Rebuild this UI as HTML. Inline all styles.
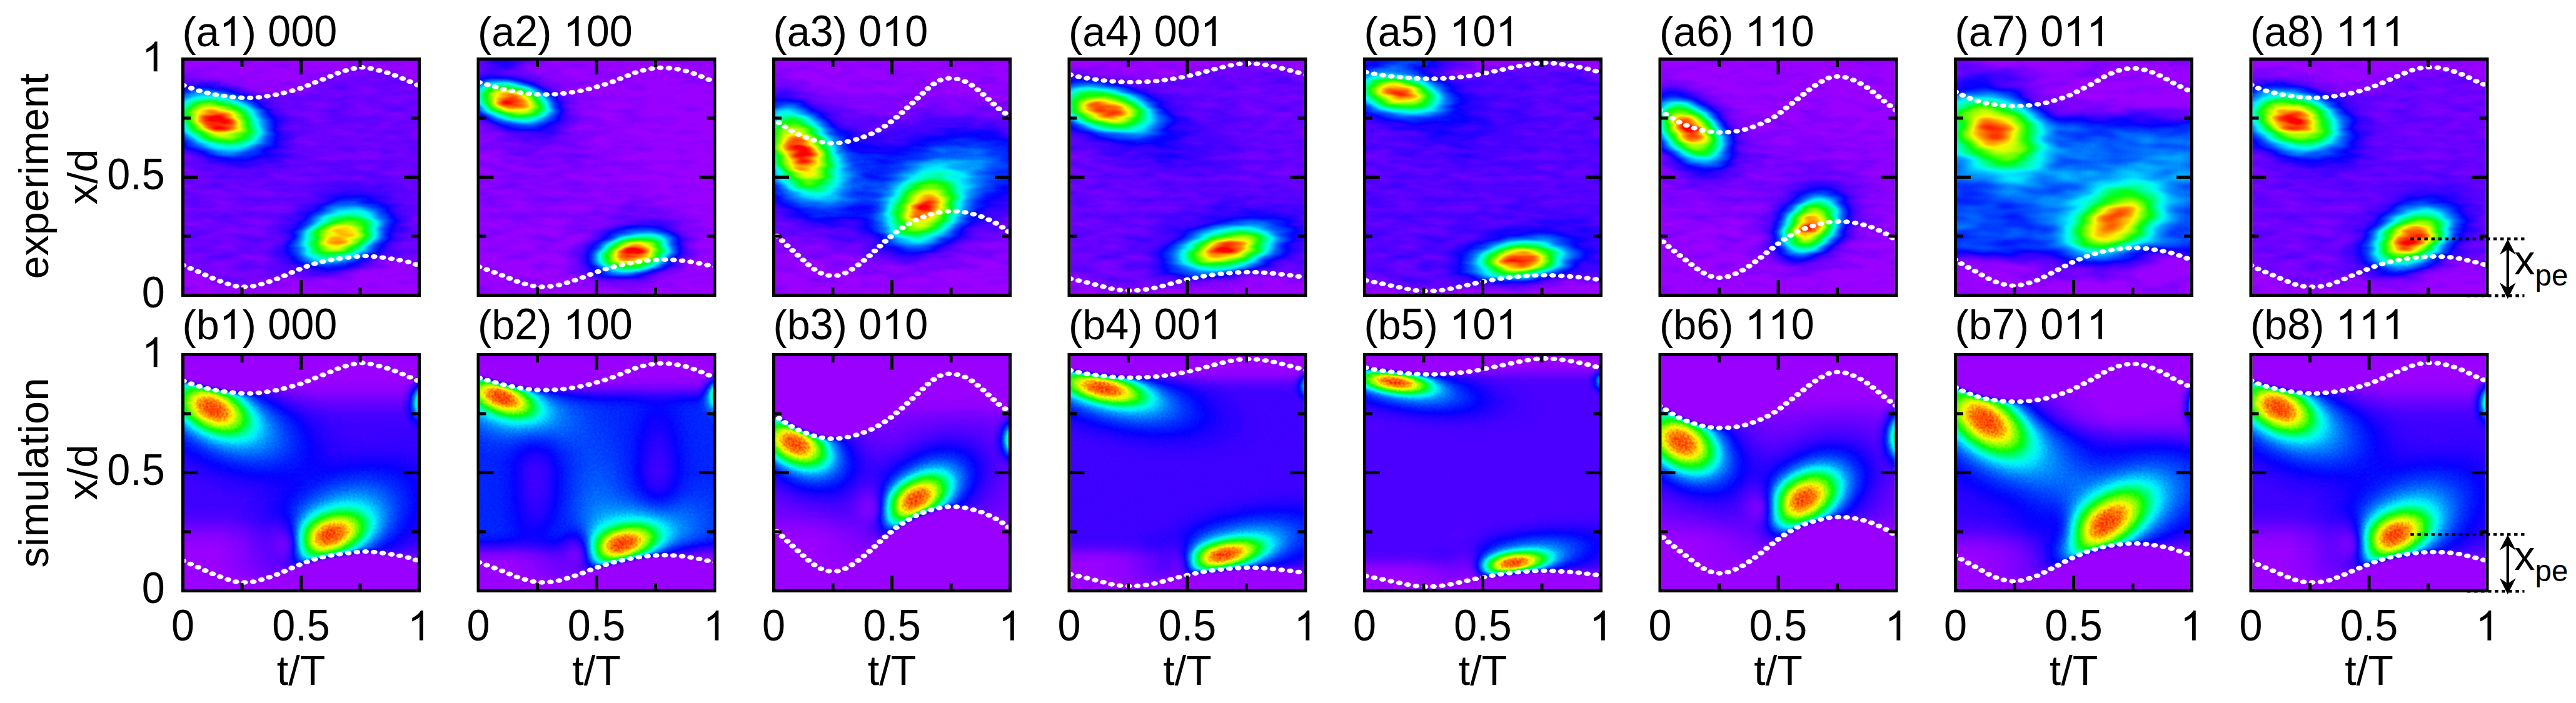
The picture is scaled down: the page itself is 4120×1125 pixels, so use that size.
<!DOCTYPE html>
<html><head><meta charset="utf-8"><title>figure</title><style>html,body{margin:0;padding:0;background:#fff;overflow:hidden}svg{display:block}text{font-family:"Liberation Sans",sans-serif;font-size:66.5px;fill:#000;font-kerning:none}.fr{fill:none;stroke:#000;stroke-width:5}.tk{fill:none;stroke:#000;stroke-width:5}.dot{fill:none;stroke:#fff;stroke-width:7.4;stroke-linecap:round;stroke-dasharray:0.01 9.6}.dl{fill:none;stroke:#000;stroke-width:4.6;stroke-dasharray:5.5 5.55}</style></head>
<body>
<svg width="4120" height="1125" viewBox="0 0 4120 1125">
<defs>
<clipPath id="inner"><rect x="5" y="5" width="373" height="373"/></clipPath>
<filter id="cma" filterUnits="userSpaceOnUse" x="0" y="0" width="383" height="383" color-interpolation-filters="sRGB"><feTurbulence type="fractalNoise" baseFrequency="0.022 0.085" numOctaves="2" seed="7" result="n"/><feColorMatrix in="n" type="matrix" values="1 0 0 0 0  1 0 0 0 0  1 0 0 0 0  0 0 0 0 1" result="n1"/><feComposite in="SourceGraphic" in2="n1" operator="arithmetic" k1="0.22" k2="0.89" k3="0.06" k4="-0.03" result="m"/><feComponentTransfer in="m"><feFuncR type="table" tableValues="0.6 0.41 0.22 0.02 0 0 0 0 0 0 0 0 0 0 0.08 0.28 0.47 0.66 0.85 1 1 1 1 1 1"/><feFuncG type="table" tableValues="0 0 0 0 0.17 0.36 0.55 0.74 0.93 1 1 1 1 1 1 1 1 1 1 0.96 0.77 0.58 0.38 0.19 0"/><feFuncB type="table" tableValues="1 1 1 1 1 1 1 1 1 0.88 0.68 0.49 0.3 0.11 0 0 0 0 0 0 0 0 0 0 0"/></feComponentTransfer></filter>
<filter id="cmb" filterUnits="userSpaceOnUse" x="0" y="0" width="383" height="383" color-interpolation-filters="sRGB"><feTurbulence type="fractalNoise" baseFrequency="0.28" numOctaves="1" seed="3" result="n"/><feColorMatrix in="n" type="matrix" values="1 0 0 0 0  1 0 0 0 0  1 0 0 0 0  0 0 0 0 1" result="n1"/><feComposite in="SourceGraphic" in2="n1" operator="arithmetic" k1="0.18" k2="0.91" k3="0" k4="0" result="m"/><feComponentTransfer in="m"><feFuncR type="table" tableValues="0.6 0.41 0.22 0.02 0 0 0 0 0 0 0 0 0 0 0.08 0.28 0.47 0.66 0.85 1 1 1 1 1 1"/><feFuncG type="table" tableValues="0 0 0 0 0.17 0.36 0.55 0.74 0.93 1 1 1 1 1 1 1 1 1 1 0.96 0.77 0.58 0.38 0.19 0"/><feFuncB type="table" tableValues="1 1 1 1 1 1 1 1 1 0.88 0.68 0.49 0.3 0.11 0 0 0 0 0 0 0 0 0 0 0"/></feComponentTransfer></filter>
<filter id="cmc" filterUnits="userSpaceOnUse" x="0" y="0" width="383" height="383" color-interpolation-filters="sRGB"><feTurbulence type="fractalNoise" baseFrequency="0.016 0.05" numOctaves="2" seed="11" result="n"/><feColorMatrix in="n" type="matrix" values="1 0 0 0 0  1 0 0 0 0  1 0 0 0 0  0 0 0 0 1" result="n1"/><feComposite in="SourceGraphic" in2="n1" operator="arithmetic" k1="0.2" k2="0.9" k3="0.1" k4="-0.05" result="m"/><feComponentTransfer in="m"><feFuncR type="table" tableValues="0.6 0.41 0.22 0.02 0 0 0 0 0 0 0 0 0 0 0.08 0.28 0.47 0.66 0.85 1 1 1 1 1 1"/><feFuncG type="table" tableValues="0 0 0 0 0.17 0.36 0.55 0.74 0.93 1 1 1 1 1 1 1 1 1 1 0.96 0.77 0.58 0.38 0.19 0"/><feFuncB type="table" tableValues="1 1 1 1 1 1 1 1 1 0.88 0.68 0.49 0.3 0.11 0 0 0 0 0 0 0 0 0 0 0"/></feComponentTransfer></filter>
<filter id="cmn" filterUnits="userSpaceOnUse" x="0" y="0" width="383" height="383" color-interpolation-filters="sRGB"><feComponentTransfer><feFuncR type="table" tableValues="0.6 0.41 0.22 0.02 0 0 0 0 0 0 0 0 0 0 0.08 0.28 0.47 0.66 0.85 1 1 1 1 1 1"/><feFuncG type="table" tableValues="0 0 0 0 0.17 0.36 0.55 0.74 0.93 1 1 1 1 1 1 1 1 1 1 0.96 0.77 0.58 0.38 0.19 0"/><feFuncB type="table" tableValues="1 1 1 1 1 1 1 1 1 0.88 0.68 0.49 0.3 0.11 0 0 0 0 0 0 0 0 0 0 0"/></feComponentTransfer></filter>
<filter id="b3" filterUnits="userSpaceOnUse" x="-80" y="-80" width="543" height="543" color-interpolation-filters="sRGB"><feGaussianBlur stdDeviation="3"/></filter>
<filter id="b8" filterUnits="userSpaceOnUse" x="-80" y="-80" width="543" height="543" color-interpolation-filters="sRGB"><feGaussianBlur stdDeviation="8"/></filter>
<filter id="b9" filterUnits="userSpaceOnUse" x="-80" y="-80" width="543" height="543" color-interpolation-filters="sRGB"><feGaussianBlur stdDeviation="9"/></filter>
<filter id="b10" filterUnits="userSpaceOnUse" x="-80" y="-80" width="543" height="543" color-interpolation-filters="sRGB"><feGaussianBlur stdDeviation="10"/></filter>
<filter id="b12" filterUnits="userSpaceOnUse" x="-80" y="-80" width="543" height="543" color-interpolation-filters="sRGB"><feGaussianBlur stdDeviation="12"/></filter>
<filter id="b14" filterUnits="userSpaceOnUse" x="-80" y="-80" width="543" height="543" color-interpolation-filters="sRGB"><feGaussianBlur stdDeviation="14"/></filter>
<filter id="b16" filterUnits="userSpaceOnUse" x="-80" y="-80" width="543" height="543" color-interpolation-filters="sRGB"><feGaussianBlur stdDeviation="16"/></filter>
<filter id="b18" filterUnits="userSpaceOnUse" x="-80" y="-80" width="543" height="543" color-interpolation-filters="sRGB"><feGaussianBlur stdDeviation="18"/></filter>
<radialGradient id="g10_20"><stop offset="0" stop-color="#fff" stop-opacity="0.098"/><stop offset="0.04" stop-color="#fff" stop-opacity="0.097"/><stop offset="0.08" stop-color="#fff" stop-opacity="0.095"/><stop offset="0.12" stop-color="#fff" stop-opacity="0.091"/><stop offset="0.17" stop-color="#fff" stop-opacity="0.086"/><stop offset="0.21" stop-color="#fff" stop-opacity="0.081"/><stop offset="0.25" stop-color="#fff" stop-opacity="0.074"/><stop offset="0.29" stop-color="#fff" stop-opacity="0.067"/><stop offset="0.33" stop-color="#fff" stop-opacity="0.059"/><stop offset="0.38" stop-color="#fff" stop-opacity="0.052"/><stop offset="0.42" stop-color="#fff" stop-opacity="0.045"/><stop offset="0.46" stop-color="#fff" stop-opacity="0.038"/><stop offset="0.5" stop-color="#fff" stop-opacity="0.032"/><stop offset="0.54" stop-color="#fff" stop-opacity="0.026"/><stop offset="0.58" stop-color="#fff" stop-opacity="0.021"/><stop offset="0.62" stop-color="#fff" stop-opacity="0.017"/><stop offset="0.67" stop-color="#fff" stop-opacity="0.013"/><stop offset="0.71" stop-color="#fff" stop-opacity="0.01"/><stop offset="0.75" stop-color="#fff" stop-opacity="0.008"/><stop offset="0.79" stop-color="#fff" stop-opacity="0.006"/><stop offset="0.83" stop-color="#fff" stop-opacity="0.004"/><stop offset="0.88" stop-color="#fff" stop-opacity="0.003"/><stop offset="0.92" stop-color="#fff" stop-opacity="0.002"/><stop offset="0.96" stop-color="#fff" stop-opacity="0.002"/><stop offset="1" stop-color="#fff" stop-opacity="0"/></radialGradient>
<radialGradient id="g102_22"><stop offset="0" stop-color="#fff" stop-opacity="1"/><stop offset="0.04" stop-color="#fff" stop-opacity="1"/><stop offset="0.08" stop-color="#fff" stop-opacity="0.996"/><stop offset="0.12" stop-color="#fff" stop-opacity="0.963"/><stop offset="0.17" stop-color="#fff" stop-opacity="0.915"/><stop offset="0.21" stop-color="#fff" stop-opacity="0.854"/><stop offset="0.25" stop-color="#fff" stop-opacity="0.782"/><stop offset="0.29" stop-color="#fff" stop-opacity="0.703"/><stop offset="0.33" stop-color="#fff" stop-opacity="0.619"/><stop offset="0.38" stop-color="#fff" stop-opacity="0.534"/><stop offset="0.42" stop-color="#fff" stop-opacity="0.451"/><stop offset="0.46" stop-color="#fff" stop-opacity="0.372"/><stop offset="0.5" stop-color="#fff" stop-opacity="0.301"/><stop offset="0.54" stop-color="#fff" stop-opacity="0.238"/><stop offset="0.58" stop-color="#fff" stop-opacity="0.184"/><stop offset="0.62" stop-color="#fff" stop-opacity="0.139"/><stop offset="0.67" stop-color="#fff" stop-opacity="0.103"/><stop offset="0.71" stop-color="#fff" stop-opacity="0.074"/><stop offset="0.75" stop-color="#fff" stop-opacity="0.052"/><stop offset="0.79" stop-color="#fff" stop-opacity="0.036"/><stop offset="0.83" stop-color="#fff" stop-opacity="0.024"/><stop offset="0.88" stop-color="#fff" stop-opacity="0.016"/><stop offset="0.92" stop-color="#fff" stop-opacity="0.01"/><stop offset="0.96" stop-color="#fff" stop-opacity="0.006"/><stop offset="1" stop-color="#fff" stop-opacity="0"/></radialGradient>
<radialGradient id="g87_22"><stop offset="0" stop-color="#fff" stop-opacity="0.87"/><stop offset="0.04" stop-color="#fff" stop-opacity="0.866"/><stop offset="0.08" stop-color="#fff" stop-opacity="0.85"/><stop offset="0.12" stop-color="#fff" stop-opacity="0.821"/><stop offset="0.17" stop-color="#fff" stop-opacity="0.78"/><stop offset="0.21" stop-color="#fff" stop-opacity="0.728"/><stop offset="0.25" stop-color="#fff" stop-opacity="0.667"/><stop offset="0.29" stop-color="#fff" stop-opacity="0.599"/><stop offset="0.33" stop-color="#fff" stop-opacity="0.528"/><stop offset="0.38" stop-color="#fff" stop-opacity="0.455"/><stop offset="0.42" stop-color="#fff" stop-opacity="0.384"/><stop offset="0.46" stop-color="#fff" stop-opacity="0.318"/><stop offset="0.5" stop-color="#fff" stop-opacity="0.257"/><stop offset="0.54" stop-color="#fff" stop-opacity="0.203"/><stop offset="0.58" stop-color="#fff" stop-opacity="0.157"/><stop offset="0.62" stop-color="#fff" stop-opacity="0.119"/><stop offset="0.67" stop-color="#fff" stop-opacity="0.087"/><stop offset="0.71" stop-color="#fff" stop-opacity="0.063"/><stop offset="0.75" stop-color="#fff" stop-opacity="0.044"/><stop offset="0.79" stop-color="#fff" stop-opacity="0.03"/><stop offset="0.83" stop-color="#fff" stop-opacity="0.02"/><stop offset="0.88" stop-color="#fff" stop-opacity="0.013"/><stop offset="0.92" stop-color="#fff" stop-opacity="0.008"/><stop offset="0.96" stop-color="#fff" stop-opacity="0.005"/><stop offset="1" stop-color="#fff" stop-opacity="0"/></radialGradient>
<radialGradient id="g2_20"><stop offset="0" stop-color="#fff" stop-opacity="0.022"/><stop offset="0.04" stop-color="#fff" stop-opacity="0.022"/><stop offset="0.08" stop-color="#fff" stop-opacity="0.021"/><stop offset="0.12" stop-color="#fff" stop-opacity="0.021"/><stop offset="0.17" stop-color="#fff" stop-opacity="0.019"/><stop offset="0.21" stop-color="#fff" stop-opacity="0.018"/><stop offset="0.25" stop-color="#fff" stop-opacity="0.017"/><stop offset="0.29" stop-color="#fff" stop-opacity="0.015"/><stop offset="0.33" stop-color="#fff" stop-opacity="0.013"/><stop offset="0.38" stop-color="#fff" stop-opacity="0.012"/><stop offset="0.42" stop-color="#fff" stop-opacity="0.01"/><stop offset="0.46" stop-color="#fff" stop-opacity="0.009"/><stop offset="0.5" stop-color="#fff" stop-opacity="0.007"/><stop offset="0.54" stop-color="#fff" stop-opacity="0.006"/><stop offset="0.58" stop-color="#fff" stop-opacity="0.005"/><stop offset="0.62" stop-color="#fff" stop-opacity="0.004"/><stop offset="0.67" stop-color="#fff" stop-opacity="0.003"/><stop offset="0.71" stop-color="#fff" stop-opacity="0.002"/><stop offset="0.75" stop-color="#fff" stop-opacity="0.002"/><stop offset="0.79" stop-color="#fff" stop-opacity="0.001"/><stop offset="0.83" stop-color="#fff" stop-opacity="0.001"/><stop offset="0.88" stop-color="#fff" stop-opacity="0.001"/><stop offset="0.92" stop-color="#fff" stop-opacity="0.001"/><stop offset="0.96" stop-color="#fff" stop-opacity="0"/><stop offset="1" stop-color="#fff" stop-opacity="0"/></radialGradient>
<radialGradient id="g11_20"><stop offset="0" stop-color="#fff" stop-opacity="0.112"/><stop offset="0.04" stop-color="#fff" stop-opacity="0.111"/><stop offset="0.08" stop-color="#fff" stop-opacity="0.109"/><stop offset="0.12" stop-color="#fff" stop-opacity="0.104"/><stop offset="0.17" stop-color="#fff" stop-opacity="0.099"/><stop offset="0.21" stop-color="#fff" stop-opacity="0.092"/><stop offset="0.25" stop-color="#fff" stop-opacity="0.085"/><stop offset="0.29" stop-color="#fff" stop-opacity="0.076"/><stop offset="0.33" stop-color="#fff" stop-opacity="0.068"/><stop offset="0.38" stop-color="#fff" stop-opacity="0.059"/><stop offset="0.42" stop-color="#fff" stop-opacity="0.051"/><stop offset="0.46" stop-color="#fff" stop-opacity="0.044"/><stop offset="0.5" stop-color="#fff" stop-opacity="0.036"/><stop offset="0.54" stop-color="#fff" stop-opacity="0.03"/><stop offset="0.58" stop-color="#fff" stop-opacity="0.024"/><stop offset="0.62" stop-color="#fff" stop-opacity="0.019"/><stop offset="0.67" stop-color="#fff" stop-opacity="0.015"/><stop offset="0.71" stop-color="#fff" stop-opacity="0.012"/><stop offset="0.75" stop-color="#fff" stop-opacity="0.009"/><stop offset="0.79" stop-color="#fff" stop-opacity="0.007"/><stop offset="0.83" stop-color="#fff" stop-opacity="0.005"/><stop offset="0.88" stop-color="#fff" stop-opacity="0.004"/><stop offset="0.92" stop-color="#fff" stop-opacity="0.003"/><stop offset="0.96" stop-color="#fff" stop-opacity="0.002"/><stop offset="1" stop-color="#fff" stop-opacity="0"/></radialGradient>
<radialGradient id="g13_20"><stop offset="0" stop-color="#fff" stop-opacity="0.133"/><stop offset="0.04" stop-color="#fff" stop-opacity="0.132"/><stop offset="0.08" stop-color="#fff" stop-opacity="0.129"/><stop offset="0.12" stop-color="#fff" stop-opacity="0.124"/><stop offset="0.17" stop-color="#fff" stop-opacity="0.117"/><stop offset="0.21" stop-color="#fff" stop-opacity="0.109"/><stop offset="0.25" stop-color="#fff" stop-opacity="0.1"/><stop offset="0.29" stop-color="#fff" stop-opacity="0.091"/><stop offset="0.33" stop-color="#fff" stop-opacity="0.081"/><stop offset="0.38" stop-color="#fff" stop-opacity="0.071"/><stop offset="0.42" stop-color="#fff" stop-opacity="0.061"/><stop offset="0.46" stop-color="#fff" stop-opacity="0.052"/><stop offset="0.5" stop-color="#fff" stop-opacity="0.043"/><stop offset="0.54" stop-color="#fff" stop-opacity="0.036"/><stop offset="0.58" stop-color="#fff" stop-opacity="0.029"/><stop offset="0.62" stop-color="#fff" stop-opacity="0.023"/><stop offset="0.67" stop-color="#fff" stop-opacity="0.018"/><stop offset="0.71" stop-color="#fff" stop-opacity="0.014"/><stop offset="0.75" stop-color="#fff" stop-opacity="0.011"/><stop offset="0.79" stop-color="#fff" stop-opacity="0.008"/><stop offset="0.83" stop-color="#fff" stop-opacity="0.006"/><stop offset="0.88" stop-color="#fff" stop-opacity="0.004"/><stop offset="0.92" stop-color="#fff" stop-opacity="0.003"/><stop offset="0.96" stop-color="#fff" stop-opacity="0.002"/><stop offset="1" stop-color="#fff" stop-opacity="0"/></radialGradient>
<radialGradient id="g100_22"><stop offset="0" stop-color="#fff" stop-opacity="1"/><stop offset="0.04" stop-color="#fff" stop-opacity="0.995"/><stop offset="0.08" stop-color="#fff" stop-opacity="0.977"/><stop offset="0.12" stop-color="#fff" stop-opacity="0.944"/><stop offset="0.17" stop-color="#fff" stop-opacity="0.897"/><stop offset="0.21" stop-color="#fff" stop-opacity="0.837"/><stop offset="0.25" stop-color="#fff" stop-opacity="0.767"/><stop offset="0.29" stop-color="#fff" stop-opacity="0.689"/><stop offset="0.33" stop-color="#fff" stop-opacity="0.607"/><stop offset="0.38" stop-color="#fff" stop-opacity="0.523"/><stop offset="0.42" stop-color="#fff" stop-opacity="0.442"/><stop offset="0.46" stop-color="#fff" stop-opacity="0.365"/><stop offset="0.5" stop-color="#fff" stop-opacity="0.295"/><stop offset="0.54" stop-color="#fff" stop-opacity="0.233"/><stop offset="0.58" stop-color="#fff" stop-opacity="0.18"/><stop offset="0.62" stop-color="#fff" stop-opacity="0.136"/><stop offset="0.67" stop-color="#fff" stop-opacity="0.101"/><stop offset="0.71" stop-color="#fff" stop-opacity="0.072"/><stop offset="0.75" stop-color="#fff" stop-opacity="0.051"/><stop offset="0.79" stop-color="#fff" stop-opacity="0.035"/><stop offset="0.83" stop-color="#fff" stop-opacity="0.023"/><stop offset="0.88" stop-color="#fff" stop-opacity="0.015"/><stop offset="0.92" stop-color="#fff" stop-opacity="0.01"/><stop offset="0.96" stop-color="#fff" stop-opacity="0.006"/><stop offset="1" stop-color="#fff" stop-opacity="0"/></radialGradient>
<radialGradient id="g92_22"><stop offset="0" stop-color="#fff" stop-opacity="0.92"/><stop offset="0.04" stop-color="#fff" stop-opacity="0.915"/><stop offset="0.08" stop-color="#fff" stop-opacity="0.898"/><stop offset="0.12" stop-color="#fff" stop-opacity="0.868"/><stop offset="0.17" stop-color="#fff" stop-opacity="0.825"/><stop offset="0.21" stop-color="#fff" stop-opacity="0.77"/><stop offset="0.25" stop-color="#fff" stop-opacity="0.705"/><stop offset="0.29" stop-color="#fff" stop-opacity="0.634"/><stop offset="0.33" stop-color="#fff" stop-opacity="0.558"/><stop offset="0.38" stop-color="#fff" stop-opacity="0.481"/><stop offset="0.42" stop-color="#fff" stop-opacity="0.406"/><stop offset="0.46" stop-color="#fff" stop-opacity="0.336"/><stop offset="0.5" stop-color="#fff" stop-opacity="0.272"/><stop offset="0.54" stop-color="#fff" stop-opacity="0.215"/><stop offset="0.58" stop-color="#fff" stop-opacity="0.166"/><stop offset="0.62" stop-color="#fff" stop-opacity="0.125"/><stop offset="0.67" stop-color="#fff" stop-opacity="0.092"/><stop offset="0.71" stop-color="#fff" stop-opacity="0.067"/><stop offset="0.75" stop-color="#fff" stop-opacity="0.047"/><stop offset="0.79" stop-color="#fff" stop-opacity="0.032"/><stop offset="0.83" stop-color="#fff" stop-opacity="0.022"/><stop offset="0.88" stop-color="#fff" stop-opacity="0.014"/><stop offset="0.92" stop-color="#fff" stop-opacity="0.009"/><stop offset="0.96" stop-color="#fff" stop-opacity="0.006"/><stop offset="1" stop-color="#fff" stop-opacity="0"/></radialGradient>
<radialGradient id="g6_20"><stop offset="0" stop-color="#fff" stop-opacity="0.06"/><stop offset="0.04" stop-color="#fff" stop-opacity="0.06"/><stop offset="0.08" stop-color="#fff" stop-opacity="0.058"/><stop offset="0.12" stop-color="#fff" stop-opacity="0.056"/><stop offset="0.17" stop-color="#fff" stop-opacity="0.053"/><stop offset="0.21" stop-color="#fff" stop-opacity="0.049"/><stop offset="0.25" stop-color="#fff" stop-opacity="0.045"/><stop offset="0.29" stop-color="#fff" stop-opacity="0.041"/><stop offset="0.33" stop-color="#fff" stop-opacity="0.036"/><stop offset="0.38" stop-color="#fff" stop-opacity="0.032"/><stop offset="0.42" stop-color="#fff" stop-opacity="0.027"/><stop offset="0.46" stop-color="#fff" stop-opacity="0.023"/><stop offset="0.5" stop-color="#fff" stop-opacity="0.019"/><stop offset="0.54" stop-color="#fff" stop-opacity="0.016"/><stop offset="0.58" stop-color="#fff" stop-opacity="0.013"/><stop offset="0.62" stop-color="#fff" stop-opacity="0.01"/><stop offset="0.67" stop-color="#fff" stop-opacity="0.008"/><stop offset="0.71" stop-color="#fff" stop-opacity="0.006"/><stop offset="0.75" stop-color="#fff" stop-opacity="0.005"/><stop offset="0.79" stop-color="#fff" stop-opacity="0.004"/><stop offset="0.83" stop-color="#fff" stop-opacity="0.003"/><stop offset="0.88" stop-color="#fff" stop-opacity="0.002"/><stop offset="0.92" stop-color="#fff" stop-opacity="0.001"/><stop offset="0.96" stop-color="#fff" stop-opacity="0.001"/><stop offset="1" stop-color="#fff" stop-opacity="0"/></radialGradient>
<radialGradient id="g7_20"><stop offset="0" stop-color="#fff" stop-opacity="0.068"/><stop offset="0.04" stop-color="#fff" stop-opacity="0.067"/><stop offset="0.08" stop-color="#fff" stop-opacity="0.066"/><stop offset="0.12" stop-color="#fff" stop-opacity="0.063"/><stop offset="0.17" stop-color="#fff" stop-opacity="0.06"/><stop offset="0.21" stop-color="#fff" stop-opacity="0.056"/><stop offset="0.25" stop-color="#fff" stop-opacity="0.051"/><stop offset="0.29" stop-color="#fff" stop-opacity="0.046"/><stop offset="0.33" stop-color="#fff" stop-opacity="0.041"/><stop offset="0.38" stop-color="#fff" stop-opacity="0.036"/><stop offset="0.42" stop-color="#fff" stop-opacity="0.031"/><stop offset="0.46" stop-color="#fff" stop-opacity="0.026"/><stop offset="0.5" stop-color="#fff" stop-opacity="0.022"/><stop offset="0.54" stop-color="#fff" stop-opacity="0.018"/><stop offset="0.58" stop-color="#fff" stop-opacity="0.015"/><stop offset="0.62" stop-color="#fff" stop-opacity="0.012"/><stop offset="0.67" stop-color="#fff" stop-opacity="0.009"/><stop offset="0.71" stop-color="#fff" stop-opacity="0.007"/><stop offset="0.75" stop-color="#fff" stop-opacity="0.005"/><stop offset="0.79" stop-color="#fff" stop-opacity="0.004"/><stop offset="0.83" stop-color="#fff" stop-opacity="0.003"/><stop offset="0.88" stop-color="#fff" stop-opacity="0.002"/><stop offset="0.92" stop-color="#fff" stop-opacity="0.002"/><stop offset="0.96" stop-color="#fff" stop-opacity="0.001"/><stop offset="1" stop-color="#fff" stop-opacity="0"/></radialGradient>
<radialGradient id="g98_22"><stop offset="0" stop-color="#fff" stop-opacity="0.98"/><stop offset="0.04" stop-color="#fff" stop-opacity="0.975"/><stop offset="0.08" stop-color="#fff" stop-opacity="0.957"/><stop offset="0.12" stop-color="#fff" stop-opacity="0.925"/><stop offset="0.17" stop-color="#fff" stop-opacity="0.879"/><stop offset="0.21" stop-color="#fff" stop-opacity="0.82"/><stop offset="0.25" stop-color="#fff" stop-opacity="0.751"/><stop offset="0.29" stop-color="#fff" stop-opacity="0.675"/><stop offset="0.33" stop-color="#fff" stop-opacity="0.594"/><stop offset="0.38" stop-color="#fff" stop-opacity="0.513"/><stop offset="0.42" stop-color="#fff" stop-opacity="0.433"/><stop offset="0.46" stop-color="#fff" stop-opacity="0.358"/><stop offset="0.5" stop-color="#fff" stop-opacity="0.289"/><stop offset="0.54" stop-color="#fff" stop-opacity="0.229"/><stop offset="0.58" stop-color="#fff" stop-opacity="0.177"/><stop offset="0.62" stop-color="#fff" stop-opacity="0.134"/><stop offset="0.67" stop-color="#fff" stop-opacity="0.099"/><stop offset="0.71" stop-color="#fff" stop-opacity="0.071"/><stop offset="0.75" stop-color="#fff" stop-opacity="0.05"/><stop offset="0.79" stop-color="#fff" stop-opacity="0.034"/><stop offset="0.83" stop-color="#fff" stop-opacity="0.023"/><stop offset="0.88" stop-color="#fff" stop-opacity="0.015"/><stop offset="0.92" stop-color="#fff" stop-opacity="0.01"/><stop offset="0.96" stop-color="#fff" stop-opacity="0.006"/><stop offset="1" stop-color="#fff" stop-opacity="0"/></radialGradient>
<radialGradient id="g16_20"><stop offset="0" stop-color="#fff" stop-opacity="0.165"/><stop offset="0.04" stop-color="#fff" stop-opacity="0.164"/><stop offset="0.08" stop-color="#fff" stop-opacity="0.16"/><stop offset="0.12" stop-color="#fff" stop-opacity="0.154"/><stop offset="0.17" stop-color="#fff" stop-opacity="0.146"/><stop offset="0.21" stop-color="#fff" stop-opacity="0.136"/><stop offset="0.25" stop-color="#fff" stop-opacity="0.125"/><stop offset="0.29" stop-color="#fff" stop-opacity="0.113"/><stop offset="0.33" stop-color="#fff" stop-opacity="0.1"/><stop offset="0.38" stop-color="#fff" stop-opacity="0.088"/><stop offset="0.42" stop-color="#fff" stop-opacity="0.076"/><stop offset="0.46" stop-color="#fff" stop-opacity="0.064"/><stop offset="0.5" stop-color="#fff" stop-opacity="0.054"/><stop offset="0.54" stop-color="#fff" stop-opacity="0.044"/><stop offset="0.58" stop-color="#fff" stop-opacity="0.036"/><stop offset="0.62" stop-color="#fff" stop-opacity="0.028"/><stop offset="0.67" stop-color="#fff" stop-opacity="0.022"/><stop offset="0.71" stop-color="#fff" stop-opacity="0.017"/><stop offset="0.75" stop-color="#fff" stop-opacity="0.013"/><stop offset="0.79" stop-color="#fff" stop-opacity="0.01"/><stop offset="0.83" stop-color="#fff" stop-opacity="0.007"/><stop offset="0.88" stop-color="#fff" stop-opacity="0.005"/><stop offset="0.92" stop-color="#fff" stop-opacity="0.004"/><stop offset="0.96" stop-color="#fff" stop-opacity="0.003"/><stop offset="1" stop-color="#fff" stop-opacity="0"/></radialGradient>
<radialGradient id="g95_22"><stop offset="0" stop-color="#fff" stop-opacity="0.95"/><stop offset="0.04" stop-color="#fff" stop-opacity="0.945"/><stop offset="0.08" stop-color="#fff" stop-opacity="0.928"/><stop offset="0.12" stop-color="#fff" stop-opacity="0.897"/><stop offset="0.17" stop-color="#fff" stop-opacity="0.852"/><stop offset="0.21" stop-color="#fff" stop-opacity="0.795"/><stop offset="0.25" stop-color="#fff" stop-opacity="0.728"/><stop offset="0.29" stop-color="#fff" stop-opacity="0.654"/><stop offset="0.33" stop-color="#fff" stop-opacity="0.576"/><stop offset="0.38" stop-color="#fff" stop-opacity="0.497"/><stop offset="0.42" stop-color="#fff" stop-opacity="0.42"/><stop offset="0.46" stop-color="#fff" stop-opacity="0.347"/><stop offset="0.5" stop-color="#fff" stop-opacity="0.28"/><stop offset="0.54" stop-color="#fff" stop-opacity="0.222"/><stop offset="0.58" stop-color="#fff" stop-opacity="0.171"/><stop offset="0.62" stop-color="#fff" stop-opacity="0.129"/><stop offset="0.67" stop-color="#fff" stop-opacity="0.095"/><stop offset="0.71" stop-color="#fff" stop-opacity="0.069"/><stop offset="0.75" stop-color="#fff" stop-opacity="0.048"/><stop offset="0.79" stop-color="#fff" stop-opacity="0.033"/><stop offset="0.83" stop-color="#fff" stop-opacity="0.022"/><stop offset="0.88" stop-color="#fff" stop-opacity="0.015"/><stop offset="0.92" stop-color="#fff" stop-opacity="0.009"/><stop offset="0.96" stop-color="#fff" stop-opacity="0.006"/><stop offset="1" stop-color="#fff" stop-opacity="0"/></radialGradient>
<radialGradient id="g3_20"><stop offset="0" stop-color="#fff" stop-opacity="0.026"/><stop offset="0.04" stop-color="#fff" stop-opacity="0.026"/><stop offset="0.08" stop-color="#fff" stop-opacity="0.025"/><stop offset="0.12" stop-color="#fff" stop-opacity="0.024"/><stop offset="0.17" stop-color="#fff" stop-opacity="0.023"/><stop offset="0.21" stop-color="#fff" stop-opacity="0.021"/><stop offset="0.25" stop-color="#fff" stop-opacity="0.02"/><stop offset="0.29" stop-color="#fff" stop-opacity="0.018"/><stop offset="0.33" stop-color="#fff" stop-opacity="0.016"/><stop offset="0.38" stop-color="#fff" stop-opacity="0.014"/><stop offset="0.42" stop-color="#fff" stop-opacity="0.012"/><stop offset="0.46" stop-color="#fff" stop-opacity="0.01"/><stop offset="0.5" stop-color="#fff" stop-opacity="0.008"/><stop offset="0.54" stop-color="#fff" stop-opacity="0.007"/><stop offset="0.58" stop-color="#fff" stop-opacity="0.006"/><stop offset="0.62" stop-color="#fff" stop-opacity="0.004"/><stop offset="0.67" stop-color="#fff" stop-opacity="0.004"/><stop offset="0.71" stop-color="#fff" stop-opacity="0.003"/><stop offset="0.75" stop-color="#fff" stop-opacity="0.002"/><stop offset="0.79" stop-color="#fff" stop-opacity="0.002"/><stop offset="0.83" stop-color="#fff" stop-opacity="0.001"/><stop offset="0.88" stop-color="#fff" stop-opacity="0.001"/><stop offset="0.92" stop-color="#fff" stop-opacity="0.001"/><stop offset="0.96" stop-color="#fff" stop-opacity="0"/><stop offset="1" stop-color="#fff" stop-opacity="0"/></radialGradient>
<radialGradient id="g9_20"><stop offset="0" stop-color="#fff" stop-opacity="0.088"/><stop offset="0.04" stop-color="#fff" stop-opacity="0.087"/><stop offset="0.08" stop-color="#fff" stop-opacity="0.085"/><stop offset="0.12" stop-color="#fff" stop-opacity="0.082"/><stop offset="0.17" stop-color="#fff" stop-opacity="0.078"/><stop offset="0.21" stop-color="#fff" stop-opacity="0.072"/><stop offset="0.25" stop-color="#fff" stop-opacity="0.066"/><stop offset="0.29" stop-color="#fff" stop-opacity="0.06"/><stop offset="0.33" stop-color="#fff" stop-opacity="0.053"/><stop offset="0.38" stop-color="#fff" stop-opacity="0.047"/><stop offset="0.42" stop-color="#fff" stop-opacity="0.04"/><stop offset="0.46" stop-color="#fff" stop-opacity="0.034"/><stop offset="0.5" stop-color="#fff" stop-opacity="0.029"/><stop offset="0.54" stop-color="#fff" stop-opacity="0.024"/><stop offset="0.58" stop-color="#fff" stop-opacity="0.019"/><stop offset="0.62" stop-color="#fff" stop-opacity="0.015"/><stop offset="0.67" stop-color="#fff" stop-opacity="0.012"/><stop offset="0.71" stop-color="#fff" stop-opacity="0.009"/><stop offset="0.75" stop-color="#fff" stop-opacity="0.007"/><stop offset="0.79" stop-color="#fff" stop-opacity="0.005"/><stop offset="0.83" stop-color="#fff" stop-opacity="0.004"/><stop offset="0.88" stop-color="#fff" stop-opacity="0.003"/><stop offset="0.92" stop-color="#fff" stop-opacity="0.002"/><stop offset="0.96" stop-color="#fff" stop-opacity="0.001"/><stop offset="1" stop-color="#fff" stop-opacity="0"/></radialGradient>
<radialGradient id="g93_22"><stop offset="0" stop-color="#fff" stop-opacity="0.93"/><stop offset="0.04" stop-color="#fff" stop-opacity="0.925"/><stop offset="0.08" stop-color="#fff" stop-opacity="0.908"/><stop offset="0.12" stop-color="#fff" stop-opacity="0.878"/><stop offset="0.17" stop-color="#fff" stop-opacity="0.834"/><stop offset="0.21" stop-color="#fff" stop-opacity="0.779"/><stop offset="0.25" stop-color="#fff" stop-opacity="0.713"/><stop offset="0.29" stop-color="#fff" stop-opacity="0.641"/><stop offset="0.33" stop-color="#fff" stop-opacity="0.564"/><stop offset="0.38" stop-color="#fff" stop-opacity="0.487"/><stop offset="0.42" stop-color="#fff" stop-opacity="0.411"/><stop offset="0.46" stop-color="#fff" stop-opacity="0.34"/><stop offset="0.5" stop-color="#fff" stop-opacity="0.275"/><stop offset="0.54" stop-color="#fff" stop-opacity="0.217"/><stop offset="0.58" stop-color="#fff" stop-opacity="0.168"/><stop offset="0.62" stop-color="#fff" stop-opacity="0.127"/><stop offset="0.67" stop-color="#fff" stop-opacity="0.093"/><stop offset="0.71" stop-color="#fff" stop-opacity="0.067"/><stop offset="0.75" stop-color="#fff" stop-opacity="0.047"/><stop offset="0.79" stop-color="#fff" stop-opacity="0.033"/><stop offset="0.83" stop-color="#fff" stop-opacity="0.022"/><stop offset="0.88" stop-color="#fff" stop-opacity="0.014"/><stop offset="0.92" stop-color="#fff" stop-opacity="0.009"/><stop offset="0.96" stop-color="#fff" stop-opacity="0.006"/><stop offset="1" stop-color="#fff" stop-opacity="0"/></radialGradient>
<radialGradient id="g8_20"><stop offset="0" stop-color="#fff" stop-opacity="0.075"/><stop offset="0.04" stop-color="#fff" stop-opacity="0.074"/><stop offset="0.08" stop-color="#fff" stop-opacity="0.073"/><stop offset="0.12" stop-color="#fff" stop-opacity="0.07"/><stop offset="0.17" stop-color="#fff" stop-opacity="0.066"/><stop offset="0.21" stop-color="#fff" stop-opacity="0.062"/><stop offset="0.25" stop-color="#fff" stop-opacity="0.057"/><stop offset="0.29" stop-color="#fff" stop-opacity="0.051"/><stop offset="0.33" stop-color="#fff" stop-opacity="0.045"/><stop offset="0.38" stop-color="#fff" stop-opacity="0.04"/><stop offset="0.42" stop-color="#fff" stop-opacity="0.034"/><stop offset="0.46" stop-color="#fff" stop-opacity="0.029"/><stop offset="0.5" stop-color="#fff" stop-opacity="0.024"/><stop offset="0.54" stop-color="#fff" stop-opacity="0.02"/><stop offset="0.58" stop-color="#fff" stop-opacity="0.016"/><stop offset="0.62" stop-color="#fff" stop-opacity="0.013"/><stop offset="0.67" stop-color="#fff" stop-opacity="0.01"/><stop offset="0.71" stop-color="#fff" stop-opacity="0.008"/><stop offset="0.75" stop-color="#fff" stop-opacity="0.006"/><stop offset="0.79" stop-color="#fff" stop-opacity="0.004"/><stop offset="0.83" stop-color="#fff" stop-opacity="0.003"/><stop offset="0.88" stop-color="#fff" stop-opacity="0.002"/><stop offset="0.92" stop-color="#fff" stop-opacity="0.002"/><stop offset="0.96" stop-color="#fff" stop-opacity="0.001"/><stop offset="1" stop-color="#fff" stop-opacity="0"/></radialGradient>
<radialGradient id="g26_20"><stop offset="0" stop-color="#fff" stop-opacity="0.26"/><stop offset="0.04" stop-color="#fff" stop-opacity="0.258"/><stop offset="0.08" stop-color="#fff" stop-opacity="0.252"/><stop offset="0.12" stop-color="#fff" stop-opacity="0.242"/><stop offset="0.17" stop-color="#fff" stop-opacity="0.229"/><stop offset="0.21" stop-color="#fff" stop-opacity="0.214"/><stop offset="0.25" stop-color="#fff" stop-opacity="0.196"/><stop offset="0.29" stop-color="#fff" stop-opacity="0.177"/><stop offset="0.33" stop-color="#fff" stop-opacity="0.158"/><stop offset="0.38" stop-color="#fff" stop-opacity="0.138"/><stop offset="0.42" stop-color="#fff" stop-opacity="0.119"/><stop offset="0.46" stop-color="#fff" stop-opacity="0.101"/><stop offset="0.5" stop-color="#fff" stop-opacity="0.084"/><stop offset="0.54" stop-color="#fff" stop-opacity="0.069"/><stop offset="0.58" stop-color="#fff" stop-opacity="0.056"/><stop offset="0.62" stop-color="#fff" stop-opacity="0.045"/><stop offset="0.67" stop-color="#fff" stop-opacity="0.035"/><stop offset="0.71" stop-color="#fff" stop-opacity="0.027"/><stop offset="0.75" stop-color="#fff" stop-opacity="0.021"/><stop offset="0.79" stop-color="#fff" stop-opacity="0.015"/><stop offset="0.83" stop-color="#fff" stop-opacity="0.011"/><stop offset="0.88" stop-color="#fff" stop-opacity="0.008"/><stop offset="0.92" stop-color="#fff" stop-opacity="0.006"/><stop offset="0.96" stop-color="#fff" stop-opacity="0.004"/><stop offset="1" stop-color="#fff" stop-opacity="0"/></radialGradient>
<radialGradient id="g91_26"><stop offset="0" stop-color="#fff" stop-opacity="0.91"/><stop offset="0.04" stop-color="#fff" stop-opacity="0.908"/><stop offset="0.08" stop-color="#fff" stop-opacity="0.898"/><stop offset="0.12" stop-color="#fff" stop-opacity="0.875"/><stop offset="0.17" stop-color="#fff" stop-opacity="0.838"/><stop offset="0.21" stop-color="#fff" stop-opacity="0.785"/><stop offset="0.25" stop-color="#fff" stop-opacity="0.718"/><stop offset="0.29" stop-color="#fff" stop-opacity="0.639"/><stop offset="0.33" stop-color="#fff" stop-opacity="0.552"/><stop offset="0.38" stop-color="#fff" stop-opacity="0.461"/><stop offset="0.42" stop-color="#fff" stop-opacity="0.373"/><stop offset="0.46" stop-color="#fff" stop-opacity="0.29"/><stop offset="0.5" stop-color="#fff" stop-opacity="0.217"/><stop offset="0.54" stop-color="#fff" stop-opacity="0.155"/><stop offset="0.58" stop-color="#fff" stop-opacity="0.107"/><stop offset="0.62" stop-color="#fff" stop-opacity="0.07"/><stop offset="0.67" stop-color="#fff" stop-opacity="0.044"/><stop offset="0.71" stop-color="#fff" stop-opacity="0.026"/><stop offset="0.75" stop-color="#fff" stop-opacity="0.015"/><stop offset="0.79" stop-color="#fff" stop-opacity="0.008"/><stop offset="0.83" stop-color="#fff" stop-opacity="0.004"/><stop offset="0.88" stop-color="#fff" stop-opacity="0.002"/><stop offset="0.92" stop-color="#fff" stop-opacity="0.001"/><stop offset="0.96" stop-color="#fff" stop-opacity="0"/><stop offset="1" stop-color="#fff" stop-opacity="0"/></radialGradient>
<radialGradient id="g70_20"><stop offset="0" stop-color="#fff" stop-opacity="0.7"/><stop offset="0.04" stop-color="#fff" stop-opacity="0.695"/><stop offset="0.08" stop-color="#fff" stop-opacity="0.678"/><stop offset="0.12" stop-color="#fff" stop-opacity="0.652"/><stop offset="0.17" stop-color="#fff" stop-opacity="0.618"/><stop offset="0.21" stop-color="#fff" stop-opacity="0.576"/><stop offset="0.25" stop-color="#fff" stop-opacity="0.528"/><stop offset="0.29" stop-color="#fff" stop-opacity="0.477"/><stop offset="0.33" stop-color="#fff" stop-opacity="0.425"/><stop offset="0.38" stop-color="#fff" stop-opacity="0.372"/><stop offset="0.42" stop-color="#fff" stop-opacity="0.32"/><stop offset="0.46" stop-color="#fff" stop-opacity="0.272"/><stop offset="0.5" stop-color="#fff" stop-opacity="0.227"/><stop offset="0.54" stop-color="#fff" stop-opacity="0.187"/><stop offset="0.58" stop-color="#fff" stop-opacity="0.151"/><stop offset="0.62" stop-color="#fff" stop-opacity="0.121"/><stop offset="0.67" stop-color="#fff" stop-opacity="0.095"/><stop offset="0.71" stop-color="#fff" stop-opacity="0.073"/><stop offset="0.75" stop-color="#fff" stop-opacity="0.056"/><stop offset="0.79" stop-color="#fff" stop-opacity="0.042"/><stop offset="0.83" stop-color="#fff" stop-opacity="0.031"/><stop offset="0.88" stop-color="#fff" stop-opacity="0.022"/><stop offset="0.92" stop-color="#fff" stop-opacity="0.016"/><stop offset="0.96" stop-color="#fff" stop-opacity="0.011"/><stop offset="1" stop-color="#fff" stop-opacity="0"/></radialGradient>
<radialGradient id="k85_20"><stop offset="0" stop-color="#000" stop-opacity="0.85"/><stop offset="0.04" stop-color="#000" stop-opacity="0.843"/><stop offset="0.08" stop-color="#000" stop-opacity="0.824"/><stop offset="0.12" stop-color="#000" stop-opacity="0.792"/><stop offset="0.17" stop-color="#000" stop-opacity="0.75"/><stop offset="0.21" stop-color="#000" stop-opacity="0.699"/><stop offset="0.25" stop-color="#000" stop-opacity="0.642"/><stop offset="0.29" stop-color="#000" stop-opacity="0.58"/><stop offset="0.33" stop-color="#000" stop-opacity="0.516"/><stop offset="0.38" stop-color="#000" stop-opacity="0.451"/><stop offset="0.42" stop-color="#000" stop-opacity="0.389"/><stop offset="0.46" stop-color="#000" stop-opacity="0.33"/><stop offset="0.5" stop-color="#000" stop-opacity="0.276"/><stop offset="0.54" stop-color="#000" stop-opacity="0.227"/><stop offset="0.58" stop-color="#000" stop-opacity="0.184"/><stop offset="0.62" stop-color="#000" stop-opacity="0.147"/><stop offset="0.67" stop-color="#000" stop-opacity="0.115"/><stop offset="0.71" stop-color="#000" stop-opacity="0.089"/><stop offset="0.75" stop-color="#000" stop-opacity="0.068"/><stop offset="0.79" stop-color="#000" stop-opacity="0.051"/><stop offset="0.83" stop-color="#000" stop-opacity="0.037"/><stop offset="0.88" stop-color="#000" stop-opacity="0.027"/><stop offset="0.92" stop-color="#000" stop-opacity="0.019"/><stop offset="0.96" stop-color="#000" stop-opacity="0.014"/><stop offset="1" stop-color="#000" stop-opacity="0"/></radialGradient>
<radialGradient id="k52_20"><stop offset="0" stop-color="#000" stop-opacity="0.52"/><stop offset="0.04" stop-color="#000" stop-opacity="0.516"/><stop offset="0.08" stop-color="#000" stop-opacity="0.504"/><stop offset="0.12" stop-color="#000" stop-opacity="0.485"/><stop offset="0.17" stop-color="#000" stop-opacity="0.459"/><stop offset="0.21" stop-color="#000" stop-opacity="0.428"/><stop offset="0.25" stop-color="#000" stop-opacity="0.393"/><stop offset="0.29" stop-color="#000" stop-opacity="0.355"/><stop offset="0.33" stop-color="#000" stop-opacity="0.315"/><stop offset="0.38" stop-color="#000" stop-opacity="0.276"/><stop offset="0.42" stop-color="#000" stop-opacity="0.238"/><stop offset="0.46" stop-color="#000" stop-opacity="0.202"/><stop offset="0.5" stop-color="#000" stop-opacity="0.169"/><stop offset="0.54" stop-color="#000" stop-opacity="0.139"/><stop offset="0.58" stop-color="#000" stop-opacity="0.112"/><stop offset="0.62" stop-color="#000" stop-opacity="0.09"/><stop offset="0.67" stop-color="#000" stop-opacity="0.07"/><stop offset="0.71" stop-color="#000" stop-opacity="0.054"/><stop offset="0.75" stop-color="#000" stop-opacity="0.041"/><stop offset="0.79" stop-color="#000" stop-opacity="0.031"/><stop offset="0.83" stop-color="#000" stop-opacity="0.023"/><stop offset="0.88" stop-color="#000" stop-opacity="0.017"/><stop offset="0.92" stop-color="#000" stop-opacity="0.012"/><stop offset="0.96" stop-color="#000" stop-opacity="0.008"/><stop offset="1" stop-color="#000" stop-opacity="0"/></radialGradient>
<radialGradient id="g30_20"><stop offset="0" stop-color="#fff" stop-opacity="0.299"/><stop offset="0.04" stop-color="#fff" stop-opacity="0.297"/><stop offset="0.08" stop-color="#fff" stop-opacity="0.29"/><stop offset="0.12" stop-color="#fff" stop-opacity="0.279"/><stop offset="0.17" stop-color="#fff" stop-opacity="0.264"/><stop offset="0.21" stop-color="#fff" stop-opacity="0.246"/><stop offset="0.25" stop-color="#fff" stop-opacity="0.226"/><stop offset="0.29" stop-color="#fff" stop-opacity="0.204"/><stop offset="0.33" stop-color="#fff" stop-opacity="0.181"/><stop offset="0.38" stop-color="#fff" stop-opacity="0.159"/><stop offset="0.42" stop-color="#fff" stop-opacity="0.137"/><stop offset="0.46" stop-color="#fff" stop-opacity="0.116"/><stop offset="0.5" stop-color="#fff" stop-opacity="0.097"/><stop offset="0.54" stop-color="#fff" stop-opacity="0.08"/><stop offset="0.58" stop-color="#fff" stop-opacity="0.065"/><stop offset="0.62" stop-color="#fff" stop-opacity="0.052"/><stop offset="0.67" stop-color="#fff" stop-opacity="0.04"/><stop offset="0.71" stop-color="#fff" stop-opacity="0.031"/><stop offset="0.75" stop-color="#fff" stop-opacity="0.024"/><stop offset="0.79" stop-color="#fff" stop-opacity="0.018"/><stop offset="0.83" stop-color="#fff" stop-opacity="0.013"/><stop offset="0.88" stop-color="#fff" stop-opacity="0.01"/><stop offset="0.92" stop-color="#fff" stop-opacity="0.007"/><stop offset="0.96" stop-color="#fff" stop-opacity="0.005"/><stop offset="1" stop-color="#fff" stop-opacity="0"/></radialGradient>
<radialGradient id="g20_20"><stop offset="0" stop-color="#fff" stop-opacity="0.195"/><stop offset="0.04" stop-color="#fff" stop-opacity="0.193"/><stop offset="0.08" stop-color="#fff" stop-opacity="0.189"/><stop offset="0.12" stop-color="#fff" stop-opacity="0.182"/><stop offset="0.17" stop-color="#fff" stop-opacity="0.172"/><stop offset="0.21" stop-color="#fff" stop-opacity="0.16"/><stop offset="0.25" stop-color="#fff" stop-opacity="0.147"/><stop offset="0.29" stop-color="#fff" stop-opacity="0.133"/><stop offset="0.33" stop-color="#fff" stop-opacity="0.118"/><stop offset="0.38" stop-color="#fff" stop-opacity="0.104"/><stop offset="0.42" stop-color="#fff" stop-opacity="0.089"/><stop offset="0.46" stop-color="#fff" stop-opacity="0.076"/><stop offset="0.5" stop-color="#fff" stop-opacity="0.063"/><stop offset="0.54" stop-color="#fff" stop-opacity="0.052"/><stop offset="0.58" stop-color="#fff" stop-opacity="0.042"/><stop offset="0.62" stop-color="#fff" stop-opacity="0.034"/><stop offset="0.67" stop-color="#fff" stop-opacity="0.026"/><stop offset="0.71" stop-color="#fff" stop-opacity="0.02"/><stop offset="0.75" stop-color="#fff" stop-opacity="0.016"/><stop offset="0.79" stop-color="#fff" stop-opacity="0.012"/><stop offset="0.83" stop-color="#fff" stop-opacity="0.009"/><stop offset="0.88" stop-color="#fff" stop-opacity="0.006"/><stop offset="0.92" stop-color="#fff" stop-opacity="0.004"/><stop offset="0.96" stop-color="#fff" stop-opacity="0.003"/><stop offset="1" stop-color="#fff" stop-opacity="0"/></radialGradient>
<radialGradient id="g23_20"><stop offset="0" stop-color="#fff" stop-opacity="0.234"/><stop offset="0.04" stop-color="#fff" stop-opacity="0.232"/><stop offset="0.08" stop-color="#fff" stop-opacity="0.227"/><stop offset="0.12" stop-color="#fff" stop-opacity="0.218"/><stop offset="0.17" stop-color="#fff" stop-opacity="0.207"/><stop offset="0.21" stop-color="#fff" stop-opacity="0.192"/><stop offset="0.25" stop-color="#fff" stop-opacity="0.177"/><stop offset="0.29" stop-color="#fff" stop-opacity="0.16"/><stop offset="0.33" stop-color="#fff" stop-opacity="0.142"/><stop offset="0.38" stop-color="#fff" stop-opacity="0.124"/><stop offset="0.42" stop-color="#fff" stop-opacity="0.107"/><stop offset="0.46" stop-color="#fff" stop-opacity="0.091"/><stop offset="0.5" stop-color="#fff" stop-opacity="0.076"/><stop offset="0.54" stop-color="#fff" stop-opacity="0.062"/><stop offset="0.58" stop-color="#fff" stop-opacity="0.051"/><stop offset="0.62" stop-color="#fff" stop-opacity="0.04"/><stop offset="0.67" stop-color="#fff" stop-opacity="0.032"/><stop offset="0.71" stop-color="#fff" stop-opacity="0.024"/><stop offset="0.75" stop-color="#fff" stop-opacity="0.019"/><stop offset="0.79" stop-color="#fff" stop-opacity="0.014"/><stop offset="0.83" stop-color="#fff" stop-opacity="0.01"/><stop offset="0.88" stop-color="#fff" stop-opacity="0.007"/><stop offset="0.92" stop-color="#fff" stop-opacity="0.005"/><stop offset="0.96" stop-color="#fff" stop-opacity="0.004"/><stop offset="1" stop-color="#fff" stop-opacity="0"/></radialGradient>
<radialGradient id="g50_20"><stop offset="0" stop-color="#fff" stop-opacity="0.5"/><stop offset="0.04" stop-color="#fff" stop-opacity="0.496"/><stop offset="0.08" stop-color="#fff" stop-opacity="0.485"/><stop offset="0.12" stop-color="#fff" stop-opacity="0.466"/><stop offset="0.17" stop-color="#fff" stop-opacity="0.441"/><stop offset="0.21" stop-color="#fff" stop-opacity="0.411"/><stop offset="0.25" stop-color="#fff" stop-opacity="0.377"/><stop offset="0.29" stop-color="#fff" stop-opacity="0.341"/><stop offset="0.33" stop-color="#fff" stop-opacity="0.303"/><stop offset="0.38" stop-color="#fff" stop-opacity="0.266"/><stop offset="0.42" stop-color="#fff" stop-opacity="0.229"/><stop offset="0.46" stop-color="#fff" stop-opacity="0.194"/><stop offset="0.5" stop-color="#fff" stop-opacity="0.162"/><stop offset="0.54" stop-color="#fff" stop-opacity="0.134"/><stop offset="0.58" stop-color="#fff" stop-opacity="0.108"/><stop offset="0.62" stop-color="#fff" stop-opacity="0.086"/><stop offset="0.67" stop-color="#fff" stop-opacity="0.068"/><stop offset="0.71" stop-color="#fff" stop-opacity="0.052"/><stop offset="0.75" stop-color="#fff" stop-opacity="0.04"/><stop offset="0.79" stop-color="#fff" stop-opacity="0.03"/><stop offset="0.83" stop-color="#fff" stop-opacity="0.022"/><stop offset="0.88" stop-color="#fff" stop-opacity="0.016"/><stop offset="0.92" stop-color="#fff" stop-opacity="0.011"/><stop offset="0.96" stop-color="#fff" stop-opacity="0.008"/><stop offset="1" stop-color="#fff" stop-opacity="0"/></radialGradient>
<radialGradient id="g25_20"><stop offset="0" stop-color="#fff" stop-opacity="0.247"/><stop offset="0.04" stop-color="#fff" stop-opacity="0.245"/><stop offset="0.08" stop-color="#fff" stop-opacity="0.239"/><stop offset="0.12" stop-color="#fff" stop-opacity="0.23"/><stop offset="0.17" stop-color="#fff" stop-opacity="0.218"/><stop offset="0.21" stop-color="#fff" stop-opacity="0.203"/><stop offset="0.25" stop-color="#fff" stop-opacity="0.186"/><stop offset="0.29" stop-color="#fff" stop-opacity="0.168"/><stop offset="0.33" stop-color="#fff" stop-opacity="0.15"/><stop offset="0.38" stop-color="#fff" stop-opacity="0.131"/><stop offset="0.42" stop-color="#fff" stop-opacity="0.113"/><stop offset="0.46" stop-color="#fff" stop-opacity="0.096"/><stop offset="0.5" stop-color="#fff" stop-opacity="0.08"/><stop offset="0.54" stop-color="#fff" stop-opacity="0.066"/><stop offset="0.58" stop-color="#fff" stop-opacity="0.053"/><stop offset="0.62" stop-color="#fff" stop-opacity="0.043"/><stop offset="0.67" stop-color="#fff" stop-opacity="0.033"/><stop offset="0.71" stop-color="#fff" stop-opacity="0.026"/><stop offset="0.75" stop-color="#fff" stop-opacity="0.02"/><stop offset="0.79" stop-color="#fff" stop-opacity="0.015"/><stop offset="0.83" stop-color="#fff" stop-opacity="0.011"/><stop offset="0.88" stop-color="#fff" stop-opacity="0.008"/><stop offset="0.92" stop-color="#fff" stop-opacity="0.006"/><stop offset="0.96" stop-color="#fff" stop-opacity="0.004"/><stop offset="1" stop-color="#fff" stop-opacity="0"/></radialGradient>
<radialGradient id="k50_20"><stop offset="0" stop-color="#000" stop-opacity="0.5"/><stop offset="0.04" stop-color="#000" stop-opacity="0.496"/><stop offset="0.08" stop-color="#000" stop-opacity="0.485"/><stop offset="0.12" stop-color="#000" stop-opacity="0.466"/><stop offset="0.17" stop-color="#000" stop-opacity="0.441"/><stop offset="0.21" stop-color="#000" stop-opacity="0.411"/><stop offset="0.25" stop-color="#000" stop-opacity="0.377"/><stop offset="0.29" stop-color="#000" stop-opacity="0.341"/><stop offset="0.33" stop-color="#000" stop-opacity="0.303"/><stop offset="0.38" stop-color="#000" stop-opacity="0.266"/><stop offset="0.42" stop-color="#000" stop-opacity="0.229"/><stop offset="0.46" stop-color="#000" stop-opacity="0.194"/><stop offset="0.5" stop-color="#000" stop-opacity="0.162"/><stop offset="0.54" stop-color="#000" stop-opacity="0.134"/><stop offset="0.58" stop-color="#000" stop-opacity="0.108"/><stop offset="0.62" stop-color="#000" stop-opacity="0.086"/><stop offset="0.67" stop-color="#000" stop-opacity="0.068"/><stop offset="0.71" stop-color="#000" stop-opacity="0.052"/><stop offset="0.75" stop-color="#000" stop-opacity="0.04"/><stop offset="0.79" stop-color="#000" stop-opacity="0.03"/><stop offset="0.83" stop-color="#000" stop-opacity="0.022"/><stop offset="0.88" stop-color="#000" stop-opacity="0.016"/><stop offset="0.92" stop-color="#000" stop-opacity="0.011"/><stop offset="0.96" stop-color="#000" stop-opacity="0.008"/><stop offset="1" stop-color="#000" stop-opacity="0"/></radialGradient>
</defs>
<g transform="translate(290 92)">
<g clip-path="url(#inner)"><g filter="url(#cma)">
<rect x="0" y="0" width="383" height="383" fill="#000"/>
<path d="M-8.84 40.43C-6.54 41.22 -1.09 43.1 4.94 45.17C10.97 47.24 19.79 50.63 27.35 52.87C34.92 55.11 42.68 57.06 50.34 58.62C58 60.18 65.57 61.28 73.33 62.24C81.09 63.2 89.71 64.01 96.89 64.36C104.07 64.72 110.3 64.7 116.43 64.36C122.56 64.03 127.92 63.15 133.67 62.37C139.42 61.58 145.16 60.78 150.91 59.65C156.66 58.52 161.4 57.34 168.15 55.57C174.9 53.8 184.72 51.28 191.43 49.03C198.13 46.79 201.72 44.78 208.38 42.11C215.04 39.44 223.7 36.11 231.37 33.01C239.03 29.92 246.69 26.19 254.35 23.56C262.02 20.93 271.11 18.53 277.34 17.25C283.57 15.98 286.44 15.62 291.71 15.89C296.97 16.16 301.76 17.18 308.95 18.89C316.13 20.61 326.67 23.45 334.81 26.18C342.95 28.91 350.61 32.3 357.8 35.27C364.98 38.24 372.23 41.55 377.91 44.02C383.58 46.49 389.52 49.07 391.84 50.08L391.84 337.22C389.52 336.39 382.15 333.74 377.91 332.22C373.67 330.7 372.88 329.72 366.42 328.1C359.95 326.48 348.7 324.09 339.12 322.51C329.54 320.93 316.47 319.44 308.95 318.62C301.43 317.8 299.03 317.56 294.01 317.58C288.98 317.61 286.1 318.02 278.78 318.77C271.45 319.53 259.38 320.71 250.04 322.14C240.7 323.57 231.13 325.28 222.75 327.35C214.36 329.43 207.42 331.81 199.76 334.58C192.1 337.35 184.67 340.65 176.77 343.97C168.87 347.3 160.49 351.42 152.35 354.53C144.21 357.65 134.39 360.75 127.92 362.68C121.46 364.61 118.35 365.4 113.56 366.11C108.77 366.82 103.98 367.03 99.19 366.93C94.4 366.84 89.37 366.45 84.82 365.54C80.27 364.63 77.88 363.61 71.89 361.49C65.91 359.37 56.33 355.92 48.9 352.82C41.48 349.73 34.68 346.18 27.35 342.94C20.03 339.7 10.97 335.95 4.94 333.37C-1.09 330.8 -6.54 328.47 -8.84 327.49Z" fill="#fff" fill-opacity="0.038" filter="url(#b10)"/>
<ellipse cx="85.66" cy="119.68" rx="147.42" ry="102.06" transform="rotate(15 85.66 119.68)" fill="url(#g10_20)"/>
<ellipse cx="267.1" cy="263.32" rx="147.42" ry="113.4" transform="rotate(-15 267.1 263.32)" fill="url(#g10_20)"/>
<ellipse cx="58.82" cy="101.91" rx="129.28" ry="78.25" transform="rotate(15 58.82 101.91)" fill="url(#g102_22)"/>
<ellipse cx="253.11" cy="286.76" rx="123.61" ry="74.84" transform="rotate(-20 253.11 286.76)" fill="url(#g87_22)"/>
</g>
<g transform="scale(1.45 1)">
<path d="M-6.1 40.43C-4.51 41.22 -0.75 43.1 3.41 45.17C7.57 47.24 13.65 50.63 18.86 52.87C24.08 55.11 29.43 57.06 34.72 58.62C40 60.18 45.22 61.28 50.57 62.24C55.92 63.2 61.87 64.01 66.82 64.36C71.78 64.72 76.07 64.7 80.3 64.36C84.52 64.03 88.22 63.15 92.19 62.37C96.15 61.58 100.11 60.78 104.08 59.65C108.04 58.52 111.31 57.34 115.97 55.57C120.62 53.8 127.39 51.28 132.02 49.03C136.64 46.79 139.12 44.78 143.71 42.11C148.3 39.44 154.28 36.11 159.56 33.01C164.85 29.92 170.13 26.19 175.42 23.56C180.7 20.93 186.98 18.53 191.27 17.25C195.56 15.98 197.54 15.62 201.18 15.89C204.81 16.16 208.11 17.18 213.07 18.89C218.02 20.61 225.29 23.45 230.9 26.18C236.52 28.91 241.8 32.3 246.76 35.27C251.71 38.24 256.71 41.55 260.63 44.02C264.54 46.49 268.63 49.07 270.23 50.08" class="dot"/>
<path d="M-6.1 327.49C-4.51 328.47 -0.75 330.8 3.41 333.37C7.57 335.95 13.81 339.7 18.86 342.94C23.92 346.18 28.61 349.73 33.73 352.82C38.85 355.92 45.45 359.37 49.58 361.49C53.71 363.61 55.36 364.63 58.5 365.54C61.64 366.45 65.1 366.84 68.41 366.93C71.71 367.03 75.01 366.82 78.31 366.11C81.62 365.4 83.76 364.61 88.22 362.68C92.68 360.75 99.45 357.65 105.07 354.53C110.68 351.42 116.46 347.3 121.91 343.97C127.36 340.65 132.48 337.35 137.76 334.58C143.05 331.81 147.84 329.43 153.62 327.35C159.4 325.28 166 323.57 172.44 322.14C178.88 320.71 187.21 319.53 192.26 318.77C197.31 318.02 199.29 317.61 202.76 317.58C206.23 317.56 207.88 317.8 213.07 318.62C218.25 319.44 227.27 320.93 233.87 322.51C240.48 324.09 248.24 326.48 252.7 328.1C257.16 329.72 257.7 330.7 260.63 332.22C263.55 333.74 268.63 336.39 270.23 337.22" class="dot"/>
</g>
</g>
<rect x="2.5" y="2.5" width="378" height="378" class="fr"/>
<path d="M97 2.5v12.5M97 380.5v-12.5M2.5 286h12.5M380.5 286h-12.5M191.5 2.5v24.5M191.5 380.5v-24.5M2.5 191.5h24.5M380.5 191.5h-24.5M286 2.5v12.5M286 380.5v-12.5M2.5 97h12.5M380.5 97h-12.5" class="tk"/>
</g>
<text x="291.6" y="73.7" text-anchor="start">(a</text>
<path transform="translate(350.72 73.7) scale(0.03247 -0.03247)" d="M763 0L583 0L583 1147Q518 1085 412.5 1023Q307 961 223 930L223 1104Q374 1175 487 1276Q600 1377 647 1472L763 1472Z"/>
<text x="387.69" y="73.7" text-anchor="start">)</text>
<text transform="translate(428.32 73.7) scale(1 1.06)">000</text>
<g transform="translate(762.5 92)">
<g clip-path="url(#inner)"><g filter="url(#cma)">
<rect x="0" y="0" width="383" height="383" fill="#000"/>
<ellipse cx="97" cy="172.6" rx="340.2" ry="283.5" transform="rotate(0 97 172.6)" fill="url(#g2_20)"/>
<ellipse cx="40.3" cy="6.28" rx="79.38" ry="28.35" transform="rotate(0 40.3 6.28)" fill="url(#g11_20)"/>
<ellipse cx="78.1" cy="89.44" rx="124.74" ry="90.72" transform="rotate(15 78.1 89.44)" fill="url(#g10_20)"/>
<ellipse cx="259.54" cy="297.34" rx="136.08" ry="102.06" transform="rotate(-10 259.54 297.34)" fill="url(#g10_20)"/>
<ellipse cx="55.99" cy="70.54" rx="114.53" ry="55.57" transform="rotate(12 55.99 70.54)" fill="url(#g102_22)"/>
<ellipse cx="250.09" cy="313.22" rx="112.27" ry="55.57" transform="rotate(-10 250.09 313.22)" fill="url(#g102_22)"/>
</g>
<g transform="scale(1.45 1)">
<path d="M-6.1 36.25C-4.45 36.92 0.69 39.03 3.75 40.28C6.81 41.54 9.37 42.59 12.27 43.78C15.18 44.97 18.22 46.25 21.19 47.42C24.16 48.6 26.97 49.77 30.11 50.83C33.25 51.89 36.71 52.85 40.02 53.79C43.32 54.73 46.62 55.75 49.93 56.49C53.23 57.24 56.53 57.82 59.83 58.26C63.14 58.7 66.27 58.98 69.74 59.12C73.21 59.26 77.17 59.26 80.64 59.12C84.11 58.98 87.25 58.67 90.55 58.26C93.85 57.84 97.15 57.25 100.46 56.62C103.76 55.99 107.06 55.33 110.37 54.48C113.67 53.62 117.14 52.53 120.27 51.49C123.41 50.45 126.22 49.41 129.19 48.24C132.16 47.08 135.14 45.83 138.11 44.51C141.08 43.18 144.22 41.72 147.03 40.28C149.83 38.85 152.31 37.41 154.95 35.89C157.6 34.36 160.24 32.69 162.88 31.13C165.52 29.57 168.16 28.01 170.81 26.54C173.45 25.07 175.76 23.58 178.73 22.31C181.71 21.04 185.34 19.83 188.64 18.91C191.94 17.98 195.25 17.16 198.55 16.78C201.85 16.4 205.16 16.44 208.46 16.65C211.76 16.86 215.06 17.37 218.37 18.04C221.67 18.71 225.14 19.59 228.27 20.67C231.41 21.75 234.38 23.16 237.19 24.52C240 25.89 242.48 27.36 245.12 28.88C247.76 30.4 250.4 32.07 253.05 33.63C255.69 35.2 258.11 36.6 260.97 38.27C263.84 39.95 268.69 42.79 270.23 43.7" class="dot"/>
<path d="M-6.1 330.69C-4.45 331.52 0.69 334.12 3.75 335.67C6.81 337.22 9.53 338.54 12.27 339.98C15.02 341.42 17.56 342.84 20.2 344.29C22.84 345.74 25.49 347.16 28.13 348.69C30.77 350.21 33.41 351.88 36.05 353.44C38.7 355 41.17 356.57 43.98 358.04C46.79 359.51 49.93 361.01 52.9 362.26C55.87 363.51 58.68 364.76 61.82 365.54C64.95 366.32 68.42 366.83 71.72 366.93C75.03 367.04 78.33 366.7 81.63 366.16C84.93 365.61 88.4 364.67 91.54 363.66C94.68 362.65 97.65 361.32 100.46 360.09C103.26 358.87 105.74 357.62 108.38 356.32C111.03 355.01 113.67 353.69 116.31 352.25C118.95 350.81 121.43 349.25 124.24 347.7C127.04 346.14 130.18 344.45 133.15 342.94C136.13 341.43 139.1 339.98 142.07 338.63C145.04 337.28 147.85 336.05 150.99 334.85C154.13 333.65 157.6 332.49 160.9 331.45C164.2 330.4 167.5 329.43 170.81 328.57C174.11 327.71 177.41 326.94 180.71 326.27C184.02 325.61 187.32 325.02 190.62 324.59C193.93 324.16 197.06 323.87 200.53 323.69C204 323.5 207.96 323.38 211.43 323.49C214.9 323.59 218.04 323.89 221.34 324.31C224.64 324.72 227.94 325.32 231.25 325.99C234.55 326.65 237.85 327.43 241.16 328.29C244.46 329.14 247.76 330.12 251.06 331.12C254.37 332.11 257.78 333.23 260.97 334.23C264.17 335.24 268.69 336.66 270.23 337.15" class="dot"/>
</g>
</g>
<rect x="2.5" y="2.5" width="378" height="378" class="fr"/>
<path d="M97 2.5v12.5M97 380.5v-12.5M2.5 286h12.5M380.5 286h-12.5M191.5 2.5v24.5M191.5 380.5v-24.5M2.5 191.5h24.5M380.5 191.5h-24.5M286 2.5v12.5M286 380.5v-12.5M2.5 97h12.5M380.5 97h-12.5" class="tk"/>
</g>
<text x="764.1" y="73.7" text-anchor="start">(a</text>
<text transform="translate(823.22 73.7) scale(1 1.06)">2</text>
<text x="860.19" y="73.7" text-anchor="start">)</text>
<path transform="translate(900.82 73.7) scale(0.03247 -0.03247)" d="M763 0L583 0L583 1147Q518 1085 412.5 1023Q307 961 223 930L223 1104Q374 1175 487 1276Q600 1377 647 1472L763 1472Z"/><text transform="translate(937.8 73.7) scale(1 1.06)">00</text>
<g transform="translate(1235 92)">
<g clip-path="url(#inner)"><g filter="url(#cma)">
<rect x="0" y="0" width="383" height="383" fill="#000"/>
<ellipse cx="191.5" cy="191.5" rx="680.4" ry="192.78" transform="rotate(0 191.5 191.5)" fill="url(#g11_20)"/>
<ellipse cx="335.14" cy="165.04" rx="170.1" ry="102.06" transform="rotate(0 335.14 165.04)" fill="url(#g11_20)"/>
<ellipse cx="78.1" cy="183.94" rx="181.44" ry="136.08" transform="rotate(40 78.1 183.94)" fill="url(#g13_20)"/>
<ellipse cx="259.54" cy="214.18" rx="192.78" ry="147.42" transform="rotate(-30 259.54 214.18)" fill="url(#g13_20)"/>
<ellipse cx="44.46" cy="151.05" rx="139.48" ry="91.85" transform="rotate(58 44.46 151.05)" fill="url(#g100_22)"/>
<ellipse cx="242.91" cy="242.53" rx="122.47" ry="90.72" transform="rotate(-40 242.91 242.53)" fill="url(#g92_22)"/>
</g>
<g transform="scale(1.45 1)">
<path d="M-6.1 90.57C-4.2 92.48 2 98.75 5.29 102.06C8.57 105.38 10.9 107.87 13.61 110.47C16.32 113.07 18.89 115.47 21.54 117.65C24.18 119.83 26.66 121.69 29.46 123.53C32.27 125.36 35.41 127.1 38.38 128.66C41.35 130.21 44.33 131.7 47.3 132.88C50.27 134.06 53.08 135.06 56.22 135.75C59.35 136.45 62.82 136.98 66.12 137.06C69.43 137.14 72.73 136.82 76.03 136.24C79.33 135.66 82.8 134.59 85.94 133.58C89.08 132.57 92.12 131.39 94.86 130.18C97.6 128.97 99.81 127.75 102.39 126.31C104.96 124.88 107.87 123.22 110.31 121.56C112.76 119.9 114.84 118.18 117.05 116.34C119.26 114.51 121.41 112.61 123.59 110.55C125.77 108.49 128.05 106.26 130.13 103.99C132.21 101.71 134.09 99.28 136.08 96.89C138.06 94.5 140.04 92.12 142.02 89.62C144 87.12 145.98 84.52 147.97 81.91C149.95 79.29 151.96 76.58 153.91 73.95C155.86 71.31 157.71 68.75 159.66 66.1C161.61 63.45 163.62 60.76 165.6 58.06C167.58 55.36 169.47 52.49 171.55 49.9C173.63 47.3 175.84 44.72 178.09 42.47C180.33 40.22 182.31 37.94 185.02 36.41C187.73 34.87 191.2 33.6 194.34 33.26C197.47 32.92 200.84 33.52 203.85 34.35C206.85 35.18 209.73 36.64 212.37 38.24C215.01 39.84 217.42 41.83 219.7 43.95C221.98 46.07 223.96 48.55 226.04 50.96C228.12 53.37 230.2 55.9 232.19 58.43C234.17 60.96 235.98 63.56 237.93 66.15C239.88 68.73 241.9 71.33 243.88 73.95C245.86 76.56 247.74 79.38 249.82 81.82C251.9 84.26 254.61 86.78 256.36 88.57C258.11 90.37 258.01 90.24 260.33 92.58C262.64 94.92 268.58 100.93 270.23 102.6" class="dot"/>
<path d="M-6.1 270.19C-4.46 272.39 1.24 280.07 3.7 283.37C6.16 286.68 6.84 287.57 8.66 290.04C10.47 292.51 12.62 295.51 14.6 298.19C16.58 300.87 18.56 303.45 20.55 306.12C22.53 308.79 24.41 311.46 26.49 314.21C28.57 316.95 30.95 319.9 33.03 322.61C35.11 325.32 36.93 327.92 38.97 330.45C41.02 332.99 43.1 335.54 45.32 337.8C47.53 340.05 49.87 342.26 52.25 343.99C54.63 345.72 56.68 347.28 59.58 348.17C62.49 349.06 66.55 349.63 69.69 349.3C72.83 348.98 75.7 347.69 78.41 346.24C81.12 344.8 83.46 342.72 85.94 340.63C88.42 338.53 90.96 336.04 93.27 333.66C95.58 331.28 97.63 328.88 99.81 326.35C101.99 323.81 104.27 321.09 106.35 318.47C108.43 315.85 110.31 313.27 112.3 310.63C114.28 307.99 116.26 305.27 118.24 302.63C120.22 299.98 122.2 297.27 124.19 294.75C126.17 292.23 128.08 289.99 130.13 287.51C132.18 285.04 134.36 282.26 136.47 279.9C138.59 277.54 140.6 275.47 142.81 273.36C145.03 271.25 147.34 269.28 149.75 267.24C152.16 265.2 154.7 263.01 157.28 261.13C159.86 259.25 162.56 257.5 165.21 255.96C167.85 254.42 170.39 253.11 173.13 251.9C175.87 250.68 178.62 249.62 181.65 248.69C184.69 247.76 188.09 246.81 191.36 246.32C194.63 245.84 197.97 245.61 201.27 245.79C204.58 245.97 207.88 246.62 211.18 247.38C214.48 248.15 218.02 249.27 221.09 250.37C224.16 251.47 226.87 252.6 229.61 253.99C232.35 255.38 234.96 257.05 237.54 258.71C240.11 260.36 242.66 262.06 245.07 263.92C247.48 265.78 249.62 267.65 252 269.88C254.38 272.12 256.3 274.25 259.33 277.34C262.37 280.43 268.42 286.58 270.23 288.42" class="dot"/>
</g>
</g>
<rect x="2.5" y="2.5" width="378" height="378" class="fr"/>
<path d="M97 2.5v12.5M97 380.5v-12.5M2.5 286h12.5M380.5 286h-12.5M191.5 2.5v24.5M191.5 380.5v-24.5M2.5 191.5h24.5M380.5 191.5h-24.5M286 2.5v12.5M286 380.5v-12.5M2.5 97h12.5M380.5 97h-12.5" class="tk"/>
</g>
<text x="1236.6" y="73.7" text-anchor="start">(a</text>
<text transform="translate(1295.72 73.7) scale(1 1.06)">3</text>
<text x="1332.69" y="73.7" text-anchor="start">)</text>
<text transform="translate(1373.32 73.7) scale(1 1.06)">0</text><path transform="translate(1410.3 73.7) scale(0.03247 -0.03247)" d="M763 0L583 0L583 1147Q518 1085 412.5 1023Q307 961 223 930L223 1104Q374 1175 487 1276Q600 1377 647 1472L763 1472Z"/><text transform="translate(1447.27 73.7) scale(1 1.06)">0</text>
<g transform="translate(1707.5 92)">
<g clip-path="url(#inner)"><g filter="url(#cma)">
<rect x="0" y="0" width="383" height="383" fill="#000"/>
<path d="M-8.84 24.48C-6.39 25.06 1.26 26.85 5.87 27.93C10.47 29.01 14.49 30.06 18.8 30.96C23.11 31.86 27.18 32.61 31.73 33.35C36.28 34.08 41.31 34.73 46.09 35.36C50.88 35.98 55.43 36.56 60.46 37.08C65.49 37.6 71 38.11 76.27 38.47C81.53 38.84 86.8 39.15 92.07 39.29C97.34 39.44 102.6 39.42 107.87 39.34C113.14 39.25 118.41 39.05 123.68 38.8C128.94 38.56 134.45 38.29 139.48 37.86C144.51 37.43 149.06 36.83 153.85 36.22C158.64 35.61 163.66 34.93 168.21 34.21C172.76 33.49 176.83 32.74 181.14 31.91C185.45 31.07 189.53 30.23 194.07 29.19C198.62 28.16 203.89 26.85 208.44 25.72C212.99 24.58 217.06 23.53 221.37 22.38C225.68 21.23 229.99 19.96 234.3 18.82C238.61 17.69 242.92 16.62 247.23 15.57C251.54 14.53 255.61 13.42 260.16 12.54C264.71 11.67 269.74 10.83 274.53 10.33C279.32 9.82 283.96 9.52 288.9 9.51C293.83 9.5 299.19 9.84 304.13 10.29C309.06 10.74 313.85 11.46 318.49 12.21C323.14 12.96 327.59 13.85 332 14.8C336.4 15.74 340.62 16.81 344.93 17.87C349.24 18.93 353.31 19.96 357.86 21.16C362.41 22.36 366.56 23.52 372.23 25.06C377.89 26.59 388.57 29.49 391.84 30.37L391.84 353.86C388.57 353.37 377.89 351.75 372.23 350.9C366.56 350.04 362.65 349.36 357.86 348.73C353.07 348.1 348.38 347.65 343.49 347.12C338.61 346.59 333.58 345.99 328.55 345.53C323.52 345.06 318.4 344.66 313.32 344.33C308.24 344.01 303.22 343.69 298.09 343.56C292.97 343.43 287.7 343.43 282.58 343.56C277.45 343.69 272.42 344.01 267.35 344.33C262.27 344.66 257.15 345.05 252.12 345.53C247.09 346 242.16 346.59 237.18 347.21C232.2 347.82 226.93 348.49 222.23 349.22C217.54 349.94 213.47 350.7 209.02 351.56C204.56 352.42 200.01 353.39 195.51 354.39C191.01 355.39 186.41 356.46 182.01 357.55C177.6 358.65 173.29 359.81 169.08 360.96C164.86 362.1 160.93 363.27 156.72 364.4C152.51 365.54 148.34 366.74 143.79 367.77C139.24 368.79 134.21 369.8 129.42 370.55C124.63 371.3 119.85 371.89 115.06 372.28C110.27 372.66 105.72 372.87 100.69 372.85C95.66 372.84 89.91 372.67 84.89 372.19C79.86 371.71 75.07 370.89 70.52 369.98C65.97 369.07 61.9 367.83 57.59 366.75C53.28 365.67 48.97 364.59 44.66 363.5C40.35 362.4 36.04 361.23 31.73 360.18C27.42 359.13 23.11 358.19 18.8 357.22C14.49 356.25 10.47 355.37 5.87 354.35C1.26 353.32 -6.39 351.62 -8.84 351.08Z" fill="#fff" fill-opacity="0.044" filter="url(#b8)"/>
<ellipse cx="134.8" cy="123.46" rx="249.48" ry="113.4" transform="rotate(15 134.8 123.46)" fill="url(#g6_20)"/>
<ellipse cx="286" cy="278.44" rx="272.16" ry="102.06" transform="rotate(-5 286 278.44)" fill="url(#g7_20)"/>
<ellipse cx="61.85" cy="83.39" rx="141.75" ry="63.5" transform="rotate(12 61.85 83.39)" fill="url(#g98_22)"/>
<ellipse cx="253.11" cy="307.17" rx="145.15" ry="61.24" transform="rotate(-12 253.11 307.17)" fill="url(#g98_22)"/>
</g>
<g transform="scale(1.45 1)">
<path d="M-6.1 24.48C-4.41 25.06 0.87 26.85 4.05 27.93C7.22 29.01 9.99 30.06 12.96 30.96C15.94 31.86 18.74 32.61 21.88 33.35C25.02 34.08 28.49 34.73 31.79 35.36C35.09 35.98 38.23 36.56 41.7 37.08C45.17 37.6 48.96 38.11 52.6 38.47C56.23 38.84 59.86 39.15 63.5 39.29C67.13 39.44 70.76 39.42 74.39 39.34C78.03 39.25 81.66 39.05 85.29 38.8C88.93 38.56 92.73 38.29 96.19 37.86C99.66 37.43 102.8 36.83 106.1 36.22C109.4 35.61 112.87 34.93 116.01 34.21C119.15 33.49 121.95 32.74 124.93 31.91C127.9 31.07 130.71 30.23 133.84 29.19C136.98 28.16 140.62 26.85 143.75 25.72C146.89 24.58 149.7 23.53 152.67 22.38C155.64 21.23 158.62 19.96 161.59 18.82C164.56 17.69 167.53 16.62 170.51 15.57C173.48 14.53 176.29 13.42 179.42 12.54C182.56 11.67 186.03 10.83 189.33 10.33C192.63 9.82 195.84 9.52 199.24 9.51C202.64 9.5 206.34 9.84 209.74 10.29C213.14 10.74 216.45 11.46 219.65 12.21C222.85 12.96 225.93 13.85 228.96 14.8C232 15.74 234.91 16.81 237.88 17.87C240.85 18.93 243.66 19.96 246.8 21.16C249.94 22.36 252.8 23.52 256.71 25.06C260.61 26.59 267.98 29.49 270.23 30.37" class="dot"/>
<path d="M-6.1 351.08C-4.41 351.62 0.87 353.32 4.05 354.35C7.22 355.37 9.99 356.25 12.96 357.22C15.94 358.19 18.91 359.13 21.88 360.18C24.85 361.23 27.83 362.4 30.8 363.5C33.77 364.59 36.74 365.67 39.72 366.75C42.69 367.83 45.5 369.07 48.63 369.98C51.77 370.89 55.07 371.71 58.54 372.19C62.01 372.67 65.97 372.84 69.44 372.85C72.91 372.87 76.05 372.66 79.35 372.28C82.65 371.89 85.95 371.3 89.26 370.55C92.56 369.8 96.03 368.79 99.17 367.77C102.3 366.74 105.18 365.54 108.08 364.4C110.99 363.27 113.7 362.1 116.6 360.96C119.51 359.81 122.48 358.65 125.52 357.55C128.56 356.46 131.73 355.39 134.84 354.39C137.94 353.39 141.08 352.42 144.15 351.56C147.22 350.7 150.03 349.94 153.26 349.22C156.5 348.49 160.13 347.82 163.57 347.21C167 346.59 170.41 346 173.87 345.53C177.34 345.05 180.88 344.66 184.38 344.33C187.88 344.01 191.35 343.69 194.88 343.56C198.41 343.43 202.05 343.43 205.58 343.56C209.11 343.69 212.58 344.01 216.08 344.33C219.58 344.66 223.12 345.06 226.59 345.53C230.05 345.99 233.52 346.59 236.89 347.12C240.26 347.65 243.5 348.1 246.8 348.73C250.1 349.36 252.8 350.04 256.71 350.9C260.61 351.75 267.98 353.37 270.23 353.86" class="dot"/>
</g>
</g>
<rect x="2.5" y="2.5" width="378" height="378" class="fr"/>
<path d="M97 2.5v12.5M97 380.5v-12.5M2.5 286h12.5M380.5 286h-12.5M191.5 2.5v24.5M191.5 380.5v-24.5M2.5 191.5h24.5M380.5 191.5h-24.5M286 2.5v12.5M286 380.5v-12.5M2.5 97h12.5M380.5 97h-12.5" class="tk"/>
</g>
<text x="1709.1" y="73.7" text-anchor="start">(a</text>
<text transform="translate(1768.22 73.7) scale(1 1.06)">4</text>
<text x="1805.19" y="73.7" text-anchor="start">)</text>
<text transform="translate(1845.82 73.7) scale(1 1.06)">00</text><path transform="translate(1919.77 73.7) scale(0.03247 -0.03247)" d="M763 0L583 0L583 1147Q518 1085 412.5 1023Q307 961 223 930L223 1104Q374 1175 487 1276Q600 1377 647 1472L763 1472Z"/>
<g transform="translate(2180 92)">
<g clip-path="url(#inner)"><g filter="url(#cma)">
<rect x="0" y="0" width="383" height="383" fill="#000"/>
<path d="M-8.84 20.86C-6.31 21.37 1.92 23.02 6.37 23.91C10.82 24.8 13.55 25.45 17.86 26.2C22.17 26.96 27.44 27.75 32.23 28.42C37.02 29.08 41.81 29.65 46.59 30.18C51.38 30.72 56.17 31.19 60.96 31.62C65.75 32.05 70.54 32.44 75.33 32.77C80.12 33.11 84.76 33.41 89.7 33.63C94.63 33.86 99.9 34.08 104.92 34.12C109.95 34.16 114.74 34.05 119.87 33.88C124.99 33.7 130.64 33.39 135.67 33.06C140.7 32.72 145.1 32.34 150.04 31.87C154.97 31.39 160.24 30.81 165.27 30.18C170.29 29.56 175.56 28.9 180.21 28.13C184.85 27.36 188.59 26.47 193.14 25.54C197.69 24.61 202.86 23.51 207.5 22.56C212.15 21.6 216.46 20.75 221.01 19.8C225.56 18.84 230.35 17.75 234.8 16.81C239.26 15.87 243.28 15 247.73 14.14C252.19 13.27 256.74 12.38 261.52 11.64C266.31 10.89 271.58 10.16 276.47 9.67C281.35 9.18 286.19 8.75 290.83 8.69C295.48 8.64 299.69 8.98 304.34 9.34C308.98 9.69 313.77 10.2 318.71 10.82C323.64 11.44 329 12.23 333.93 13.07C338.87 13.91 343.75 14.9 348.3 15.86C352.85 16.82 356.92 17.77 361.23 18.82C365.54 19.87 369.06 20.86 374.16 22.18C379.26 23.51 388.89 26.01 391.84 26.78L391.84 357.3C388.65 356.91 378.55 355.65 372.73 354.92C366.91 354.2 361.95 353.56 356.92 352.95C351.89 352.35 347.44 351.75 342.55 351.27C337.67 350.79 332.64 350.43 327.61 350.08C322.58 349.73 317.41 349.45 312.38 349.17C307.36 348.9 302.61 348.56 297.44 348.44C292.27 348.32 286.62 348.31 281.35 348.44C276.08 348.57 270.96 348.9 265.83 349.22C260.71 349.54 255.54 349.94 250.61 350.37C245.67 350.8 241.03 351.27 236.24 351.8C231.45 352.34 226.52 352.91 221.87 353.57C217.23 354.23 212.92 355.02 208.37 355.78C203.82 356.55 199.03 357.31 194.57 358.17C190.12 359.02 185.81 360.01 181.64 360.91C177.48 361.82 173.79 362.66 169.58 363.59C165.36 364.51 160.81 365.47 156.36 366.46C151.9 367.44 147.4 368.57 142.85 369.49C138.3 370.41 133.75 371.33 129.06 371.99C124.37 372.65 119.34 373.14 114.69 373.43C110.05 373.71 106.07 373.82 101.19 373.71C96.3 373.61 90.27 373.32 85.39 372.81C80.5 372.3 76.43 371.47 71.88 370.64C67.33 369.81 62.64 368.8 58.09 367.85C53.54 366.91 49.04 365.93 44.58 364.98C40.13 364.03 35.72 363.05 31.37 362.15C27.01 361.25 22.6 360.38 18.44 359.56C14.27 358.74 10.91 358.1 6.37 357.22C1.82 356.34 -6.31 354.76 -8.84 354.27Z" fill="#fff" fill-opacity="0.060" filter="url(#b8)"/>
<ellipse cx="66.76" cy="8.17" rx="158.76" ry="34.02" transform="rotate(0 66.76 8.17)" fill="url(#g16_20)"/>
<ellipse cx="115.9" cy="85.66" rx="204.12" ry="102.06" transform="rotate(15 115.9 85.66)" fill="url(#g7_20)"/>
<ellipse cx="286" cy="304.9" rx="226.8" ry="90.72" transform="rotate(-5 286 304.9)" fill="url(#g7_20)"/>
<ellipse cx="57.5" cy="57.5" rx="123.61" ry="57.83" transform="rotate(8 57.5 57.5)" fill="url(#g95_22)"/>
<ellipse cx="250.09" cy="324.18" rx="129.28" ry="54.43" transform="rotate(-5 250.09 324.18)" fill="url(#g102_22)"/>
</g>
<g transform="scale(1.45 1)">
<path d="M-6.1 20.86C-4.35 21.37 1.32 23.02 4.39 23.91C7.46 24.8 9.35 25.45 12.32 26.2C15.29 26.96 18.92 27.75 22.23 28.42C25.53 29.08 28.83 29.65 32.13 30.18C35.44 30.72 38.74 31.19 42.04 31.62C45.35 32.05 48.65 32.44 51.95 32.77C55.25 33.11 58.46 33.41 61.86 33.63C65.26 33.86 68.89 34.08 72.36 34.12C75.83 34.16 79.13 34.05 82.67 33.88C86.2 33.7 90.1 33.39 93.57 33.06C97.03 32.72 100.07 32.34 103.47 31.87C106.88 31.39 110.51 30.81 113.98 30.18C117.44 29.56 121.08 28.9 124.28 28.13C127.48 27.36 130.06 26.47 133.2 25.54C136.34 24.61 139.9 23.51 143.11 22.56C146.31 21.6 149.28 20.75 152.42 19.8C155.56 18.84 158.86 17.75 161.93 16.81C165 15.87 167.78 15 170.85 14.14C173.92 13.27 177.06 12.38 180.36 11.64C183.66 10.89 187.3 10.16 190.67 9.67C194.04 9.18 197.37 8.75 200.57 8.69C203.78 8.64 206.68 8.98 209.89 9.34C213.09 9.69 216.4 10.2 219.8 10.82C223.2 11.44 226.9 12.23 230.3 13.07C233.7 13.91 237.07 14.9 240.21 15.86C243.35 16.82 246.15 17.77 249.13 18.82C252.1 19.87 254.52 20.86 258.04 22.18C261.56 23.51 268.2 26.01 270.23 26.78" class="dot"/>
<path d="M-6.1 354.27C-4.35 354.76 1.26 356.34 4.39 357.22C7.53 358.1 9.84 358.74 12.71 359.56C15.59 360.38 18.63 361.25 21.63 362.15C24.64 363.05 27.68 364.03 30.75 364.98C33.82 365.93 36.92 366.91 40.06 367.85C43.2 368.8 46.44 369.81 49.57 370.64C52.71 371.47 55.52 372.3 58.89 372.81C62.26 373.32 66.42 373.61 69.79 373.71C73.15 373.82 75.9 373.71 79.1 373.43C82.3 373.14 85.77 372.65 89.01 371.99C92.24 371.33 95.38 370.41 98.52 369.49C101.66 368.57 104.76 367.44 107.83 366.46C110.9 365.47 114.04 364.51 116.95 363.59C119.86 362.66 122.4 361.82 125.27 360.91C128.15 360.01 131.12 359.02 134.19 358.17C137.26 357.31 140.56 356.55 143.7 355.78C146.84 355.02 149.81 354.23 153.02 353.57C156.22 352.91 159.62 352.34 162.92 351.8C166.23 351.27 169.43 350.8 172.83 350.37C176.23 349.94 179.8 349.54 183.33 349.22C186.87 348.9 190.4 348.57 194.04 348.44C197.67 348.31 201.57 348.32 205.13 348.44C208.7 348.56 211.97 348.9 215.44 349.17C218.91 349.45 222.47 349.73 225.94 350.08C229.41 350.43 232.88 350.79 236.24 351.27C239.61 351.75 242.69 352.35 246.15 352.95C249.62 353.56 253.04 354.2 257.05 354.92C261.07 355.65 268.04 356.91 270.23 357.3" class="dot"/>
</g>
</g>
<rect x="2.5" y="2.5" width="378" height="378" class="fr"/>
<path d="M97 2.5v12.5M97 380.5v-12.5M2.5 286h12.5M380.5 286h-12.5M191.5 2.5v24.5M191.5 380.5v-24.5M2.5 191.5h24.5M380.5 191.5h-24.5M286 2.5v12.5M286 380.5v-12.5M2.5 97h12.5M380.5 97h-12.5" class="tk"/>
</g>
<text x="2181.6" y="73.7" text-anchor="start">(a</text>
<text transform="translate(2240.72 73.7) scale(1 1.06)">5</text>
<text x="2277.69" y="73.7" text-anchor="start">)</text>
<path transform="translate(2318.32 73.7) scale(0.03247 -0.03247)" d="M763 0L583 0L583 1147Q518 1085 412.5 1023Q307 961 223 930L223 1104Q374 1175 487 1276Q600 1377 647 1472L763 1472Z"/><text transform="translate(2355.3 73.7) scale(1 1.06)">0</text><path transform="translate(2392.27 73.7) scale(0.03247 -0.03247)" d="M763 0L583 0L583 1147Q518 1085 412.5 1023Q307 961 223 930L223 1104Q374 1175 487 1276Q600 1377 647 1472L763 1472Z"/>
<g transform="translate(2652.5 92)">
<g clip-path="url(#inner)"><g filter="url(#cma)">
<rect x="0" y="0" width="383" height="383" fill="#000"/>
<ellipse cx="153.7" cy="191.5" rx="510.3" ry="204.12" transform="rotate(0 153.7 191.5)" fill="url(#g3_20)"/>
<ellipse cx="62.98" cy="138.58" rx="124.74" ry="102.06" transform="rotate(35 62.98 138.58)" fill="url(#g10_20)"/>
<ellipse cx="251.98" cy="255.76" rx="136.08" ry="113.4" transform="rotate(-35 251.98 255.76)" fill="url(#g10_20)"/>
<ellipse cx="49.75" cy="115.9" rx="113.4" ry="72.58" transform="rotate(38 49.75 115.9)" fill="url(#g100_22)"/>
<ellipse cx="242.53" cy="269.75" rx="97.52" ry="70.31" transform="rotate(-40 242.53 269.75)" fill="url(#g95_22)"/>
</g>
<g transform="scale(1.45 1)">
<path d="M-6.1 78.03C-4.57 79.4 0.45 83.91 3.06 86.26C5.68 88.61 7.36 90.1 9.6 92.13C11.85 94.17 14.23 96.47 16.54 98.44C18.85 100.41 21.06 102.25 23.47 103.94C25.89 105.64 28.36 107.13 31 108.63C33.65 110.13 36.36 111.59 39.33 112.94C42.3 114.29 45.6 115.72 48.84 116.75C52.08 117.77 55.38 118.56 58.75 119.09C62.12 119.61 65.62 119.9 69.05 119.91C72.49 119.91 75.99 119.6 79.36 119.13C82.73 118.67 86.09 117.98 89.27 117.12C92.44 116.26 95.47 115.19 98.38 113.96C101.29 112.73 103.93 111.26 106.7 109.73C109.48 108.21 112.32 106.59 115.03 104.81C117.73 103.03 120.38 101.1 122.95 99.06C125.53 97.01 128.17 94.77 130.48 92.54C132.8 90.3 134.78 87.98 136.82 85.64C138.87 83.3 140.69 80.9 142.77 78.5C144.85 76.11 147.16 73.72 149.31 71.27C151.46 68.82 153.44 66.33 155.65 63.8C157.86 61.27 160.34 58.66 162.59 56.09C164.83 53.52 166.71 50.88 169.13 48.37C171.54 45.86 174.51 43.29 177.05 41.03C179.6 38.78 181.84 36.53 184.38 34.84C186.93 33.15 189.31 31.55 192.31 30.87C195.32 30.2 199.18 30.23 202.42 30.79C205.65 31.35 208.79 32.75 211.73 34.22C214.67 35.69 217.35 37.63 220.05 39.59C222.76 41.56 225.57 43.84 227.98 46.03C230.39 48.22 232.44 50.43 234.52 52.73C236.6 55.03 238.48 57.44 240.47 59.82C242.45 62.2 244.36 64.61 246.41 67.01C248.46 69.4 250.6 71.8 252.75 74.19C254.9 76.59 256.38 78.17 259.29 81.37C262.21 84.57 268.41 91.39 270.23 93.4" class="dot"/>
<path d="M-6.1 279.33C-4.57 281.44 0.61 288.6 3.06 291.99C5.51 295.38 6.63 297.18 8.61 299.67C10.59 302.16 12.87 304.53 14.95 306.94C17.03 309.34 19.02 311.72 21.1 314.12C23.18 316.51 25.29 318.89 27.44 321.3C29.58 323.72 31.73 326.1 33.98 328.62C36.22 331.13 38.53 333.92 40.91 336.4C43.29 338.88 45.77 341.38 48.24 343.5C50.72 345.62 53.03 347.66 55.78 349.12C58.52 350.58 61.72 351.85 64.69 352.26C67.67 352.67 70.74 352.31 73.61 351.57C76.48 350.84 79.22 349.34 81.93 347.85C84.64 346.37 87.28 344.59 89.86 342.68C92.44 340.77 95.01 338.61 97.39 336.4C99.77 334.19 101.91 331.73 104.13 329.43C106.34 327.14 108.59 324.97 110.67 322.65C112.75 320.34 114.56 317.94 116.61 315.56C118.66 313.18 120.87 310.75 122.95 308.37C125.03 305.99 127.02 303.59 129.1 301.28C131.18 298.96 133.22 296.77 135.44 294.49C137.65 292.22 140.06 289.75 142.37 287.61C144.69 285.47 146.83 283.58 149.31 281.65C151.79 279.72 154.36 277.77 157.24 276.03C160.11 274.3 163.58 272.64 166.55 271.23C169.52 269.83 172.16 268.72 175.07 267.61C177.98 266.5 180.85 265.4 183.99 264.58C187.13 263.76 190.53 263.03 193.9 262.7C197.27 262.37 200.83 262.39 204.2 262.61C207.57 262.84 210.87 263.35 214.11 264.05C217.35 264.75 220.55 265.75 223.62 266.79C226.69 267.84 229.73 268.98 232.54 270.33C235.35 271.68 237.82 273.23 240.47 274.88C243.11 276.54 245.92 278.42 248.39 280.26C250.87 282.09 253.35 284.06 255.33 285.87C257.31 287.69 257.8 288.5 260.28 291.13C262.77 293.77 268.58 299.94 270.23 301.7" class="dot"/>
</g>
</g>
<rect x="2.5" y="2.5" width="378" height="378" class="fr"/>
<path d="M97 2.5v12.5M97 380.5v-12.5M2.5 286h12.5M380.5 286h-12.5M191.5 2.5v24.5M191.5 380.5v-24.5M2.5 191.5h24.5M380.5 191.5h-24.5M286 2.5v12.5M286 380.5v-12.5M2.5 97h12.5M380.5 97h-12.5" class="tk"/>
</g>
<text x="2654.1" y="73.7" text-anchor="start">(a</text>
<text transform="translate(2713.22 73.7) scale(1 1.06)">6</text>
<text x="2750.19" y="73.7" text-anchor="start">)</text>
<path transform="translate(2790.82 73.7) scale(0.03247 -0.03247)" d="M763 0L583 0L583 1147Q518 1085 412.5 1023Q307 961 223 930L223 1104Q374 1175 487 1276Q600 1377 647 1472L763 1472Z"/><path transform="translate(2827.8 73.7) scale(0.03247 -0.03247)" d="M763 0L583 0L583 1147Q518 1085 412.5 1023Q307 961 223 930L223 1104Q374 1175 487 1276Q600 1377 647 1472L763 1472Z"/><text transform="translate(2864.77 73.7) scale(1 1.06)">0</text>
<g transform="translate(3125 92)">
<g clip-path="url(#inner)"><g filter="url(#cmc)">
<rect x="0" y="0" width="383" height="383" fill="#000"/>
<path d="M-73.1 47.86L97 74.32L172.6 93.22L456.1 104.56L456.1 316.24L-73.1 316.24Z" fill="#fff" fill-opacity="0.187" filter="url(#b14)"/>
<ellipse cx="47.86" cy="28.96" rx="249.48" ry="56.7" transform="rotate(0 47.86 28.96)" fill="url(#g7_20)"/>
<path d="M-8.84 49.37C-6.54 50.49 0.92 54.13 4.94 56.09C8.96 58.05 11.79 59.56 15.29 61.13C18.78 62.7 22.23 64.12 25.92 65.53C29.61 66.93 33.2 68.29 37.41 69.55C41.63 70.81 46.51 72.11 51.2 73.11C55.9 74.11 60.69 74.86 65.57 75.54C70.46 76.22 75.53 76.8 80.51 77.18C85.49 77.55 90.52 77.75 95.45 77.8C100.39 77.84 105.18 77.75 110.11 77.47C115.04 77.19 120.17 76.68 125.05 76.12C129.93 75.55 134.87 74.88 139.42 74.06C143.97 73.24 148.18 72.27 152.35 71.19C156.51 70.11 160.44 68.81 164.42 67.58C168.39 66.35 172.46 65.13 176.2 63.8C179.93 62.48 183.28 61.21 186.83 59.65C190.37 58.1 193.77 56.35 197.46 54.48C201.15 52.61 205.12 50.42 208.95 48.42C212.78 46.41 216.71 44.48 220.45 42.45C224.18 40.42 228.11 38.13 231.37 36.23C234.62 34.33 236.78 32.76 239.99 31.05C243.19 29.33 246.93 27.59 250.62 25.96C254.3 24.33 257.99 22.59 262.11 21.29C266.23 19.99 270.87 18.84 275.33 18.17C279.78 17.51 284.19 17.07 288.83 17.28C293.48 17.5 298.75 18.49 303.2 19.48C307.65 20.47 311.49 21.78 315.56 23.22C319.63 24.65 323.7 26.29 327.62 28.1C331.55 29.91 335.29 31.99 339.12 34.09C342.95 36.2 346.64 38.6 350.61 40.73C354.59 42.86 358.9 44.87 362.97 46.85C367.04 48.84 370.22 50.33 375.04 52.64C379.85 54.95 389.04 59.36 391.84 60.7L391.84 -40 L-8.84 -40 Z" fill="#000" fill-opacity="0.5" filter="url(#b8)"/>
<path d="M-8.84 317.26C-6.54 318.65 1.06 323.26 4.94 325.61C8.82 327.96 11.07 329.44 14.42 331.36C17.78 333.28 21.46 335.18 25.06 337.11C28.65 339.04 32.38 340.94 35.97 342.94C39.57 344.94 43.01 347.12 46.61 349.13C50.2 351.15 53.79 353.25 57.52 355.04C61.26 356.83 65.04 358.49 69.02 359.88C72.99 361.27 76.92 362.48 81.37 363.37C85.83 364.26 91.19 365.15 95.74 365.19C100.29 365.24 104.36 364.47 108.67 363.66C112.98 362.85 117.05 361.72 121.6 360.32C126.15 358.92 131.8 356.98 135.97 355.25C140.14 353.52 143.06 351.76 146.6 349.95C150.14 348.14 153.74 346.2 157.23 344.38C160.73 342.56 164.08 340.86 167.58 339.03C171.07 337.2 174.62 335.26 178.21 333.41C181.8 331.57 185.3 329.73 189.13 327.95C192.96 326.18 197.27 324.44 201.19 322.78C205.12 321.13 208.71 319.46 212.69 318.03C216.66 316.59 221.07 315.37 225.04 314.16C229.02 312.96 232.37 311.8 236.54 310.8C240.7 309.8 245.4 308.94 250.04 308.17C254.69 307.4 259.38 306.71 264.41 306.16C269.44 305.61 274.95 305.07 280.21 304.85C285.48 304.63 290.84 304.63 296.02 304.85C301.19 305.08 306.31 305.62 311.25 306.2C316.18 306.79 320.87 307.6 325.61 308.37C330.35 309.15 335.19 309.86 339.69 310.84C344.19 311.82 348.41 312.98 352.62 314.25C356.84 315.51 361 317.01 364.98 318.43C368.95 319.84 372 321.06 376.47 322.74C380.95 324.42 389.28 327.54 391.84 328.5L391.84 423 L-8.84 423 Z" fill="#000" fill-opacity="0.5" filter="url(#b8)"/>
<ellipse cx="172.6" cy="191.5" rx="170.1" ry="90.72" transform="rotate(0 172.6 191.5)" fill="url(#g7_20)"/>
<ellipse cx="342.7" cy="172.6" rx="158.76" ry="90.72" transform="rotate(0 342.7 172.6)" fill="url(#g9_20)"/>
<ellipse cx="64.72" cy="119.3" rx="147.42" ry="106.6" transform="rotate(25 64.72 119.3)" fill="url(#g93_22)"/>
<ellipse cx="256.89" cy="261.05" rx="147.42" ry="94.12" transform="rotate(-27 256.89 261.05)" fill="url(#g93_22)"/>
</g>
<g transform="scale(1.45 1)">
<path d="M-6.1 49.37C-4.51 50.49 0.63 54.13 3.41 56.09C6.18 58.05 8.13 59.56 10.54 61.13C12.95 62.7 15.33 64.12 17.87 65.53C20.42 66.93 22.89 68.29 25.8 69.55C28.71 70.81 32.08 72.11 35.31 73.11C38.55 74.11 41.85 74.86 45.22 75.54C48.59 76.22 52.09 76.8 55.53 77.18C58.96 77.55 62.43 77.75 65.83 77.8C69.23 77.84 72.53 77.75 75.94 77.47C79.34 77.19 82.87 76.68 86.24 76.12C89.61 75.55 93.01 74.88 96.15 74.06C99.29 73.24 102.19 72.27 105.07 71.19C107.94 70.11 110.65 68.81 113.39 67.58C116.13 66.35 118.94 65.13 121.51 63.8C124.09 62.48 126.4 61.21 128.85 59.65C131.29 58.1 133.64 56.35 136.18 54.48C138.72 52.61 141.46 50.42 144.11 48.42C146.75 46.41 149.46 44.48 152.03 42.45C154.61 40.42 157.32 38.13 159.56 36.23C161.81 34.33 163.29 32.76 165.51 31.05C167.72 29.33 170.3 27.59 172.84 25.96C175.38 24.33 177.93 22.59 180.77 21.29C183.61 19.99 186.81 18.84 189.88 18.17C192.95 17.51 195.99 17.07 199.2 17.28C202.4 17.5 206.03 18.49 209.1 19.48C212.18 20.47 214.82 21.78 217.62 23.22C220.43 24.65 223.24 26.29 225.95 28.1C228.66 29.91 231.23 31.99 233.87 34.09C236.52 36.2 239.06 38.6 241.8 40.73C244.54 42.86 247.51 44.87 250.32 46.85C253.13 48.84 255.33 50.33 258.65 52.64C261.96 54.95 268.3 59.36 270.23 60.7" class="dot"/>
<path d="M-6.1 317.26C-4.51 318.65 0.73 323.26 3.41 325.61C6.08 327.96 7.64 329.44 9.95 331.36C12.26 333.28 14.8 335.18 17.28 337.11C19.76 339.04 22.33 340.94 24.81 342.94C27.29 344.94 29.66 347.12 32.14 349.13C34.62 351.15 37.1 353.25 39.67 355.04C42.25 356.83 44.86 358.49 47.6 359.88C50.34 361.27 53.05 362.48 56.12 363.37C59.19 364.26 62.89 365.15 66.03 365.19C69.17 365.24 71.97 364.47 74.95 363.66C77.92 362.85 80.73 361.72 83.86 360.32C87 358.92 90.9 356.98 93.77 355.25C96.64 353.52 98.66 351.76 101.1 349.95C103.55 348.14 106.02 346.2 108.44 344.38C110.85 342.56 113.16 340.86 115.57 339.03C117.98 337.2 120.42 335.26 122.9 333.41C125.38 331.57 127.79 329.73 130.43 327.95C133.07 326.18 136.05 324.44 138.76 322.78C141.46 321.13 143.94 319.46 146.68 318.03C149.42 316.59 152.46 315.37 155.2 314.16C157.94 312.96 160.26 311.8 163.13 310.8C166 309.8 169.24 308.94 172.44 308.17C175.65 307.4 178.88 306.71 182.35 306.16C185.82 305.61 189.62 305.07 193.25 304.85C196.88 304.63 200.58 304.63 204.15 304.85C207.72 305.08 211.25 305.62 214.65 306.2C218.05 306.79 221.29 307.6 224.56 308.37C227.83 309.15 231.17 309.86 234.27 310.84C237.38 311.82 240.28 312.98 243.19 314.25C246.09 315.51 248.97 317.01 251.71 318.43C254.45 319.84 256.55 321.06 259.64 322.74C262.72 324.42 268.47 327.54 270.23 328.5" class="dot"/>
</g>
</g>
<rect x="2.5" y="2.5" width="378" height="378" class="fr"/>
<path d="M97 380.5v-12.5M2.5 286h12.5M380.5 286h-12.5M191.5 380.5v-24.5M2.5 191.5h24.5M380.5 191.5h-24.5M286 380.5v-12.5M2.5 97h12.5M380.5 97h-12.5" class="tk"/>
</g>
<text x="3126.6" y="73.7" text-anchor="start">(a</text>
<text transform="translate(3185.72 73.7) scale(1 1.06)">7</text>
<text x="3222.69" y="73.7" text-anchor="start">)</text>
<text transform="translate(3263.32 73.7) scale(1 1.06)">0</text><path transform="translate(3300.3 73.7) scale(0.03247 -0.03247)" d="M763 0L583 0L583 1147Q518 1085 412.5 1023Q307 961 223 930L223 1104Q374 1175 487 1276Q600 1377 647 1472L763 1472Z"/><path transform="translate(3337.27 73.7) scale(0.03247 -0.03247)" d="M763 0L583 0L583 1147Q518 1085 412.5 1023Q307 961 223 930L223 1104Q374 1175 487 1276Q600 1377 647 1472L763 1472Z"/>
<g transform="translate(3597.5 92)">
<g clip-path="url(#inner)"><g filter="url(#cma)">
<rect x="0" y="0" width="383" height="383" fill="#000"/>
<path d="M-8.84 38.54C-6.63 39.55 0.5 42.8 4.44 44.59C8.38 46.39 11.15 47.88 14.79 49.31C18.43 50.74 22.11 51.96 26.28 53.17C30.45 54.38 35.38 55.53 39.78 56.58C44.19 57.62 48.17 58.59 52.71 59.45C57.26 60.31 62.29 61.08 67.08 61.75C71.87 62.42 76.42 63.01 81.45 63.47C86.48 63.94 92.46 64.37 97.25 64.54C102.04 64.71 105.54 64.72 110.18 64.49C114.83 64.27 120.1 63.73 125.12 63.19C130.15 62.64 135.52 61.94 140.35 61.22C145.19 60.5 149.6 59.74 154.15 58.88C158.7 58.01 163.34 57.05 167.65 56C171.96 54.96 175.84 53.81 180.01 52.6C184.17 51.39 188.58 50.15 192.65 48.73C196.72 47.31 200.6 45.62 204.43 44.06C208.26 42.5 211.95 40.97 215.64 39.38C219.32 37.78 222.82 36.16 226.56 34.49C230.29 32.83 234.22 31.07 238.05 29.41C241.88 27.75 245.71 26.08 249.54 24.52C253.37 22.97 256.82 21.35 261.04 20.06C265.25 18.77 270.04 17.52 274.83 16.78C279.62 16.04 284.79 15.65 289.77 15.63C294.75 15.62 300.16 16.06 304.71 16.69C309.26 17.33 312.85 18.35 317.07 19.44C321.28 20.53 325.78 21.78 330 23.22C334.21 24.65 338.28 26.31 342.35 28.06C346.42 29.8 350.49 31.81 354.42 33.68C358.35 35.54 362.08 37.53 365.92 39.25C369.75 40.97 373.09 42.23 377.41 44.02C381.73 45.81 389.43 49.01 391.84 50.01L391.84 335.69C388.24 334.73 376.08 331.49 370.23 329.92C364.37 328.36 361.17 327.42 356.72 326.32C352.27 325.22 348.05 324.26 343.5 323.31C338.95 322.37 334.31 321.35 329.42 320.66C324.54 319.96 319.13 319.49 314.19 319.13C309.26 318.78 304.71 318.6 299.83 318.52C294.94 318.43 289.91 318.41 284.89 318.6C279.86 318.79 274.59 319.2 269.66 319.67C264.72 320.13 259.98 320.72 255.29 321.39C250.6 322.06 246.29 322.83 241.5 323.69C236.71 324.55 231.2 325.51 226.56 326.56C221.91 327.61 217.7 328.75 213.63 329.97C209.55 331.18 206.11 332.4 202.13 333.83C198.16 335.26 193.85 336.94 189.78 338.54C185.71 340.15 181.78 341.8 177.71 343.47C173.64 345.15 169.42 346.88 165.35 348.6C161.28 350.32 157.35 352.07 153.28 353.82C149.21 355.56 145 357.47 140.93 359.06C136.86 360.64 133.17 362.15 128.86 363.33C124.55 364.5 119.86 365.51 115.07 366.11C110.28 366.72 105.25 367.02 100.13 366.98C95 366.93 89.02 366.54 84.32 365.83C79.63 365.12 75.94 363.99 71.97 362.71C67.99 361.43 64.26 359.67 60.47 358.13C56.69 356.58 52.95 355.03 49.27 353.44C45.58 351.85 42.08 350.21 38.35 348.6C34.61 346.99 30.69 345.36 26.85 343.76C23.02 342.16 19.1 340.67 15.36 338.99C11.63 337.31 8.48 335.63 4.44 333.66C0.41 331.69 -6.63 328.26 -8.84 327.18Z" fill="#fff" fill-opacity="0.041" filter="url(#b10)"/>
<ellipse cx="108.34" cy="123.46" rx="170.1" ry="124.74" transform="rotate(20 108.34 123.46)" fill="url(#g8_20)"/>
<ellipse cx="282.22" cy="263.32" rx="170.1" ry="124.74" transform="rotate(-20 282.22 263.32)" fill="url(#g8_20)"/>
<ellipse cx="70.01" cy="100.59" rx="136.08" ry="82.78" transform="rotate(15 70.01 100.59)" fill="url(#g100_22)"/>
<ellipse cx="258.22" cy="289.78" rx="121.34" ry="75.98" transform="rotate(-25 258.22 289.78)" fill="url(#g100_22)"/>
</g>
<g transform="scale(1.45 1)">
<path d="M-6.1 38.54C-4.57 39.55 0.35 42.8 3.06 44.59C5.78 46.39 7.69 47.88 10.2 49.31C12.71 50.74 15.25 51.96 18.12 53.17C21 54.38 24.4 55.53 27.44 56.58C30.48 57.62 33.22 58.59 36.36 59.45C39.49 60.31 42.96 61.08 46.26 61.75C49.57 62.42 52.7 63.01 56.17 63.47C59.64 63.94 63.77 64.37 67.07 64.54C70.37 64.71 72.78 64.72 75.99 64.49C79.19 64.27 82.82 63.73 86.29 63.19C89.76 62.64 93.46 61.94 96.8 61.22C100.13 60.5 103.17 59.74 106.31 58.88C109.45 58.01 112.65 57.05 115.62 56C118.59 54.96 121.27 53.81 124.14 52.6C127.02 51.39 130.05 50.15 132.86 48.73C135.67 47.31 138.34 45.62 140.99 44.06C143.63 42.5 146.17 40.97 148.71 39.38C151.26 37.78 153.67 36.16 156.25 34.49C158.82 32.83 161.53 31.07 164.17 29.41C166.81 27.75 169.46 26.08 172.1 24.52C174.74 22.97 177.12 21.35 180.03 20.06C182.93 18.77 186.23 17.52 189.54 16.78C192.84 16.04 196.41 15.65 199.84 15.63C203.28 15.62 207.01 16.06 210.15 16.69C213.28 17.33 215.76 18.35 218.67 19.44C221.57 20.53 224.68 21.78 227.58 23.22C230.49 24.65 233.3 26.31 236.11 28.06C238.91 29.8 241.72 31.81 244.43 33.68C247.14 35.54 249.71 37.53 252.36 39.25C255 40.97 257.3 42.23 260.28 44.02C263.26 45.81 268.58 49.01 270.23 50.01" class="dot"/>
<path d="M-6.1 327.18C-4.57 328.26 0.28 331.69 3.06 333.66C5.84 335.63 8.02 337.31 10.59 338.99C13.17 340.67 15.88 342.16 18.52 343.76C21.16 345.36 23.87 346.99 26.45 348.6C29.02 350.21 31.43 351.85 33.98 353.44C36.52 355.03 39.1 356.58 41.71 358.13C44.31 359.67 46.89 361.43 49.63 362.71C52.37 363.99 54.92 365.12 58.15 365.83C61.39 366.54 65.52 366.93 69.05 366.98C72.59 367.02 76.05 366.72 79.36 366.11C82.66 365.51 85.9 364.5 88.87 363.33C91.84 362.15 94.38 360.64 97.19 359.06C100 357.47 102.91 355.56 105.71 353.82C108.52 352.07 111.23 350.32 114.04 348.6C116.84 346.88 119.75 345.15 122.56 343.47C125.36 341.8 128.07 340.15 130.88 338.54C133.69 336.94 136.66 335.26 139.4 333.83C142.14 332.4 144.52 331.18 147.33 329.97C150.14 328.75 153.04 327.61 156.25 326.56C159.45 325.51 163.25 324.55 166.55 323.69C169.85 322.83 172.83 322.06 176.06 321.39C179.3 320.72 182.57 320.13 185.97 319.67C189.37 319.2 193 318.79 196.47 318.6C199.94 318.41 203.41 318.43 206.78 318.52C210.15 318.6 213.28 318.78 216.69 319.13C220.09 319.49 223.82 319.96 227.19 320.66C230.56 321.35 233.76 322.37 236.9 323.31C240.04 324.26 242.94 325.22 246.01 326.32C249.09 327.42 251.29 328.36 255.33 329.92C259.36 331.49 267.75 334.73 270.23 335.69" class="dot"/>
</g>
</g>
<rect x="2.5" y="2.5" width="378" height="378" class="fr"/>
<path d="M97 2.5v12.5M97 380.5v-12.5M2.5 286h12.5M380.5 286h-12.5M191.5 2.5v24.5M191.5 380.5v-24.5M2.5 191.5h24.5M380.5 191.5h-24.5M286 2.5v12.5M286 380.5v-12.5M2.5 97h12.5M380.5 97h-12.5" class="tk"/>
</g>
<text x="3599.1" y="73.7" text-anchor="start">(a</text>
<text transform="translate(3658.22 73.7) scale(1 1.06)">8</text>
<text x="3695.19" y="73.7" text-anchor="start">)</text>
<path transform="translate(3735.82 73.7) scale(0.03247 -0.03247)" d="M763 0L583 0L583 1147Q518 1085 412.5 1023Q307 961 223 930L223 1104Q374 1175 487 1276Q600 1377 647 1472L763 1472Z"/><path transform="translate(3772.8 73.7) scale(0.03247 -0.03247)" d="M763 0L583 0L583 1147Q518 1085 412.5 1023Q307 961 223 930L223 1104Q374 1175 487 1276Q600 1377 647 1472L763 1472Z"/><path transform="translate(3809.77 73.7) scale(0.03247 -0.03247)" d="M763 0L583 0L583 1147Q518 1085 412.5 1023Q307 961 223 930L223 1104Q374 1175 487 1276Q600 1377 647 1472L763 1472Z"/>
<text transform="translate(226.83 492.3) scale(1 1.06)">0</text>
<text transform="translate(171.37 303.3) scale(1 1.06)">0.5</text>
<path transform="translate(226.83 114.3) scale(0.03247 -0.03247)" d="M763 0L583 0L583 1147Q518 1085 412.5 1023Q307 961 223 930L223 1104Q374 1175 487 1276Q600 1377 647 1472L763 1472Z"/>
<text transform="translate(154.6 282.8) rotate(-90)" text-anchor="middle">x/d</text>
<text transform="translate(77 282) rotate(-90)" text-anchor="middle">experiment</text>
<path d="M3855.3 382.3H4037.5" class="dl"/>
<path d="M3946 473.3H4037.5" class="dl"/>
<path d="M4010.8 394.8V466.3" stroke="#000" stroke-width="4.2" fill="none"/>
<path d="M4010.8 382.8l13 25l-13 -8.5l-13 8.5z" fill="#000"/>
<path d="M4010.8 478.3l13 -26l-13 8.5l-13 -8.5z" fill="#000"/>
<text x="4021.3" y="439.3">x<tspan font-size="47.5" dy="18">pe</tspan></text>
<g transform="translate(290 565)">
<g clip-path="url(#inner)"><g filter="url(#cmb)">
<rect x="0" y="0" width="383" height="383" fill="#000"/>
<path d="M-73.1 78.1L456.1 78.1L456.1 323.8L286 323.8L172.6 278.44L-73.1 278.44Z" fill="#fff" fill-opacity="0.080" filter="url(#b18)"/>
<ellipse cx="115.9" cy="131.02" rx="226.8" ry="113.4" transform="rotate(25 115.9 131.02)" fill="url(#g9_20)"/>
<ellipse cx="267.1" cy="244.42" rx="226.8" ry="113.4" transform="rotate(-25 267.1 244.42)" fill="url(#g9_20)"/>
<ellipse cx="61.09" cy="98.13" rx="196.18" ry="121.34" transform="rotate(25 61.09 98.13)" fill="url(#g26_20)"/>
<ellipse cx="49.75" cy="88.68" rx="127.01" ry="74.84" transform="rotate(25 49.75 88.68)" fill="url(#g91_26)"/>
<ellipse cx="391.84" cy="78.1" rx="39.69" ry="51.03" transform="rotate(0 391.84 78.1)" fill="url(#g70_20)"/>
<ellipse cx="248.2" cy="282.22" rx="199.58" ry="117.94" transform="rotate(-20 248.2 282.22)" fill="url(#g26_20)"/>
<ellipse cx="236.86" cy="291.67" rx="129.28" ry="71.44" transform="rotate(-20 236.86 291.67)" fill="url(#g91_26)"/>
<ellipse cx="165.04" cy="306.79" rx="62.37" ry="85.05" transform="rotate(0 165.04 306.79)" fill="url(#k85_20)"/>
<path d="M-8.84 40.43C-6.54 41.22 -1.09 43.1 4.94 45.17C10.97 47.24 19.79 50.63 27.35 52.87C34.92 55.11 42.68 57.06 50.34 58.62C58 60.18 65.57 61.28 73.33 62.24C81.09 63.2 89.71 64.01 96.89 64.36C104.07 64.72 110.3 64.7 116.43 64.36C122.56 64.03 127.92 63.15 133.67 62.37C139.42 61.58 145.16 60.78 150.91 59.65C156.66 58.52 161.4 57.34 168.15 55.57C174.9 53.8 184.72 51.28 191.43 49.03C198.13 46.79 201.72 44.78 208.38 42.11C215.04 39.44 223.7 36.11 231.37 33.01C239.03 29.92 246.69 26.19 254.35 23.56C262.02 20.93 271.11 18.53 277.34 17.25C283.57 15.98 286.44 15.62 291.71 15.89C296.97 16.16 301.76 17.18 308.95 18.89C316.13 20.61 326.67 23.45 334.81 26.18C342.95 28.91 350.61 32.3 357.8 35.27C364.98 38.24 372.23 41.55 377.91 44.02C383.58 46.49 389.52 49.07 391.84 50.08L391.84 -40 L-8.84 -40 Z" fill="#000" fill-opacity="1" filter="url(#b3)"/>
<path d="M-8.84 327.49C-6.54 328.47 -1.09 330.8 4.94 333.37C10.97 335.95 20.03 339.7 27.35 342.94C34.68 346.18 41.48 349.73 48.9 352.82C56.33 355.92 65.91 359.37 71.89 361.49C77.88 363.61 80.27 364.63 84.82 365.54C89.37 366.45 94.4 366.84 99.19 366.93C103.98 367.03 108.77 366.82 113.56 366.11C118.35 365.4 121.46 364.61 127.92 362.68C134.39 360.75 144.21 357.65 152.35 354.53C160.49 351.42 168.87 347.3 176.77 343.97C184.67 340.65 192.1 337.35 199.76 334.58C207.42 331.81 214.36 329.43 222.75 327.35C231.13 325.28 240.7 323.57 250.04 322.14C259.38 320.71 271.45 319.53 278.78 318.77C286.1 318.02 288.98 317.61 294.01 317.58C299.03 317.56 301.43 317.8 308.95 318.62C316.47 319.44 329.54 320.93 339.12 322.51C348.7 324.09 359.95 326.48 366.42 328.1C372.88 329.72 373.67 330.7 377.91 332.22C382.15 333.74 389.52 336.39 391.84 337.22L391.84 423 L-8.84 423 Z" fill="#000" fill-opacity="1" filter="url(#b3)"/>
</g>
<g transform="scale(1.45 1)">
<path d="M-6.1 40.43C-4.51 41.22 -0.75 43.1 3.41 45.17C7.57 47.24 13.65 50.63 18.86 52.87C24.08 55.11 29.43 57.06 34.72 58.62C40 60.18 45.22 61.28 50.57 62.24C55.92 63.2 61.87 64.01 66.82 64.36C71.78 64.72 76.07 64.7 80.3 64.36C84.52 64.03 88.22 63.15 92.19 62.37C96.15 61.58 100.11 60.78 104.08 59.65C108.04 58.52 111.31 57.34 115.97 55.57C120.62 53.8 127.39 51.28 132.02 49.03C136.64 46.79 139.12 44.78 143.71 42.11C148.3 39.44 154.28 36.11 159.56 33.01C164.85 29.92 170.13 26.19 175.42 23.56C180.7 20.93 186.98 18.53 191.27 17.25C195.56 15.98 197.54 15.62 201.18 15.89C204.81 16.16 208.11 17.18 213.07 18.89C218.02 20.61 225.29 23.45 230.9 26.18C236.52 28.91 241.8 32.3 246.76 35.27C251.71 38.24 256.71 41.55 260.63 44.02C264.54 46.49 268.63 49.07 270.23 50.08" class="dot"/>
<path d="M-6.1 327.49C-4.51 328.47 -0.75 330.8 3.41 333.37C7.57 335.95 13.81 339.7 18.86 342.94C23.92 346.18 28.61 349.73 33.73 352.82C38.85 355.92 45.45 359.37 49.58 361.49C53.71 363.61 55.36 364.63 58.5 365.54C61.64 366.45 65.1 366.84 68.41 366.93C71.71 367.03 75.01 366.82 78.31 366.11C81.62 365.4 83.76 364.61 88.22 362.68C92.68 360.75 99.45 357.65 105.07 354.53C110.68 351.42 116.46 347.3 121.91 343.97C127.36 340.65 132.48 337.35 137.76 334.58C143.05 331.81 147.84 329.43 153.62 327.35C159.4 325.28 166 323.57 172.44 322.14C178.88 320.71 187.21 319.53 192.26 318.77C197.31 318.02 199.29 317.61 202.76 317.58C206.23 317.56 207.88 317.8 213.07 318.62C218.25 319.44 227.27 320.93 233.87 322.51C240.48 324.09 248.24 326.48 252.7 328.1C257.16 329.72 257.7 330.7 260.63 332.22C263.55 333.74 268.63 336.39 270.23 337.22" class="dot"/>
</g>
</g>
<rect x="2.5" y="2.5" width="378" height="378" class="fr"/>
<path d="M97 2.5v12.5M97 380.5v-12.5M2.5 286h12.5M380.5 286h-12.5M191.5 2.5v24.5M191.5 380.5v-24.5M2.5 191.5h24.5M380.5 191.5h-24.5M286 2.5v12.5M286 380.5v-12.5M2.5 97h12.5M380.5 97h-12.5" class="tk"/>
</g>
<text x="291.6" y="542.6" text-anchor="start">(b</text>
<path transform="translate(350.72 542.6) scale(0.03247 -0.03247)" d="M763 0L583 0L583 1147Q518 1085 412.5 1023Q307 961 223 930L223 1104Q374 1175 487 1276Q600 1377 647 1472L763 1472Z"/>
<text x="387.69" y="542.6" text-anchor="start">)</text>
<text transform="translate(428.32 542.6) scale(1 1.06)">000</text>
<text transform="translate(274.01 1024.8) scale(1 1.06)">0</text>
<text transform="translate(435.28 1024.8) scale(1 1.06)">0.5</text>
<path transform="translate(652.01 1024.8) scale(0.03247 -0.03247)" d="M763 0L583 0L583 1147Q518 1085 412.5 1023Q307 961 223 930L223 1104Q374 1175 487 1276Q600 1377 647 1472L763 1472Z"/>
<text x="481.5" y="1096" text-anchor="middle">t/T</text>
<g transform="translate(762.5 565)">
<g clip-path="url(#inner)"><g filter="url(#cmb)">
<rect x="0" y="0" width="383" height="383" fill="#000"/>
<path d="M-73.1 64.87L456.1 64.87L456.1 310.57L-73.1 310.57Z" fill="#fff" fill-opacity="0.161" filter="url(#b12)"/>
<ellipse cx="95.11" cy="202.84" rx="81.65" ry="226.8" transform="rotate(0 95.11 202.84)" fill="url(#k52_20)"/>
<ellipse cx="289.78" cy="195.28" rx="74.84" ry="226.8" transform="rotate(0 289.78 195.28)" fill="url(#k52_20)"/>
<ellipse cx="191.5" cy="229.3" rx="90.72" ry="170.1" transform="rotate(0 191.5 229.3)" fill="url(#g6_20)"/>
<ellipse cx="50.13" cy="79.99" rx="181.44" ry="90.72" transform="rotate(20 50.13 79.99)" fill="url(#g30_20)"/>
<ellipse cx="38.79" cy="70.54" rx="117.94" ry="55.57" transform="rotate(20 38.79 70.54)" fill="url(#g91_26)"/>
<ellipse cx="391.84" cy="66.76" rx="39.69" ry="45.36" transform="rotate(0 391.84 66.76)" fill="url(#g70_20)"/>
<ellipse cx="242.53" cy="296.58" rx="190.51" ry="96.39" transform="rotate(-15 242.53 296.58)" fill="url(#g30_20)"/>
<ellipse cx="231.19" cy="306.03" rx="123.61" ry="58.97" transform="rotate(-15 231.19 306.03)" fill="url(#g91_26)"/>
<ellipse cx="159.37" cy="321.15" rx="62.37" ry="85.05" transform="rotate(0 159.37 321.15)" fill="url(#k85_20)"/>
<path d="M-8.84 36.25C-6.46 36.92 1 39.03 5.44 40.28C9.88 41.54 13.58 42.59 17.8 43.78C22.01 44.97 26.42 46.25 30.73 47.42C35.04 48.6 39.11 49.77 43.66 50.83C48.21 51.89 53.24 52.85 58.02 53.79C62.81 54.73 67.6 55.75 72.39 56.49C77.18 57.24 81.97 57.82 86.76 58.26C91.55 58.7 96.1 58.98 101.13 59.12C106.15 59.26 111.9 59.26 116.93 59.12C121.96 58.98 126.51 58.67 131.3 58.26C136.09 57.84 140.87 57.25 145.66 56.62C150.45 55.99 155.24 55.33 160.03 54.48C164.82 53.62 169.85 52.53 174.4 51.49C178.95 50.45 183.02 49.41 187.33 48.24C191.64 47.08 195.95 45.83 200.26 44.51C204.57 43.18 209.12 41.72 213.19 40.28C217.26 38.85 220.85 37.41 224.68 35.89C228.51 34.36 232.34 32.69 236.18 31.13C240.01 29.57 243.84 28.01 247.67 26.54C251.5 25.07 254.85 23.58 259.16 22.31C263.47 21.04 268.74 19.83 273.53 18.91C278.32 17.98 283.11 17.16 287.9 16.78C292.69 16.4 297.47 16.44 302.26 16.65C307.05 16.86 311.84 17.37 316.63 18.04C321.42 18.71 326.45 19.59 331 20.67C335.55 21.75 339.86 23.16 343.93 24.52C348 25.89 351.59 27.36 355.42 28.88C359.25 30.4 363.08 32.07 366.92 33.63C370.75 35.2 374.25 36.6 378.41 38.27C382.56 39.95 389.6 42.79 391.84 43.7L391.84 -40 L-8.84 -40 Z" fill="#000" fill-opacity="1" filter="url(#b3)"/>
<path d="M-8.84 330.69C-6.46 331.52 1 334.12 5.44 335.67C9.88 337.22 13.82 338.54 17.8 339.98C21.77 341.42 25.46 342.84 29.29 344.29C33.12 345.74 36.95 347.16 40.78 348.69C44.62 350.21 48.45 351.88 52.28 353.44C56.11 355 59.7 356.57 63.77 358.04C67.84 359.51 72.39 361.01 76.7 362.26C81.01 363.51 85.08 364.76 89.63 365.54C94.18 366.32 99.21 366.83 104 366.93C108.79 367.04 113.58 366.7 118.37 366.16C123.16 365.61 128.18 364.67 132.73 363.66C137.28 362.65 141.59 361.32 145.66 360.09C149.73 358.87 153.33 357.62 157.16 356.32C160.99 355.01 164.82 353.69 168.65 352.25C172.48 350.81 176.07 349.25 180.14 347.7C184.22 346.14 188.76 344.45 193.07 342.94C197.38 341.43 201.69 339.98 206 338.63C210.32 337.28 214.39 336.05 218.94 334.85C223.48 333.65 228.51 332.49 233.3 331.45C238.09 330.4 242.88 329.43 247.67 328.57C252.46 327.71 257.25 326.94 262.04 326.27C266.83 325.61 271.61 325.02 276.4 324.59C281.19 324.16 285.74 323.87 290.77 323.69C295.8 323.5 301.55 323.38 306.57 323.49C311.6 323.59 316.15 323.89 320.94 324.31C325.73 324.72 330.52 325.32 335.31 325.99C340.1 326.65 344.89 327.43 349.67 328.29C354.46 329.14 359.25 330.12 364.04 331.12C368.83 332.11 373.78 333.23 378.41 334.23C383.04 335.24 389.6 336.66 391.84 337.15L391.84 423 L-8.84 423 Z" fill="#000" fill-opacity="1" filter="url(#b3)"/>
</g>
<g transform="scale(1.45 1)">
<path d="M-6.1 36.25C-4.45 36.92 0.69 39.03 3.75 40.28C6.81 41.54 9.37 42.59 12.27 43.78C15.18 44.97 18.22 46.25 21.19 47.42C24.16 48.6 26.97 49.77 30.11 50.83C33.25 51.89 36.71 52.85 40.02 53.79C43.32 54.73 46.62 55.75 49.93 56.49C53.23 57.24 56.53 57.82 59.83 58.26C63.14 58.7 66.27 58.98 69.74 59.12C73.21 59.26 77.17 59.26 80.64 59.12C84.11 58.98 87.25 58.67 90.55 58.26C93.85 57.84 97.15 57.25 100.46 56.62C103.76 55.99 107.06 55.33 110.37 54.48C113.67 53.62 117.14 52.53 120.27 51.49C123.41 50.45 126.22 49.41 129.19 48.24C132.16 47.08 135.14 45.83 138.11 44.51C141.08 43.18 144.22 41.72 147.03 40.28C149.83 38.85 152.31 37.41 154.95 35.89C157.6 34.36 160.24 32.69 162.88 31.13C165.52 29.57 168.16 28.01 170.81 26.54C173.45 25.07 175.76 23.58 178.73 22.31C181.71 21.04 185.34 19.83 188.64 18.91C191.94 17.98 195.25 17.16 198.55 16.78C201.85 16.4 205.16 16.44 208.46 16.65C211.76 16.86 215.06 17.37 218.37 18.04C221.67 18.71 225.14 19.59 228.27 20.67C231.41 21.75 234.38 23.16 237.19 24.52C240 25.89 242.48 27.36 245.12 28.88C247.76 30.4 250.4 32.07 253.05 33.63C255.69 35.2 258.11 36.6 260.97 38.27C263.84 39.95 268.69 42.79 270.23 43.7" class="dot"/>
<path d="M-6.1 330.69C-4.45 331.52 0.69 334.12 3.75 335.67C6.81 337.22 9.53 338.54 12.27 339.98C15.02 341.42 17.56 342.84 20.2 344.29C22.84 345.74 25.49 347.16 28.13 348.69C30.77 350.21 33.41 351.88 36.05 353.44C38.7 355 41.17 356.57 43.98 358.04C46.79 359.51 49.93 361.01 52.9 362.26C55.87 363.51 58.68 364.76 61.82 365.54C64.95 366.32 68.42 366.83 71.72 366.93C75.03 367.04 78.33 366.7 81.63 366.16C84.93 365.61 88.4 364.67 91.54 363.66C94.68 362.65 97.65 361.32 100.46 360.09C103.26 358.87 105.74 357.62 108.38 356.32C111.03 355.01 113.67 353.69 116.31 352.25C118.95 350.81 121.43 349.25 124.24 347.7C127.04 346.14 130.18 344.45 133.15 342.94C136.13 341.43 139.1 339.98 142.07 338.63C145.04 337.28 147.85 336.05 150.99 334.85C154.13 333.65 157.6 332.49 160.9 331.45C164.2 330.4 167.5 329.43 170.81 328.57C174.11 327.71 177.41 326.94 180.71 326.27C184.02 325.61 187.32 325.02 190.62 324.59C193.93 324.16 197.06 323.87 200.53 323.69C204 323.5 207.96 323.38 211.43 323.49C214.9 323.59 218.04 323.89 221.34 324.31C224.64 324.72 227.94 325.32 231.25 325.99C234.55 326.65 237.85 327.43 241.16 328.29C244.46 329.14 247.76 330.12 251.06 331.12C254.37 332.11 257.78 333.23 260.97 334.23C264.17 335.24 268.69 336.66 270.23 337.15" class="dot"/>
</g>
</g>
<rect x="2.5" y="2.5" width="378" height="378" class="fr"/>
<path d="M97 2.5v12.5M97 380.5v-12.5M2.5 286h12.5M380.5 286h-12.5M191.5 2.5v24.5M191.5 380.5v-24.5M2.5 191.5h24.5M380.5 191.5h-24.5M286 2.5v12.5M286 380.5v-12.5M2.5 97h12.5M380.5 97h-12.5" class="tk"/>
</g>
<text x="764.1" y="542.6" text-anchor="start">(b</text>
<text transform="translate(823.22 542.6) scale(1 1.06)">2</text>
<text x="860.19" y="542.6" text-anchor="start">)</text>
<path transform="translate(900.82 542.6) scale(0.03247 -0.03247)" d="M763 0L583 0L583 1147Q518 1085 412.5 1023Q307 961 223 930L223 1104Q374 1175 487 1276Q600 1377 647 1472L763 1472Z"/><text transform="translate(937.8 542.6) scale(1 1.06)">00</text>
<text transform="translate(746.51 1024.8) scale(1 1.06)">0</text>
<text transform="translate(907.78 1024.8) scale(1 1.06)">0.5</text>
<path transform="translate(1124.51 1024.8) scale(0.03247 -0.03247)" d="M763 0L583 0L583 1147Q518 1085 412.5 1023Q307 961 223 930L223 1104Q374 1175 487 1276Q600 1377 647 1472L763 1472Z"/>
<text x="954" y="1096" text-anchor="middle">t/T</text>
<g transform="translate(1235 565)">
<g clip-path="url(#inner)"><g filter="url(#cmb)">
<rect x="0" y="0" width="383" height="383" fill="#000"/>
<path d="M-73.1 93.22L456.1 93.22L456.1 274.66L-73.1 274.66Z" fill="#fff" fill-opacity="0.030" filter="url(#b14)"/>
<ellipse cx="62.98" cy="172.6" rx="147.42" ry="113.4" transform="rotate(25 62.98 172.6)" fill="url(#g9_20)"/>
<ellipse cx="259.54" cy="199.06" rx="158.76" ry="113.4" transform="rotate(-25 259.54 199.06)" fill="url(#g9_20)"/>
<ellipse cx="47.48" cy="154.46" rx="178.04" ry="113.4" transform="rotate(25 47.48 154.46)" fill="url(#g20_20)"/>
<ellipse cx="36.14" cy="145.01" rx="115.67" ry="69.17" transform="rotate(25 36.14 145.01)" fill="url(#g91_26)"/>
<ellipse cx="391.84" cy="138.58" rx="39.69" ry="51.03" transform="rotate(0 391.84 138.58)" fill="url(#g70_20)"/>
<ellipse cx="239.88" cy="224.76" rx="190.51" ry="112.27" transform="rotate(-30 239.88 224.76)" fill="url(#g20_20)"/>
<ellipse cx="228.54" cy="234.21" rx="123.61" ry="68.04" transform="rotate(-30 228.54 234.21)" fill="url(#g91_26)"/>
<ellipse cx="156.72" cy="249.33" rx="62.37" ry="85.05" transform="rotate(0 156.72 249.33)" fill="url(#k85_20)"/>
<path d="M-8.84 90.57C-6.09 92.48 2.9 98.75 7.67 102.06C12.43 105.38 15.81 107.87 19.73 110.47C23.66 113.07 27.4 115.47 31.23 117.65C35.06 119.83 38.65 121.69 42.72 123.53C46.79 125.36 51.34 127.1 55.65 128.66C59.96 130.21 64.27 131.7 68.58 132.88C72.89 134.06 76.96 135.06 81.51 135.75C86.06 136.45 91.09 136.98 95.88 137.06C100.67 137.14 105.46 136.82 110.25 136.24C115.04 135.66 120.06 134.59 124.61 133.58C129.16 132.57 133.57 131.39 137.54 130.18C141.52 128.97 144.73 127.75 148.46 126.31C152.2 124.88 156.41 123.22 159.96 121.56C163.5 119.9 166.52 118.18 169.73 116.34C172.93 114.51 176.05 112.61 179.21 110.55C182.37 108.49 185.67 106.26 188.69 103.99C191.71 101.71 194.44 99.28 197.31 96.89C200.18 94.5 203.06 92.12 205.93 89.62C208.8 87.12 211.68 84.52 214.55 81.91C217.42 79.29 220.35 76.58 223.17 73.95C226 71.31 228.68 68.75 231.5 66.1C234.33 63.45 237.25 60.76 240.12 58.06C243 55.36 245.73 52.49 248.74 49.9C251.76 47.3 254.97 44.72 258.23 42.47C261.48 40.22 264.36 37.94 268.28 36.41C272.21 34.87 277.24 33.6 281.79 33.26C286.34 32.92 291.22 33.52 295.58 34.35C299.94 35.18 304.1 36.64 307.94 38.24C311.77 39.84 315.26 41.83 318.57 43.95C321.87 46.07 324.75 48.55 327.76 50.96C330.78 53.37 333.8 55.9 336.67 58.43C339.54 60.96 342.18 63.56 345 66.15C347.83 68.73 350.75 71.33 353.62 73.95C356.5 76.56 359.23 79.38 362.24 81.82C365.26 84.26 369.19 86.78 371.73 88.57C374.26 90.37 374.12 90.24 377.47 92.58C380.82 94.92 389.45 100.93 391.84 102.6L391.84 -40 L-8.84 -40 Z" fill="#000" fill-opacity="1" filter="url(#b3)"/>
<path d="M-8.84 270.19C-6.47 272.39 1.8 280.07 5.37 283.37C8.93 286.68 9.92 287.57 12.55 290.04C15.18 292.51 18.3 295.51 21.17 298.19C24.04 300.87 26.92 303.45 29.79 306.12C32.66 308.79 35.39 311.46 38.41 314.21C41.43 316.95 44.88 319.9 47.89 322.61C50.91 325.32 53.54 327.92 56.51 330.45C59.48 332.99 62.5 335.54 65.71 337.8C68.92 340.05 72.32 342.26 75.77 343.99C79.21 345.72 82.18 347.28 86.4 348.17C90.61 349.06 96.5 349.63 101.05 349.3C105.6 348.98 109.77 347.69 113.69 346.24C117.62 344.8 121.02 342.72 124.61 340.63C128.2 338.53 131.89 336.04 135.24 333.66C138.6 331.28 141.57 328.88 144.73 326.35C147.89 323.81 151.19 321.09 154.21 318.47C157.23 315.85 159.96 313.27 162.83 310.63C165.7 307.99 168.58 305.27 171.45 302.63C174.32 299.98 177.2 297.27 180.07 294.75C182.94 292.23 185.72 289.99 188.69 287.51C191.66 285.04 194.82 282.26 197.88 279.9C200.95 277.54 203.87 275.47 207.08 273.36C210.29 271.25 213.64 269.28 217.14 267.24C220.63 265.2 224.32 263.01 228.06 261.13C231.79 259.25 235.72 257.5 239.55 255.96C243.38 254.42 247.07 253.11 251.04 251.9C255.02 250.68 258.99 249.62 263.4 248.69C267.8 247.76 272.74 246.81 277.48 246.32C282.22 245.84 287.06 245.61 291.84 245.79C296.63 245.97 301.42 246.62 306.21 247.38C311 248.15 316.13 249.27 320.58 250.37C325.03 251.47 328.96 252.6 332.93 253.99C336.91 255.38 340.69 257.05 344.43 258.71C348.16 260.36 351.85 262.06 355.35 263.92C358.84 265.78 361.96 267.65 365.4 269.88C368.85 272.12 371.63 274.25 376.04 277.34C380.44 280.43 389.21 286.58 391.84 288.42L391.84 423 L-8.84 423 Z" fill="#000" fill-opacity="1" filter="url(#b3)"/>
</g>
<g transform="scale(1.45 1)">
<path d="M-6.1 90.57C-4.2 92.48 2 98.75 5.29 102.06C8.57 105.38 10.9 107.87 13.61 110.47C16.32 113.07 18.89 115.47 21.54 117.65C24.18 119.83 26.66 121.69 29.46 123.53C32.27 125.36 35.41 127.1 38.38 128.66C41.35 130.21 44.33 131.7 47.3 132.88C50.27 134.06 53.08 135.06 56.22 135.75C59.35 136.45 62.82 136.98 66.12 137.06C69.43 137.14 72.73 136.82 76.03 136.24C79.33 135.66 82.8 134.59 85.94 133.58C89.08 132.57 92.12 131.39 94.86 130.18C97.6 128.97 99.81 127.75 102.39 126.31C104.96 124.88 107.87 123.22 110.31 121.56C112.76 119.9 114.84 118.18 117.05 116.34C119.26 114.51 121.41 112.61 123.59 110.55C125.77 108.49 128.05 106.26 130.13 103.99C132.21 101.71 134.09 99.28 136.08 96.89C138.06 94.5 140.04 92.12 142.02 89.62C144 87.12 145.98 84.52 147.97 81.91C149.95 79.29 151.96 76.58 153.91 73.95C155.86 71.31 157.71 68.75 159.66 66.1C161.61 63.45 163.62 60.76 165.6 58.06C167.58 55.36 169.47 52.49 171.55 49.9C173.63 47.3 175.84 44.72 178.09 42.47C180.33 40.22 182.31 37.94 185.02 36.41C187.73 34.87 191.2 33.6 194.34 33.26C197.47 32.92 200.84 33.52 203.85 34.35C206.85 35.18 209.73 36.64 212.37 38.24C215.01 39.84 217.42 41.83 219.7 43.95C221.98 46.07 223.96 48.55 226.04 50.96C228.12 53.37 230.2 55.9 232.19 58.43C234.17 60.96 235.98 63.56 237.93 66.15C239.88 68.73 241.9 71.33 243.88 73.95C245.86 76.56 247.74 79.38 249.82 81.82C251.9 84.26 254.61 86.78 256.36 88.57C258.11 90.37 258.01 90.24 260.33 92.58C262.64 94.92 268.58 100.93 270.23 102.6" class="dot"/>
<path d="M-6.1 270.19C-4.46 272.39 1.24 280.07 3.7 283.37C6.16 286.68 6.84 287.57 8.66 290.04C10.47 292.51 12.62 295.51 14.6 298.19C16.58 300.87 18.56 303.45 20.55 306.12C22.53 308.79 24.41 311.46 26.49 314.21C28.57 316.95 30.95 319.9 33.03 322.61C35.11 325.32 36.93 327.92 38.97 330.45C41.02 332.99 43.1 335.54 45.32 337.8C47.53 340.05 49.87 342.26 52.25 343.99C54.63 345.72 56.68 347.28 59.58 348.17C62.49 349.06 66.55 349.63 69.69 349.3C72.83 348.98 75.7 347.69 78.41 346.24C81.12 344.8 83.46 342.72 85.94 340.63C88.42 338.53 90.96 336.04 93.27 333.66C95.58 331.28 97.63 328.88 99.81 326.35C101.99 323.81 104.27 321.09 106.35 318.47C108.43 315.85 110.31 313.27 112.3 310.63C114.28 307.99 116.26 305.27 118.24 302.63C120.22 299.98 122.2 297.27 124.19 294.75C126.17 292.23 128.08 289.99 130.13 287.51C132.18 285.04 134.36 282.26 136.47 279.9C138.59 277.54 140.6 275.47 142.81 273.36C145.03 271.25 147.34 269.28 149.75 267.24C152.16 265.2 154.7 263.01 157.28 261.13C159.86 259.25 162.56 257.5 165.21 255.96C167.85 254.42 170.39 253.11 173.13 251.9C175.87 250.68 178.62 249.62 181.65 248.69C184.69 247.76 188.09 246.81 191.36 246.32C194.63 245.84 197.97 245.61 201.27 245.79C204.58 245.97 207.88 246.62 211.18 247.38C214.48 248.15 218.02 249.27 221.09 250.37C224.16 251.47 226.87 252.6 229.61 253.99C232.35 255.38 234.96 257.05 237.54 258.71C240.11 260.36 242.66 262.06 245.07 263.92C247.48 265.78 249.62 267.65 252 269.88C254.38 272.12 256.3 274.25 259.33 277.34C262.37 280.43 268.42 286.58 270.23 288.42" class="dot"/>
</g>
</g>
<rect x="2.5" y="2.5" width="378" height="378" class="fr"/>
<path d="M97 2.5v12.5M97 380.5v-12.5M2.5 286h12.5M380.5 286h-12.5M191.5 2.5v24.5M191.5 380.5v-24.5M2.5 191.5h24.5M380.5 191.5h-24.5M286 2.5v12.5M286 380.5v-12.5M2.5 97h12.5M380.5 97h-12.5" class="tk"/>
</g>
<text x="1236.6" y="542.6" text-anchor="start">(b</text>
<text transform="translate(1295.72 542.6) scale(1 1.06)">3</text>
<text x="1332.69" y="542.6" text-anchor="start">)</text>
<text transform="translate(1373.32 542.6) scale(1 1.06)">0</text><path transform="translate(1410.3 542.6) scale(0.03247 -0.03247)" d="M763 0L583 0L583 1147Q518 1085 412.5 1023Q307 961 223 930L223 1104Q374 1175 487 1276Q600 1377 647 1472L763 1472Z"/><text transform="translate(1447.27 542.6) scale(1 1.06)">0</text>
<text transform="translate(1219.01 1024.8) scale(1 1.06)">0</text>
<text transform="translate(1380.28 1024.8) scale(1 1.06)">0.5</text>
<path transform="translate(1597.01 1024.8) scale(0.03247 -0.03247)" d="M763 0L583 0L583 1147Q518 1085 412.5 1023Q307 961 223 930L223 1104Q374 1175 487 1276Q600 1377 647 1472L763 1472Z"/>
<text x="1426.5" y="1096" text-anchor="middle">t/T</text>
<g transform="translate(1707.5 565)">
<g clip-path="url(#inner)"><g filter="url(#cmb)">
<rect x="0" y="0" width="383" height="383" fill="#000"/>
<path d="M-73.1 44.08L456.1 44.08L456.1 346.48L323.8 346.48L172.6 342.7L153.7 316.24L-73.1 316.24Z" fill="#fff" fill-opacity="0.077" filter="url(#b10)"/>
<ellipse cx="115.9" cy="85.66" rx="226.8" ry="90.72" transform="rotate(12 115.9 85.66)" fill="url(#g8_20)"/>
<ellipse cx="304.9" cy="297.34" rx="226.8" ry="90.72" transform="rotate(-12 304.9 297.34)" fill="url(#g8_20)"/>
<ellipse cx="67.52" cy="65.63" rx="224.53" ry="80.51" transform="rotate(12 67.52 65.63)" fill="url(#g23_20)"/>
<ellipse cx="56.18" cy="56.18" rx="146.29" ry="49.9" transform="rotate(12 56.18 56.18)" fill="url(#g91_26)"/>
<ellipse cx="391.84" cy="51.64" rx="34.02" ry="34.02" transform="rotate(0 391.84 51.64)" fill="url(#g50_20)"/>
<ellipse cx="259.92" cy="313.59" rx="210.92" ry="77.11" transform="rotate(-12 259.92 313.59)" fill="url(#g23_20)"/>
<ellipse cx="248.58" cy="323.04" rx="137.21" ry="47.63" transform="rotate(-12 248.58 323.04)" fill="url(#g91_26)"/>
<ellipse cx="176.76" cy="338.16" rx="62.37" ry="85.05" transform="rotate(0 176.76 338.16)" fill="url(#k85_20)"/>
<path d="M-8.84 24.48C-6.39 25.06 1.26 26.85 5.87 27.93C10.47 29.01 14.49 30.06 18.8 30.96C23.11 31.86 27.18 32.61 31.73 33.35C36.28 34.08 41.31 34.73 46.09 35.36C50.88 35.98 55.43 36.56 60.46 37.08C65.49 37.6 71 38.11 76.27 38.47C81.53 38.84 86.8 39.15 92.07 39.29C97.34 39.44 102.6 39.42 107.87 39.34C113.14 39.25 118.41 39.05 123.68 38.8C128.94 38.56 134.45 38.29 139.48 37.86C144.51 37.43 149.06 36.83 153.85 36.22C158.64 35.61 163.66 34.93 168.21 34.21C172.76 33.49 176.83 32.74 181.14 31.91C185.45 31.07 189.53 30.23 194.07 29.19C198.62 28.16 203.89 26.85 208.44 25.72C212.99 24.58 217.06 23.53 221.37 22.38C225.68 21.23 229.99 19.96 234.3 18.82C238.61 17.69 242.92 16.62 247.23 15.57C251.54 14.53 255.61 13.42 260.16 12.54C264.71 11.67 269.74 10.83 274.53 10.33C279.32 9.82 283.96 9.52 288.9 9.51C293.83 9.5 299.19 9.84 304.13 10.29C309.06 10.74 313.85 11.46 318.49 12.21C323.14 12.96 327.59 13.85 332 14.8C336.4 15.74 340.62 16.81 344.93 17.87C349.24 18.93 353.31 19.96 357.86 21.16C362.41 22.36 366.56 23.52 372.23 25.06C377.89 26.59 388.57 29.49 391.84 30.37L391.84 -40 L-8.84 -40 Z" fill="#000" fill-opacity="1" filter="url(#b3)"/>
<path d="M-8.84 351.08C-6.39 351.62 1.26 353.32 5.87 354.35C10.47 355.37 14.49 356.25 18.8 357.22C23.11 358.19 27.42 359.13 31.73 360.18C36.04 361.23 40.35 362.4 44.66 363.5C48.97 364.59 53.28 365.67 57.59 366.75C61.9 367.83 65.97 369.07 70.52 369.98C75.07 370.89 79.86 371.71 84.89 372.19C89.91 372.67 95.66 372.84 100.69 372.85C105.72 372.87 110.27 372.66 115.06 372.28C119.85 371.89 124.63 371.3 129.42 370.55C134.21 369.8 139.24 368.79 143.79 367.77C148.34 366.74 152.51 365.54 156.72 364.4C160.93 363.27 164.86 362.1 169.08 360.96C173.29 359.81 177.6 358.65 182.01 357.55C186.41 356.46 191.01 355.39 195.51 354.39C200.01 353.39 204.56 352.42 209.02 351.56C213.47 350.7 217.54 349.94 222.23 349.22C226.93 348.49 232.2 347.82 237.18 347.21C242.16 346.59 247.09 346 252.12 345.53C257.15 345.05 262.27 344.66 267.35 344.33C272.42 344.01 277.45 343.69 282.58 343.56C287.7 343.43 292.97 343.43 298.09 343.56C303.22 343.69 308.24 344.01 313.32 344.33C318.4 344.66 323.52 345.06 328.55 345.53C333.58 345.99 338.61 346.59 343.49 347.12C348.38 347.65 353.07 348.1 357.86 348.73C362.65 349.36 366.56 350.04 372.23 350.9C377.89 351.75 388.57 353.37 391.84 353.86L391.84 423 L-8.84 423 Z" fill="#000" fill-opacity="1" filter="url(#b3)"/>
</g>
<g transform="scale(1.45 1)">
<path d="M-6.1 24.48C-4.41 25.06 0.87 26.85 4.05 27.93C7.22 29.01 9.99 30.06 12.96 30.96C15.94 31.86 18.74 32.61 21.88 33.35C25.02 34.08 28.49 34.73 31.79 35.36C35.09 35.98 38.23 36.56 41.7 37.08C45.17 37.6 48.96 38.11 52.6 38.47C56.23 38.84 59.86 39.15 63.5 39.29C67.13 39.44 70.76 39.42 74.39 39.34C78.03 39.25 81.66 39.05 85.29 38.8C88.93 38.56 92.73 38.29 96.19 37.86C99.66 37.43 102.8 36.83 106.1 36.22C109.4 35.61 112.87 34.93 116.01 34.21C119.15 33.49 121.95 32.74 124.93 31.91C127.9 31.07 130.71 30.23 133.84 29.19C136.98 28.16 140.62 26.85 143.75 25.72C146.89 24.58 149.7 23.53 152.67 22.38C155.64 21.23 158.62 19.96 161.59 18.82C164.56 17.69 167.53 16.62 170.51 15.57C173.48 14.53 176.29 13.42 179.42 12.54C182.56 11.67 186.03 10.83 189.33 10.33C192.63 9.82 195.84 9.52 199.24 9.51C202.64 9.5 206.34 9.84 209.74 10.29C213.14 10.74 216.45 11.46 219.65 12.21C222.85 12.96 225.93 13.85 228.96 14.8C232 15.74 234.91 16.81 237.88 17.87C240.85 18.93 243.66 19.96 246.8 21.16C249.94 22.36 252.8 23.52 256.71 25.06C260.61 26.59 267.98 29.49 270.23 30.37" class="dot"/>
<path d="M-6.1 351.08C-4.41 351.62 0.87 353.32 4.05 354.35C7.22 355.37 9.99 356.25 12.96 357.22C15.94 358.19 18.91 359.13 21.88 360.18C24.85 361.23 27.83 362.4 30.8 363.5C33.77 364.59 36.74 365.67 39.72 366.75C42.69 367.83 45.5 369.07 48.63 369.98C51.77 370.89 55.07 371.71 58.54 372.19C62.01 372.67 65.97 372.84 69.44 372.85C72.91 372.87 76.05 372.66 79.35 372.28C82.65 371.89 85.95 371.3 89.26 370.55C92.56 369.8 96.03 368.79 99.17 367.77C102.3 366.74 105.18 365.54 108.08 364.4C110.99 363.27 113.7 362.1 116.6 360.96C119.51 359.81 122.48 358.65 125.52 357.55C128.56 356.46 131.73 355.39 134.84 354.39C137.94 353.39 141.08 352.42 144.15 351.56C147.22 350.7 150.03 349.94 153.26 349.22C156.5 348.49 160.13 347.82 163.57 347.21C167 346.59 170.41 346 173.87 345.53C177.34 345.05 180.88 344.66 184.38 344.33C187.88 344.01 191.35 343.69 194.88 343.56C198.41 343.43 202.05 343.43 205.58 343.56C209.11 343.69 212.58 344.01 216.08 344.33C219.58 344.66 223.12 345.06 226.59 345.53C230.05 345.99 233.52 346.59 236.89 347.12C240.26 347.65 243.5 348.1 246.8 348.73C250.1 349.36 252.8 350.04 256.71 350.9C260.61 351.75 267.98 353.37 270.23 353.86" class="dot"/>
</g>
</g>
<rect x="2.5" y="2.5" width="378" height="378" class="fr"/>
<path d="M97 2.5v12.5M97 380.5v-12.5M2.5 286h12.5M380.5 286h-12.5M191.5 2.5v24.5M191.5 380.5v-24.5M2.5 191.5h24.5M380.5 191.5h-24.5M286 2.5v12.5M286 380.5v-12.5M2.5 97h12.5M380.5 97h-12.5" class="tk"/>
</g>
<text x="1709.1" y="542.6" text-anchor="start">(b</text>
<text transform="translate(1768.22 542.6) scale(1 1.06)">4</text>
<text x="1805.19" y="542.6" text-anchor="start">)</text>
<text transform="translate(1845.82 542.6) scale(1 1.06)">00</text><path transform="translate(1919.77 542.6) scale(0.03247 -0.03247)" d="M763 0L583 0L583 1147Q518 1085 412.5 1023Q307 961 223 930L223 1104Q374 1175 487 1276Q600 1377 647 1472L763 1472Z"/>
<text transform="translate(1691.51 1024.8) scale(1 1.06)">0</text>
<text transform="translate(1852.78 1024.8) scale(1 1.06)">0.5</text>
<path transform="translate(2069.51 1024.8) scale(0.03247 -0.03247)" d="M763 0L583 0L583 1147Q518 1085 412.5 1023Q307 961 223 930L223 1104Q374 1175 487 1276Q600 1377 647 1472L763 1472Z"/>
<text x="1899" y="1096" text-anchor="middle">t/T</text>
<g transform="translate(2180 565)">
<g clip-path="url(#inner)"><g filter="url(#cmb)">
<rect x="0" y="0" width="383" height="383" fill="#000"/>
<path d="M-73.1 32.74L456.1 32.74L456.1 350.26L172.6 350.26L153.7 335.14L-73.1 335.14Z" fill="#fff" fill-opacity="0.068" filter="url(#b9)"/>
<ellipse cx="115.9" cy="66.76" rx="204.12" ry="68.04" transform="rotate(8 115.9 66.76)" fill="url(#g7_20)"/>
<ellipse cx="304.9" cy="316.24" rx="204.12" ry="68.04" transform="rotate(-8 304.9 316.24)" fill="url(#g7_20)"/>
<ellipse cx="61.85" cy="55.8" rx="190.51" ry="61.24" transform="rotate(8 61.85 55.8)" fill="url(#g20_20)"/>
<ellipse cx="50.51" cy="46.35" rx="123.61" ry="37.42" transform="rotate(8 50.51 46.35)" fill="url(#g91_26)"/>
<ellipse cx="391.84" cy="44.08" rx="34.02" ry="28.35" transform="rotate(0 391.84 44.08)" fill="url(#g50_20)"/>
<ellipse cx="251.22" cy="326.45" rx="181.44" ry="61.24" transform="rotate(-8 251.22 326.45)" fill="url(#g20_20)"/>
<ellipse cx="239.88" cy="335.9" rx="117.94" ry="37.42" transform="rotate(-8 239.88 335.9)" fill="url(#g91_26)"/>
<ellipse cx="168.06" cy="351.02" rx="62.37" ry="85.05" transform="rotate(0 168.06 351.02)" fill="url(#k85_20)"/>
<path d="M-8.84 20.86C-6.31 21.37 1.92 23.02 6.37 23.91C10.82 24.8 13.55 25.45 17.86 26.2C22.17 26.96 27.44 27.75 32.23 28.42C37.02 29.08 41.81 29.65 46.59 30.18C51.38 30.72 56.17 31.19 60.96 31.62C65.75 32.05 70.54 32.44 75.33 32.77C80.12 33.11 84.76 33.41 89.7 33.63C94.63 33.86 99.9 34.08 104.92 34.12C109.95 34.16 114.74 34.05 119.87 33.88C124.99 33.7 130.64 33.39 135.67 33.06C140.7 32.72 145.1 32.34 150.04 31.87C154.97 31.39 160.24 30.81 165.27 30.18C170.29 29.56 175.56 28.9 180.21 28.13C184.85 27.36 188.59 26.47 193.14 25.54C197.69 24.61 202.86 23.51 207.5 22.56C212.15 21.6 216.46 20.75 221.01 19.8C225.56 18.84 230.35 17.75 234.8 16.81C239.26 15.87 243.28 15 247.73 14.14C252.19 13.27 256.74 12.38 261.52 11.64C266.31 10.89 271.58 10.16 276.47 9.67C281.35 9.18 286.19 8.75 290.83 8.69C295.48 8.64 299.69 8.98 304.34 9.34C308.98 9.69 313.77 10.2 318.71 10.82C323.64 11.44 329 12.23 333.93 13.07C338.87 13.91 343.75 14.9 348.3 15.86C352.85 16.82 356.92 17.77 361.23 18.82C365.54 19.87 369.06 20.86 374.16 22.18C379.26 23.51 388.89 26.01 391.84 26.78L391.84 -40 L-8.84 -40 Z" fill="#000" fill-opacity="1" filter="url(#b3)"/>
<path d="M-8.84 354.27C-6.31 354.76 1.82 356.34 6.37 357.22C10.91 358.1 14.27 358.74 18.44 359.56C22.6 360.38 27.01 361.25 31.37 362.15C35.72 363.05 40.13 364.03 44.58 364.98C49.04 365.93 53.54 366.91 58.09 367.85C62.64 368.8 67.33 369.81 71.88 370.64C76.43 371.47 80.5 372.3 85.39 372.81C90.27 373.32 96.3 373.61 101.19 373.71C106.07 373.82 110.05 373.71 114.69 373.43C119.34 373.14 124.37 372.65 129.06 371.99C133.75 371.33 138.3 370.41 142.85 369.49C147.4 368.57 151.9 367.44 156.36 366.46C160.81 365.47 165.36 364.51 169.58 363.59C173.79 362.66 177.48 361.82 181.64 360.91C185.81 360.01 190.12 359.02 194.57 358.17C199.03 357.31 203.82 356.55 208.37 355.78C212.92 355.02 217.23 354.23 221.87 353.57C226.52 352.91 231.45 352.34 236.24 351.8C241.03 351.27 245.67 350.8 250.61 350.37C255.54 349.94 260.71 349.54 265.83 349.22C270.96 348.9 276.08 348.57 281.35 348.44C286.62 348.31 292.27 348.32 297.44 348.44C302.61 348.56 307.36 348.9 312.38 349.17C317.41 349.45 322.58 349.73 327.61 350.08C332.64 350.43 337.67 350.79 342.55 351.27C347.44 351.75 351.89 352.35 356.92 352.95C361.95 353.56 366.91 354.2 372.73 354.92C378.55 355.65 388.65 356.91 391.84 357.3L391.84 423 L-8.84 423 Z" fill="#000" fill-opacity="1" filter="url(#b3)"/>
</g>
<g transform="scale(1.45 1)">
<path d="M-6.1 20.86C-4.35 21.37 1.32 23.02 4.39 23.91C7.46 24.8 9.35 25.45 12.32 26.2C15.29 26.96 18.92 27.75 22.23 28.42C25.53 29.08 28.83 29.65 32.13 30.18C35.44 30.72 38.74 31.19 42.04 31.62C45.35 32.05 48.65 32.44 51.95 32.77C55.25 33.11 58.46 33.41 61.86 33.63C65.26 33.86 68.89 34.08 72.36 34.12C75.83 34.16 79.13 34.05 82.67 33.88C86.2 33.7 90.1 33.39 93.57 33.06C97.03 32.72 100.07 32.34 103.47 31.87C106.88 31.39 110.51 30.81 113.98 30.18C117.44 29.56 121.08 28.9 124.28 28.13C127.48 27.36 130.06 26.47 133.2 25.54C136.34 24.61 139.9 23.51 143.11 22.56C146.31 21.6 149.28 20.75 152.42 19.8C155.56 18.84 158.86 17.75 161.93 16.81C165 15.87 167.78 15 170.85 14.14C173.92 13.27 177.06 12.38 180.36 11.64C183.66 10.89 187.3 10.16 190.67 9.67C194.04 9.18 197.37 8.75 200.57 8.69C203.78 8.64 206.68 8.98 209.89 9.34C213.09 9.69 216.4 10.2 219.8 10.82C223.2 11.44 226.9 12.23 230.3 13.07C233.7 13.91 237.07 14.9 240.21 15.86C243.35 16.82 246.15 17.77 249.13 18.82C252.1 19.87 254.52 20.86 258.04 22.18C261.56 23.51 268.2 26.01 270.23 26.78" class="dot"/>
<path d="M-6.1 354.27C-4.35 354.76 1.26 356.34 4.39 357.22C7.53 358.1 9.84 358.74 12.71 359.56C15.59 360.38 18.63 361.25 21.63 362.15C24.64 363.05 27.68 364.03 30.75 364.98C33.82 365.93 36.92 366.91 40.06 367.85C43.2 368.8 46.44 369.81 49.57 370.64C52.71 371.47 55.52 372.3 58.89 372.81C62.26 373.32 66.42 373.61 69.79 373.71C73.15 373.82 75.9 373.71 79.1 373.43C82.3 373.14 85.77 372.65 89.01 371.99C92.24 371.33 95.38 370.41 98.52 369.49C101.66 368.57 104.76 367.44 107.83 366.46C110.9 365.47 114.04 364.51 116.95 363.59C119.86 362.66 122.4 361.82 125.27 360.91C128.15 360.01 131.12 359.02 134.19 358.17C137.26 357.31 140.56 356.55 143.7 355.78C146.84 355.02 149.81 354.23 153.02 353.57C156.22 352.91 159.62 352.34 162.92 351.8C166.23 351.27 169.43 350.8 172.83 350.37C176.23 349.94 179.8 349.54 183.33 349.22C186.87 348.9 190.4 348.57 194.04 348.44C197.67 348.31 201.57 348.32 205.13 348.44C208.7 348.56 211.97 348.9 215.44 349.17C218.91 349.45 222.47 349.73 225.94 350.08C229.41 350.43 232.88 350.79 236.24 351.27C239.61 351.75 242.69 352.35 246.15 352.95C249.62 353.56 253.04 354.2 257.05 354.92C261.07 355.65 268.04 356.91 270.23 357.3" class="dot"/>
</g>
</g>
<rect x="2.5" y="2.5" width="378" height="378" class="fr"/>
<path d="M97 2.5v12.5M97 380.5v-12.5M2.5 286h12.5M380.5 286h-12.5M191.5 2.5v24.5M191.5 380.5v-24.5M2.5 191.5h24.5M380.5 191.5h-24.5M286 2.5v12.5M286 380.5v-12.5M2.5 97h12.5M380.5 97h-12.5" class="tk"/>
</g>
<text x="2181.6" y="542.6" text-anchor="start">(b</text>
<text transform="translate(2240.72 542.6) scale(1 1.06)">5</text>
<text x="2277.69" y="542.6" text-anchor="start">)</text>
<path transform="translate(2318.32 542.6) scale(0.03247 -0.03247)" d="M763 0L583 0L583 1147Q518 1085 412.5 1023Q307 961 223 930L223 1104Q374 1175 487 1276Q600 1377 647 1472L763 1472Z"/><text transform="translate(2355.3 542.6) scale(1 1.06)">0</text><path transform="translate(2392.27 542.6) scale(0.03247 -0.03247)" d="M763 0L583 0L583 1147Q518 1085 412.5 1023Q307 961 223 930L223 1104Q374 1175 487 1276Q600 1377 647 1472L763 1472Z"/>
<text transform="translate(2164.01 1024.8) scale(1 1.06)">0</text>
<text transform="translate(2325.28 1024.8) scale(1 1.06)">0.5</text>
<path transform="translate(2542.01 1024.8) scale(0.03247 -0.03247)" d="M763 0L583 0L583 1147Q518 1085 412.5 1023Q307 961 223 930L223 1104Q374 1175 487 1276Q600 1377 647 1472L763 1472Z"/>
<text x="2371.5" y="1096" text-anchor="middle">t/T</text>
<g transform="translate(2652.5 565)">
<g clip-path="url(#inner)"><g filter="url(#cmb)">
<rect x="0" y="0" width="383" height="383" fill="#000"/>
<path d="M-73.1 89.44L456.1 89.44L456.1 278.44L-73.1 278.44Z" fill="#fff" fill-opacity="0.026" filter="url(#b14)"/>
<ellipse cx="66.76" cy="172.6" rx="147.42" ry="113.4" transform="rotate(25 66.76 172.6)" fill="url(#g9_20)"/>
<ellipse cx="267.1" cy="202.84" rx="158.76" ry="113.4" transform="rotate(-20 267.1 202.84)" fill="url(#g9_20)"/>
<ellipse cx="47.48" cy="151.81" rx="190.51" ry="137.21" transform="rotate(30 47.48 151.81)" fill="url(#g20_20)"/>
<ellipse cx="36.14" cy="142.36" rx="123.61" ry="83.92" transform="rotate(30 36.14 142.36)" fill="url(#g91_26)"/>
<ellipse cx="391.84" cy="134.8" rx="45.36" ry="68.04" transform="rotate(0 391.84 134.8)" fill="url(#g70_20)"/>
<ellipse cx="242.53" cy="224.76" rx="196.18" ry="131.54" transform="rotate(-30 242.53 224.76)" fill="url(#g20_20)"/>
<ellipse cx="231.19" cy="234.21" rx="127.01" ry="80.51" transform="rotate(-30 231.19 234.21)" fill="url(#g91_26)"/>
<ellipse cx="159.37" cy="249.33" rx="62.37" ry="85.05" transform="rotate(0 159.37 249.33)" fill="url(#k85_20)"/>
<path d="M-8.84 78.03C-6.63 79.4 0.65 83.91 4.44 86.26C8.24 88.61 10.67 90.1 13.92 92.13C17.18 94.17 20.63 96.47 23.98 98.44C27.33 100.41 30.54 102.25 34.04 103.94C37.53 105.64 41.13 107.13 44.96 108.63C48.79 110.13 52.71 111.59 57.02 112.94C61.33 114.29 66.12 115.72 70.82 116.75C75.51 117.77 80.3 118.56 85.18 119.09C90.07 119.61 95.15 119.9 100.13 119.91C105.11 119.91 110.18 119.6 115.07 119.13C119.95 118.67 124.84 117.98 129.43 117.12C134.03 116.26 138.44 115.19 142.65 113.96C146.87 112.73 150.7 111.26 154.72 109.73C158.74 108.21 162.86 106.59 166.79 104.81C170.72 103.03 174.55 101.1 178.28 99.06C182.02 97.01 185.85 94.77 189.2 92.54C192.55 90.3 195.43 87.98 198.4 85.64C201.37 83.3 204 80.9 207.02 78.5C210.03 76.11 213.39 73.72 216.5 71.27C219.61 68.82 222.48 66.33 225.69 63.8C228.9 61.27 232.49 58.66 235.75 56.09C239.01 53.52 241.74 50.88 245.23 48.37C248.73 45.86 253.04 43.29 256.73 41.03C260.41 38.78 263.67 36.53 267.36 34.84C271.05 33.15 274.49 31.55 278.85 30.87C283.21 30.2 288.81 30.23 293.51 30.79C298.2 31.35 302.75 32.75 307.01 34.22C311.27 35.69 315.15 37.63 319.08 39.59C323.01 41.56 327.08 43.84 330.57 46.03C334.07 48.22 337.04 50.43 340.05 52.73C343.07 55.03 345.8 57.44 348.67 59.82C351.55 62.2 354.33 64.61 357.3 67.01C360.26 69.4 363.38 71.8 366.49 74.19C369.6 76.59 371.75 78.17 375.97 81.37C380.2 84.57 389.2 91.39 391.84 93.4L391.84 -40 L-8.84 -40 Z" fill="#000" fill-opacity="1" filter="url(#b3)"/>
<path d="M-8.84 279.33C-6.63 281.44 0.89 288.6 4.44 291.99C8 295.38 9.61 297.18 12.49 299.67C15.36 302.16 18.67 304.53 21.68 306.94C24.7 309.34 27.57 311.72 30.59 314.12C33.61 316.51 36.67 318.89 39.78 321.3C42.9 323.72 46.01 326.1 49.27 328.62C52.52 331.13 55.88 333.92 59.32 336.4C62.77 338.88 66.36 341.38 69.96 343.5C73.55 345.62 76.9 347.66 80.87 349.12C84.85 350.58 89.49 351.85 93.8 352.26C98.11 352.67 102.57 352.31 106.73 351.57C110.9 350.84 114.88 349.34 118.8 347.85C122.73 346.37 126.56 344.59 130.3 342.68C134.03 340.77 137.77 338.61 141.22 336.4C144.66 334.19 147.78 331.73 150.99 329.43C154.19 327.14 157.45 324.97 160.47 322.65C163.48 320.34 166.12 317.94 169.09 315.56C172.06 313.18 175.27 310.75 178.28 308.37C181.3 305.99 184.17 303.59 187.19 301.28C190.21 298.96 193.18 296.77 196.38 294.49C199.59 292.22 203.09 289.75 206.44 287.61C209.79 285.47 212.91 283.58 216.5 281.65C220.09 279.72 223.83 277.77 227.99 276.03C232.16 274.3 237.19 272.64 241.5 271.23C245.81 269.83 249.64 268.72 253.85 267.61C258.07 266.5 262.23 265.4 266.78 264.58C271.33 263.76 276.27 263.03 281.15 262.7C286.03 262.37 291.21 262.39 296.09 262.61C300.98 262.84 305.77 263.35 310.46 264.05C315.15 264.75 319.8 265.75 324.25 266.79C328.7 267.84 333.11 268.98 337.18 270.33C341.25 271.68 344.84 273.23 348.67 274.88C352.51 276.54 356.58 278.42 360.17 280.26C363.76 282.09 367.35 284.06 370.23 285.87C373.1 287.69 373.81 288.5 377.41 291.13C381.01 293.77 389.43 299.94 391.84 301.7L391.84 423 L-8.84 423 Z" fill="#000" fill-opacity="1" filter="url(#b3)"/>
</g>
<g transform="scale(1.45 1)">
<path d="M-6.1 78.03C-4.57 79.4 0.45 83.91 3.06 86.26C5.68 88.61 7.36 90.1 9.6 92.13C11.85 94.17 14.23 96.47 16.54 98.44C18.85 100.41 21.06 102.25 23.47 103.94C25.89 105.64 28.36 107.13 31 108.63C33.65 110.13 36.36 111.59 39.33 112.94C42.3 114.29 45.6 115.72 48.84 116.75C52.08 117.77 55.38 118.56 58.75 119.09C62.12 119.61 65.62 119.9 69.05 119.91C72.49 119.91 75.99 119.6 79.36 119.13C82.73 118.67 86.09 117.98 89.27 117.12C92.44 116.26 95.47 115.19 98.38 113.96C101.29 112.73 103.93 111.26 106.7 109.73C109.48 108.21 112.32 106.59 115.03 104.81C117.73 103.03 120.38 101.1 122.95 99.06C125.53 97.01 128.17 94.77 130.48 92.54C132.8 90.3 134.78 87.98 136.82 85.64C138.87 83.3 140.69 80.9 142.77 78.5C144.85 76.11 147.16 73.72 149.31 71.27C151.46 68.82 153.44 66.33 155.65 63.8C157.86 61.27 160.34 58.66 162.59 56.09C164.83 53.52 166.71 50.88 169.13 48.37C171.54 45.86 174.51 43.29 177.05 41.03C179.6 38.78 181.84 36.53 184.38 34.84C186.93 33.15 189.31 31.55 192.31 30.87C195.32 30.2 199.18 30.23 202.42 30.79C205.65 31.35 208.79 32.75 211.73 34.22C214.67 35.69 217.35 37.63 220.05 39.59C222.76 41.56 225.57 43.84 227.98 46.03C230.39 48.22 232.44 50.43 234.52 52.73C236.6 55.03 238.48 57.44 240.47 59.82C242.45 62.2 244.36 64.61 246.41 67.01C248.46 69.4 250.6 71.8 252.75 74.19C254.9 76.59 256.38 78.17 259.29 81.37C262.21 84.57 268.41 91.39 270.23 93.4" class="dot"/>
<path d="M-6.1 279.33C-4.57 281.44 0.61 288.6 3.06 291.99C5.51 295.38 6.63 297.18 8.61 299.67C10.59 302.16 12.87 304.53 14.95 306.94C17.03 309.34 19.02 311.72 21.1 314.12C23.18 316.51 25.29 318.89 27.44 321.3C29.58 323.72 31.73 326.1 33.98 328.62C36.22 331.13 38.53 333.92 40.91 336.4C43.29 338.88 45.77 341.38 48.24 343.5C50.72 345.62 53.03 347.66 55.78 349.12C58.52 350.58 61.72 351.85 64.69 352.26C67.67 352.67 70.74 352.31 73.61 351.57C76.48 350.84 79.22 349.34 81.93 347.85C84.64 346.37 87.28 344.59 89.86 342.68C92.44 340.77 95.01 338.61 97.39 336.4C99.77 334.19 101.91 331.73 104.13 329.43C106.34 327.14 108.59 324.97 110.67 322.65C112.75 320.34 114.56 317.94 116.61 315.56C118.66 313.18 120.87 310.75 122.95 308.37C125.03 305.99 127.02 303.59 129.1 301.28C131.18 298.96 133.22 296.77 135.44 294.49C137.65 292.22 140.06 289.75 142.37 287.61C144.69 285.47 146.83 283.58 149.31 281.65C151.79 279.72 154.36 277.77 157.24 276.03C160.11 274.3 163.58 272.64 166.55 271.23C169.52 269.83 172.16 268.72 175.07 267.61C177.98 266.5 180.85 265.4 183.99 264.58C187.13 263.76 190.53 263.03 193.9 262.7C197.27 262.37 200.83 262.39 204.2 262.61C207.57 262.84 210.87 263.35 214.11 264.05C217.35 264.75 220.55 265.75 223.62 266.79C226.69 267.84 229.73 268.98 232.54 270.33C235.35 271.68 237.82 273.23 240.47 274.88C243.11 276.54 245.92 278.42 248.39 280.26C250.87 282.09 253.35 284.06 255.33 285.87C257.31 287.69 257.8 288.5 260.28 291.13C262.77 293.77 268.58 299.94 270.23 301.7" class="dot"/>
</g>
</g>
<rect x="2.5" y="2.5" width="378" height="378" class="fr"/>
<path d="M97 2.5v12.5M97 380.5v-12.5M2.5 286h12.5M380.5 286h-12.5M191.5 2.5v24.5M191.5 380.5v-24.5M2.5 191.5h24.5M380.5 191.5h-24.5M286 2.5v12.5M286 380.5v-12.5M2.5 97h12.5M380.5 97h-12.5" class="tk"/>
</g>
<text x="2654.1" y="542.6" text-anchor="start">(b</text>
<text transform="translate(2713.22 542.6) scale(1 1.06)">6</text>
<text x="2750.19" y="542.6" text-anchor="start">)</text>
<path transform="translate(2790.82 542.6) scale(0.03247 -0.03247)" d="M763 0L583 0L583 1147Q518 1085 412.5 1023Q307 961 223 930L223 1104Q374 1175 487 1276Q600 1377 647 1472L763 1472Z"/><path transform="translate(2827.8 542.6) scale(0.03247 -0.03247)" d="M763 0L583 0L583 1147Q518 1085 412.5 1023Q307 961 223 930L223 1104Q374 1175 487 1276Q600 1377 647 1472L763 1472Z"/><text transform="translate(2864.77 542.6) scale(1 1.06)">0</text>
<text transform="translate(2636.51 1024.8) scale(1 1.06)">0</text>
<text transform="translate(2797.78 1024.8) scale(1 1.06)">0.5</text>
<path transform="translate(3014.51 1024.8) scale(0.03247 -0.03247)" d="M763 0L583 0L583 1147Q518 1085 412.5 1023Q307 961 223 930L223 1104Q374 1175 487 1276Q600 1377 647 1472L763 1472Z"/>
<text x="2844" y="1096" text-anchor="middle">t/T</text>
<g transform="translate(3125 565)">
<g clip-path="url(#inner)"><g filter="url(#cmb)">
<rect x="0" y="0" width="383" height="383" fill="#000"/>
<path d="M-73.1 62.98L134.8 115.9L456.1 146.14L456.1 304.9L-73.1 289.78Z" fill="#fff" fill-opacity="0.085" filter="url(#b16)"/>
<ellipse cx="134.8" cy="172.6" rx="249.48" ry="113.4" transform="rotate(30 134.8 172.6)" fill="url(#g10_20)"/>
<ellipse cx="323.8" cy="229.3" rx="204.12" ry="113.4" transform="rotate(-20 323.8 229.3)" fill="url(#g8_20)"/>
<ellipse cx="61.85" cy="117.41" rx="238.14" ry="146.29" transform="rotate(35 61.85 117.41)" fill="url(#g25_20)"/>
<ellipse cx="50.51" cy="107.96" rx="154.22" ry="89.59" transform="rotate(35 50.51 107.96)" fill="url(#g91_26)"/>
<ellipse cx="391.84" cy="85.66" rx="34.02" ry="56.7" transform="rotate(0 391.84 85.66)" fill="url(#g50_20)"/>
<ellipse cx="254.25" cy="262.19" rx="248.35" ry="137.21" transform="rotate(-35 254.25 262.19)" fill="url(#g25_20)"/>
<ellipse cx="242.91" cy="271.64" rx="161.03" ry="83.92" transform="rotate(-35 242.91 271.64)" fill="url(#g91_26)"/>
<ellipse cx="171.09" cy="286.76" rx="62.37" ry="85.05" transform="rotate(0 171.09 286.76)" fill="url(#k50_20)"/>
<path d="M-8.84 49.37C-6.54 50.49 0.92 54.13 4.94 56.09C8.96 58.05 11.79 59.56 15.29 61.13C18.78 62.7 22.23 64.12 25.92 65.53C29.61 66.93 33.2 68.29 37.41 69.55C41.63 70.81 46.51 72.11 51.2 73.11C55.9 74.11 60.69 74.86 65.57 75.54C70.46 76.22 75.53 76.8 80.51 77.18C85.49 77.55 90.52 77.75 95.45 77.8C100.39 77.84 105.18 77.75 110.11 77.47C115.04 77.19 120.17 76.68 125.05 76.12C129.93 75.55 134.87 74.88 139.42 74.06C143.97 73.24 148.18 72.27 152.35 71.19C156.51 70.11 160.44 68.81 164.42 67.58C168.39 66.35 172.46 65.13 176.2 63.8C179.93 62.48 183.28 61.21 186.83 59.65C190.37 58.1 193.77 56.35 197.46 54.48C201.15 52.61 205.12 50.42 208.95 48.42C212.78 46.41 216.71 44.48 220.45 42.45C224.18 40.42 228.11 38.13 231.37 36.23C234.62 34.33 236.78 32.76 239.99 31.05C243.19 29.33 246.93 27.59 250.62 25.96C254.3 24.33 257.99 22.59 262.11 21.29C266.23 19.99 270.87 18.84 275.33 18.17C279.78 17.51 284.19 17.07 288.83 17.28C293.48 17.5 298.75 18.49 303.2 19.48C307.65 20.47 311.49 21.78 315.56 23.22C319.63 24.65 323.7 26.29 327.62 28.1C331.55 29.91 335.29 31.99 339.12 34.09C342.95 36.2 346.64 38.6 350.61 40.73C354.59 42.86 358.9 44.87 362.97 46.85C367.04 48.84 370.22 50.33 375.04 52.64C379.85 54.95 389.04 59.36 391.84 60.7L391.84 -40 L-8.84 -40 Z" fill="#000" fill-opacity="1" filter="url(#b3)"/>
<path d="M-8.84 317.26C-6.54 318.65 1.06 323.26 4.94 325.61C8.82 327.96 11.07 329.44 14.42 331.36C17.78 333.28 21.46 335.18 25.06 337.11C28.65 339.04 32.38 340.94 35.97 342.94C39.57 344.94 43.01 347.12 46.61 349.13C50.2 351.15 53.79 353.25 57.52 355.04C61.26 356.83 65.04 358.49 69.02 359.88C72.99 361.27 76.92 362.48 81.37 363.37C85.83 364.26 91.19 365.15 95.74 365.19C100.29 365.24 104.36 364.47 108.67 363.66C112.98 362.85 117.05 361.72 121.6 360.32C126.15 358.92 131.8 356.98 135.97 355.25C140.14 353.52 143.06 351.76 146.6 349.95C150.14 348.14 153.74 346.2 157.23 344.38C160.73 342.56 164.08 340.86 167.58 339.03C171.07 337.2 174.62 335.26 178.21 333.41C181.8 331.57 185.3 329.73 189.13 327.95C192.96 326.18 197.27 324.44 201.19 322.78C205.12 321.13 208.71 319.46 212.69 318.03C216.66 316.59 221.07 315.37 225.04 314.16C229.02 312.96 232.37 311.8 236.54 310.8C240.7 309.8 245.4 308.94 250.04 308.17C254.69 307.4 259.38 306.71 264.41 306.16C269.44 305.61 274.95 305.07 280.21 304.85C285.48 304.63 290.84 304.63 296.02 304.85C301.19 305.08 306.31 305.62 311.25 306.2C316.18 306.79 320.87 307.6 325.61 308.37C330.35 309.15 335.19 309.86 339.69 310.84C344.19 311.82 348.41 312.98 352.62 314.25C356.84 315.51 361 317.01 364.98 318.43C368.95 319.84 372 321.06 376.47 322.74C380.95 324.42 389.28 327.54 391.84 328.5L391.84 423 L-8.84 423 Z" fill="#000" fill-opacity="1" filter="url(#b3)"/>
</g>
<g transform="scale(1.45 1)">
<path d="M-6.1 49.37C-4.51 50.49 0.63 54.13 3.41 56.09C6.18 58.05 8.13 59.56 10.54 61.13C12.95 62.7 15.33 64.12 17.87 65.53C20.42 66.93 22.89 68.29 25.8 69.55C28.71 70.81 32.08 72.11 35.31 73.11C38.55 74.11 41.85 74.86 45.22 75.54C48.59 76.22 52.09 76.8 55.53 77.18C58.96 77.55 62.43 77.75 65.83 77.8C69.23 77.84 72.53 77.75 75.94 77.47C79.34 77.19 82.87 76.68 86.24 76.12C89.61 75.55 93.01 74.88 96.15 74.06C99.29 73.24 102.19 72.27 105.07 71.19C107.94 70.11 110.65 68.81 113.39 67.58C116.13 66.35 118.94 65.13 121.51 63.8C124.09 62.48 126.4 61.21 128.85 59.65C131.29 58.1 133.64 56.35 136.18 54.48C138.72 52.61 141.46 50.42 144.11 48.42C146.75 46.41 149.46 44.48 152.03 42.45C154.61 40.42 157.32 38.13 159.56 36.23C161.81 34.33 163.29 32.76 165.51 31.05C167.72 29.33 170.3 27.59 172.84 25.96C175.38 24.33 177.93 22.59 180.77 21.29C183.61 19.99 186.81 18.84 189.88 18.17C192.95 17.51 195.99 17.07 199.2 17.28C202.4 17.5 206.03 18.49 209.1 19.48C212.18 20.47 214.82 21.78 217.62 23.22C220.43 24.65 223.24 26.29 225.95 28.1C228.66 29.91 231.23 31.99 233.87 34.09C236.52 36.2 239.06 38.6 241.8 40.73C244.54 42.86 247.51 44.87 250.32 46.85C253.13 48.84 255.33 50.33 258.65 52.64C261.96 54.95 268.3 59.36 270.23 60.7" class="dot"/>
<path d="M-6.1 317.26C-4.51 318.65 0.73 323.26 3.41 325.61C6.08 327.96 7.64 329.44 9.95 331.36C12.26 333.28 14.8 335.18 17.28 337.11C19.76 339.04 22.33 340.94 24.81 342.94C27.29 344.94 29.66 347.12 32.14 349.13C34.62 351.15 37.1 353.25 39.67 355.04C42.25 356.83 44.86 358.49 47.6 359.88C50.34 361.27 53.05 362.48 56.12 363.37C59.19 364.26 62.89 365.15 66.03 365.19C69.17 365.24 71.97 364.47 74.95 363.66C77.92 362.85 80.73 361.72 83.86 360.32C87 358.92 90.9 356.98 93.77 355.25C96.64 353.52 98.66 351.76 101.1 349.95C103.55 348.14 106.02 346.2 108.44 344.38C110.85 342.56 113.16 340.86 115.57 339.03C117.98 337.2 120.42 335.26 122.9 333.41C125.38 331.57 127.79 329.73 130.43 327.95C133.07 326.18 136.05 324.44 138.76 322.78C141.46 321.13 143.94 319.46 146.68 318.03C149.42 316.59 152.46 315.37 155.2 314.16C157.94 312.96 160.26 311.8 163.13 310.8C166 309.8 169.24 308.94 172.44 308.17C175.65 307.4 178.88 306.71 182.35 306.16C185.82 305.61 189.62 305.07 193.25 304.85C196.88 304.63 200.58 304.63 204.15 304.85C207.72 305.08 211.25 305.62 214.65 306.2C218.05 306.79 221.29 307.6 224.56 308.37C227.83 309.15 231.17 309.86 234.27 310.84C237.38 311.82 240.28 312.98 243.19 314.25C246.09 315.51 248.97 317.01 251.71 318.43C254.45 319.84 256.55 321.06 259.64 322.74C262.72 324.42 268.47 327.54 270.23 328.5" class="dot"/>
</g>
</g>
<rect x="2.5" y="2.5" width="378" height="378" class="fr"/>
<path d="M97 380.5v-12.5M2.5 286h12.5M380.5 286h-12.5M191.5 380.5v-24.5M2.5 191.5h24.5M380.5 191.5h-24.5M286 380.5v-12.5M2.5 97h12.5M380.5 97h-12.5" class="tk"/>
</g>
<text x="3126.6" y="542.6" text-anchor="start">(b</text>
<text transform="translate(3185.72 542.6) scale(1 1.06)">7</text>
<text x="3222.69" y="542.6" text-anchor="start">)</text>
<text transform="translate(3263.32 542.6) scale(1 1.06)">0</text><path transform="translate(3300.3 542.6) scale(0.03247 -0.03247)" d="M763 0L583 0L583 1147Q518 1085 412.5 1023Q307 961 223 930L223 1104Q374 1175 487 1276Q600 1377 647 1472L763 1472Z"/><path transform="translate(3337.27 542.6) scale(0.03247 -0.03247)" d="M763 0L583 0L583 1147Q518 1085 412.5 1023Q307 961 223 930L223 1104Q374 1175 487 1276Q600 1377 647 1472L763 1472Z"/>
<text transform="translate(3109.01 1024.8) scale(1 1.06)">0</text>
<text transform="translate(3270.28 1024.8) scale(1 1.06)">0.5</text>
<path transform="translate(3487.01 1024.8) scale(0.03247 -0.03247)" d="M763 0L583 0L583 1147Q518 1085 412.5 1023Q307 961 223 930L223 1104Q374 1175 487 1276Q600 1377 647 1472L763 1472Z"/>
<text x="3316.5" y="1096" text-anchor="middle">t/T</text>
<g transform="translate(3597.5 565)">
<g clip-path="url(#inner)"><g filter="url(#cmb)">
<rect x="0" y="0" width="383" height="383" fill="#000"/>
<path d="M-73.1 78.1L456.1 78.1L456.1 323.8L286 323.8L172.6 278.44L-73.1 278.44Z" fill="#fff" fill-opacity="0.080" filter="url(#b18)"/>
<ellipse cx="115.9" cy="131.02" rx="226.8" ry="113.4" transform="rotate(25 115.9 131.02)" fill="url(#g9_20)"/>
<ellipse cx="267.1" cy="244.42" rx="226.8" ry="113.4" transform="rotate(-25 267.1 244.42)" fill="url(#g9_20)"/>
<ellipse cx="58.07" cy="97" rx="196.18" ry="125.87" transform="rotate(25 58.07 97)" fill="url(#g26_20)"/>
<ellipse cx="46.73" cy="87.55" rx="127.01" ry="77.11" transform="rotate(25 46.73 87.55)" fill="url(#g91_26)"/>
<ellipse cx="391.84" cy="78.1" rx="39.69" ry="51.03" transform="rotate(0 391.84 78.1)" fill="url(#g70_20)"/>
<ellipse cx="242.53" cy="282.22" rx="196.18" ry="121.34" transform="rotate(-25 242.53 282.22)" fill="url(#g26_20)"/>
<ellipse cx="231.19" cy="291.67" rx="127.01" ry="74.84" transform="rotate(-25 231.19 291.67)" fill="url(#g91_26)"/>
<ellipse cx="159.37" cy="306.79" rx="62.37" ry="85.05" transform="rotate(0 159.37 306.79)" fill="url(#k85_20)"/>
<path d="M-8.84 38.54C-6.63 39.55 0.5 42.8 4.44 44.59C8.38 46.39 11.15 47.88 14.79 49.31C18.43 50.74 22.11 51.96 26.28 53.17C30.45 54.38 35.38 55.53 39.78 56.58C44.19 57.62 48.17 58.59 52.71 59.45C57.26 60.31 62.29 61.08 67.08 61.75C71.87 62.42 76.42 63.01 81.45 63.47C86.48 63.94 92.46 64.37 97.25 64.54C102.04 64.71 105.54 64.72 110.18 64.49C114.83 64.27 120.1 63.73 125.12 63.19C130.15 62.64 135.52 61.94 140.35 61.22C145.19 60.5 149.6 59.74 154.15 58.88C158.7 58.01 163.34 57.05 167.65 56C171.96 54.96 175.84 53.81 180.01 52.6C184.17 51.39 188.58 50.15 192.65 48.73C196.72 47.31 200.6 45.62 204.43 44.06C208.26 42.5 211.95 40.97 215.64 39.38C219.32 37.78 222.82 36.16 226.56 34.49C230.29 32.83 234.22 31.07 238.05 29.41C241.88 27.75 245.71 26.08 249.54 24.52C253.37 22.97 256.82 21.35 261.04 20.06C265.25 18.77 270.04 17.52 274.83 16.78C279.62 16.04 284.79 15.65 289.77 15.63C294.75 15.62 300.16 16.06 304.71 16.69C309.26 17.33 312.85 18.35 317.07 19.44C321.28 20.53 325.78 21.78 330 23.22C334.21 24.65 338.28 26.31 342.35 28.06C346.42 29.8 350.49 31.81 354.42 33.68C358.35 35.54 362.08 37.53 365.92 39.25C369.75 40.97 373.09 42.23 377.41 44.02C381.73 45.81 389.43 49.01 391.84 50.01L391.84 -40 L-8.84 -40 Z" fill="#000" fill-opacity="1" filter="url(#b3)"/>
<path d="M-8.84 327.18C-6.63 328.26 0.41 331.69 4.44 333.66C8.48 335.63 11.63 337.31 15.36 338.99C19.1 340.67 23.02 342.16 26.85 343.76C30.69 345.36 34.61 346.99 38.35 348.6C42.08 350.21 45.58 351.85 49.27 353.44C52.95 355.03 56.69 356.58 60.47 358.13C64.26 359.67 67.99 361.43 71.97 362.71C75.94 363.99 79.63 365.12 84.32 365.83C89.02 366.54 95 366.93 100.13 366.98C105.25 367.02 110.28 366.72 115.07 366.11C119.86 365.51 124.55 364.5 128.86 363.33C133.17 362.15 136.86 360.64 140.93 359.06C145 357.47 149.21 355.56 153.28 353.82C157.35 352.07 161.28 350.32 165.35 348.6C169.42 346.88 173.64 345.15 177.71 343.47C181.78 341.8 185.71 340.15 189.78 338.54C193.85 336.94 198.16 335.26 202.13 333.83C206.11 332.4 209.55 331.18 213.63 329.97C217.7 328.75 221.91 327.61 226.56 326.56C231.2 325.51 236.71 324.55 241.5 323.69C246.29 322.83 250.6 322.06 255.29 321.39C259.98 320.72 264.72 320.13 269.66 319.67C274.59 319.2 279.86 318.79 284.89 318.6C289.91 318.41 294.94 318.43 299.83 318.52C304.71 318.6 309.26 318.78 314.19 319.13C319.13 319.49 324.54 319.96 329.42 320.66C334.31 321.35 338.95 322.37 343.5 323.31C348.05 324.26 352.27 325.22 356.72 326.32C361.17 327.42 364.37 328.36 370.23 329.92C376.08 331.49 388.24 334.73 391.84 335.69L391.84 423 L-8.84 423 Z" fill="#000" fill-opacity="1" filter="url(#b3)"/>
</g>
<g transform="scale(1.45 1)">
<path d="M-6.1 38.54C-4.57 39.55 0.35 42.8 3.06 44.59C5.78 46.39 7.69 47.88 10.2 49.31C12.71 50.74 15.25 51.96 18.12 53.17C21 54.38 24.4 55.53 27.44 56.58C30.48 57.62 33.22 58.59 36.36 59.45C39.49 60.31 42.96 61.08 46.26 61.75C49.57 62.42 52.7 63.01 56.17 63.47C59.64 63.94 63.77 64.37 67.07 64.54C70.37 64.71 72.78 64.72 75.99 64.49C79.19 64.27 82.82 63.73 86.29 63.19C89.76 62.64 93.46 61.94 96.8 61.22C100.13 60.5 103.17 59.74 106.31 58.88C109.45 58.01 112.65 57.05 115.62 56C118.59 54.96 121.27 53.81 124.14 52.6C127.02 51.39 130.05 50.15 132.86 48.73C135.67 47.31 138.34 45.62 140.99 44.06C143.63 42.5 146.17 40.97 148.71 39.38C151.26 37.78 153.67 36.16 156.25 34.49C158.82 32.83 161.53 31.07 164.17 29.41C166.81 27.75 169.46 26.08 172.1 24.52C174.74 22.97 177.12 21.35 180.03 20.06C182.93 18.77 186.23 17.52 189.54 16.78C192.84 16.04 196.41 15.65 199.84 15.63C203.28 15.62 207.01 16.06 210.15 16.69C213.28 17.33 215.76 18.35 218.67 19.44C221.57 20.53 224.68 21.78 227.58 23.22C230.49 24.65 233.3 26.31 236.11 28.06C238.91 29.8 241.72 31.81 244.43 33.68C247.14 35.54 249.71 37.53 252.36 39.25C255 40.97 257.3 42.23 260.28 44.02C263.26 45.81 268.58 49.01 270.23 50.01" class="dot"/>
<path d="M-6.1 327.18C-4.57 328.26 0.28 331.69 3.06 333.66C5.84 335.63 8.02 337.31 10.59 338.99C13.17 340.67 15.88 342.16 18.52 343.76C21.16 345.36 23.87 346.99 26.45 348.6C29.02 350.21 31.43 351.85 33.98 353.44C36.52 355.03 39.1 356.58 41.71 358.13C44.31 359.67 46.89 361.43 49.63 362.71C52.37 363.99 54.92 365.12 58.15 365.83C61.39 366.54 65.52 366.93 69.05 366.98C72.59 367.02 76.05 366.72 79.36 366.11C82.66 365.51 85.9 364.5 88.87 363.33C91.84 362.15 94.38 360.64 97.19 359.06C100 357.47 102.91 355.56 105.71 353.82C108.52 352.07 111.23 350.32 114.04 348.6C116.84 346.88 119.75 345.15 122.56 343.47C125.36 341.8 128.07 340.15 130.88 338.54C133.69 336.94 136.66 335.26 139.4 333.83C142.14 332.4 144.52 331.18 147.33 329.97C150.14 328.75 153.04 327.61 156.25 326.56C159.45 325.51 163.25 324.55 166.55 323.69C169.85 322.83 172.83 322.06 176.06 321.39C179.3 320.72 182.57 320.13 185.97 319.67C189.37 319.2 193 318.79 196.47 318.6C199.94 318.41 203.41 318.43 206.78 318.52C210.15 318.6 213.28 318.78 216.69 319.13C220.09 319.49 223.82 319.96 227.19 320.66C230.56 321.35 233.76 322.37 236.9 323.31C240.04 324.26 242.94 325.22 246.01 326.32C249.09 327.42 251.29 328.36 255.33 329.92C259.36 331.49 267.75 334.73 270.23 335.69" class="dot"/>
</g>
</g>
<rect x="2.5" y="2.5" width="378" height="378" class="fr"/>
<path d="M97 2.5v12.5M97 380.5v-12.5M2.5 286h12.5M380.5 286h-12.5M191.5 2.5v24.5M191.5 380.5v-24.5M2.5 191.5h24.5M380.5 191.5h-24.5M286 2.5v12.5M286 380.5v-12.5M2.5 97h12.5M380.5 97h-12.5" class="tk"/>
</g>
<text x="3599.1" y="542.6" text-anchor="start">(b</text>
<text transform="translate(3658.22 542.6) scale(1 1.06)">8</text>
<text x="3695.19" y="542.6" text-anchor="start">)</text>
<path transform="translate(3735.82 542.6) scale(0.03247 -0.03247)" d="M763 0L583 0L583 1147Q518 1085 412.5 1023Q307 961 223 930L223 1104Q374 1175 487 1276Q600 1377 647 1472L763 1472Z"/><path transform="translate(3772.8 542.6) scale(0.03247 -0.03247)" d="M763 0L583 0L583 1147Q518 1085 412.5 1023Q307 961 223 930L223 1104Q374 1175 487 1276Q600 1377 647 1472L763 1472Z"/><path transform="translate(3809.77 542.6) scale(0.03247 -0.03247)" d="M763 0L583 0L583 1147Q518 1085 412.5 1023Q307 961 223 930L223 1104Q374 1175 487 1276Q600 1377 647 1472L763 1472Z"/>
<text transform="translate(3581.51 1024.8) scale(1 1.06)">0</text>
<text transform="translate(3742.78 1024.8) scale(1 1.06)">0.5</text>
<path transform="translate(3959.51 1024.8) scale(0.03247 -0.03247)" d="M763 0L583 0L583 1147Q518 1085 412.5 1023Q307 961 223 930L223 1104Q374 1175 487 1276Q600 1377 647 1472L763 1472Z"/>
<text x="3789" y="1096" text-anchor="middle">t/T</text>
<text transform="translate(226.83 965.3) scale(1 1.06)">0</text>
<text transform="translate(171.37 776.3) scale(1 1.06)">0.5</text>
<path transform="translate(226.83 587.3) scale(0.03247 -0.03247)" d="M763 0L583 0L583 1147Q518 1085 412.5 1023Q307 961 223 930L223 1104Q374 1175 487 1276Q600 1377 647 1472L763 1472Z"/>
<text transform="translate(154.6 755.8) rotate(-90)" text-anchor="middle">x/d</text>
<text transform="translate(77 756.2) rotate(-90)" text-anchor="middle" letter-spacing="0.5">simulation</text>
<path d="M3855.3 855.3H4037.5" class="dl"/>
<path d="M3946 946.3H4037.5" class="dl"/>
<path d="M4010.8 867.8V939.3" stroke="#000" stroke-width="4.2" fill="none"/>
<path d="M4010.8 855.8l13 25l-13 -8.5l-13 8.5z" fill="#000"/>
<path d="M4010.8 951.3l13 -26l-13 8.5l-13 -8.5z" fill="#000"/>
<text x="4021.3" y="912.3">x<tspan font-size="47.5" dy="18">pe</tspan></text>
</svg>
</body></html>
